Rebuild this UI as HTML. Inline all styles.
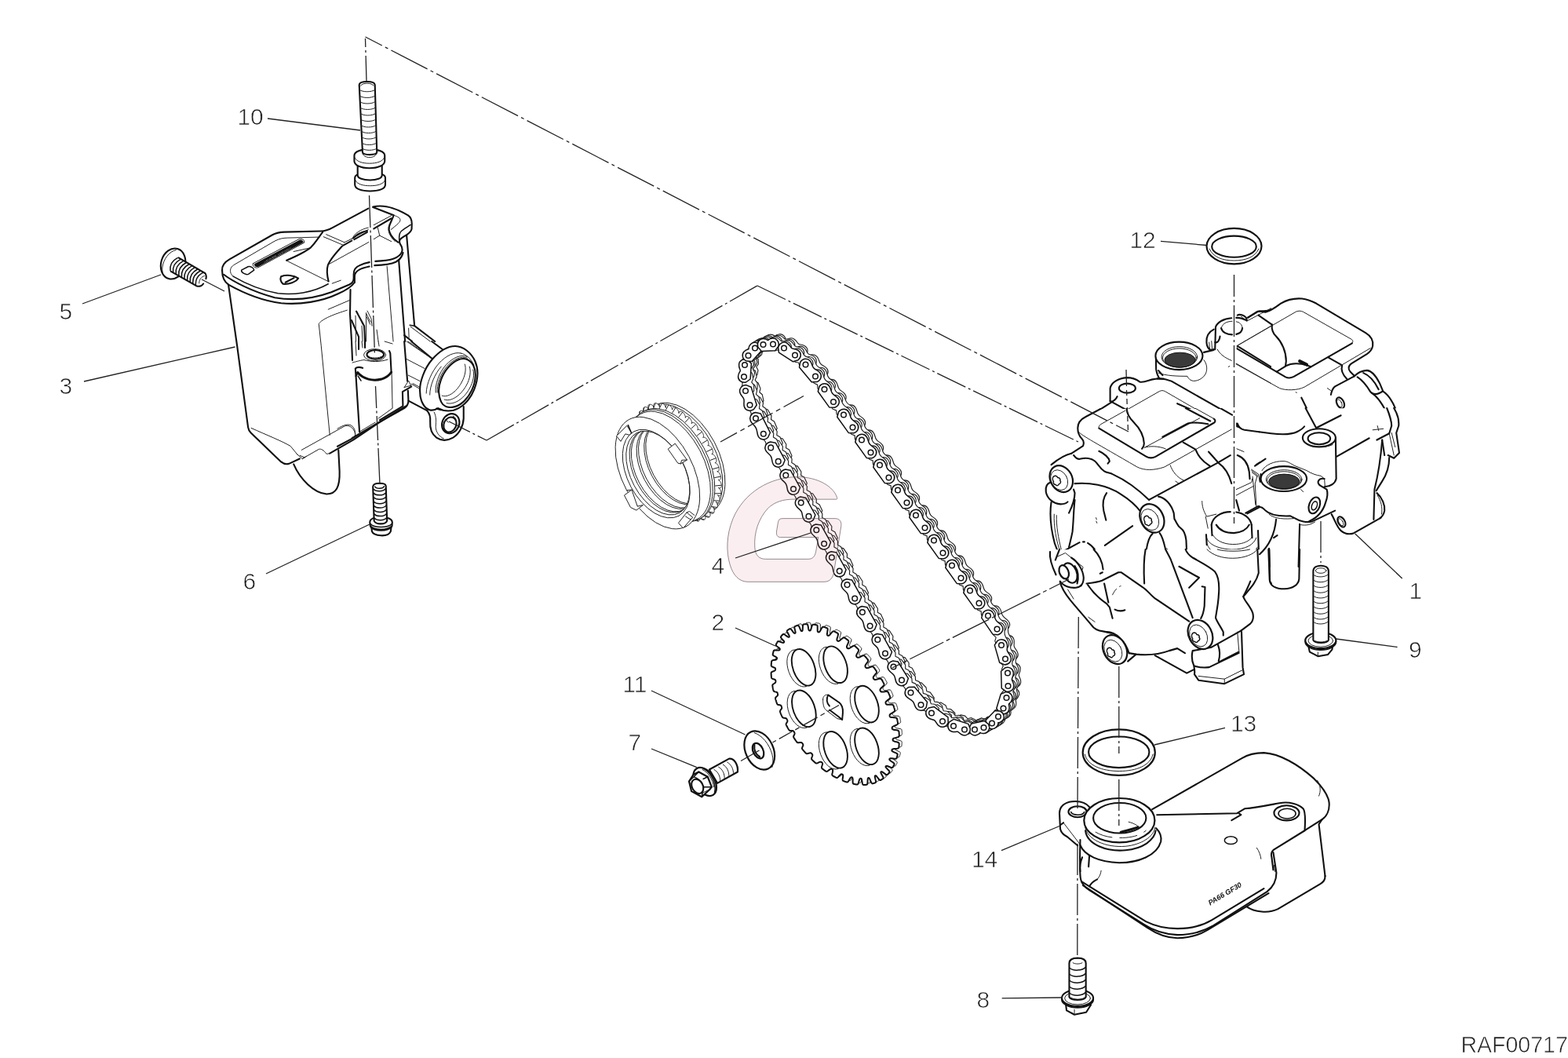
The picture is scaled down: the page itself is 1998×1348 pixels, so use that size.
<!DOCTYPE html>
<html lang="en"><head><meta charset="utf-8"><title>RAF00717</title>
<style>
html,body{margin:0;padding:0;background:#fff;}
body{width:1998px;height:1348px;overflow:hidden;}
path,ellipse,circle,line,rect,polyline,polygon{vector-effect:non-scaling-stroke;}
svg{display:block;font-family:"Liberation Sans",sans-serif;}
.o{fill:none;stroke:#111;stroke-width:2.1;stroke-linecap:round;stroke-linejoin:round;}
.of{fill:#fff;stroke:#111;stroke-width:2.1;stroke-linecap:round;stroke-linejoin:round;}
.m{fill:none;stroke:#111;stroke-width:1.5;stroke-linecap:round;stroke-linejoin:round;}
.mf{fill:#fff;stroke:#111;stroke-width:1.5;stroke-linecap:round;stroke-linejoin:round;}
.t{fill:none;stroke:#222;stroke-width:1;stroke-linecap:round;stroke-linejoin:round;}
.tf{fill:#fff;stroke:#222;stroke-width:1;stroke-linecap:round;stroke-linejoin:round;}
.ld{fill:none;stroke:#222;stroke-width:1.3;}
.dd{fill:none;stroke:#222;stroke-width:1.3;stroke-dasharray:28 5 4 5;}
.lb{font-size:30px;fill:#1c1c1c;stroke:#fff;stroke-width:0.7px;}
.w{fill:#fff;stroke:none;}
.k{fill:#111;stroke:none;}
</style></head>
<body>
<svg width="1998" height="1348" viewBox="0 0 1998 1348">
<rect width="1998" height="1348" fill="#fff"/>
<!-- bolt 10 : zoom region (250,30) 4x -->
<g transform="translate(250,30) scale(0.25025)">
<path class="of" d="M808,785 V820 C808,842 842,853 885,853 C930,853 963,842 963,820 V785 C963,768 930,758 885,758 C840,758 808,768 808,785Z"/>
<path class="t" d="M812,800 C820,818 850,826 885,826 C922,826 952,818 960,800"/>
<path class="of" d="M822,715 V772 C822,788 850,797 885,797 C920,797 946,788 946,772 V715Z"/>
<path class="of" d="M805,672 V700 C805,722 840,736 882,736 C925,736 960,722 960,700 V672 C960,652 925,640 882,640 C840,640 805,652 805,672Z"/>
<path class="t" d="M807,682 C815,702 845,712 882,712 C920,712 950,702 958,682"/>
<path class="of" d="M830,312 L847,655 C850,672 918,672 920,655 L910,312 C908,290 832,290 830,312Z"/>
<path class="t" d="M846,658 C850,690 915,690 920,658"/>
<path class="t" d="M838,316 C845,300 895,300 903,316 M833,338 C845,350 895,350 909,338 M833,368 C845,381 895,381 910,368 M834,398 C846,411 896,411 911,398 M835,428 C847,441 897,441 912,428 M837,458 C849,471 899,471 913,458 M838,488 C850,501 900,501 914,488 M840,518 C852,531 901,531 915,518 M841,548 C853,561 902,561 916,548 M843,578 C855,591 903,591 917,578 M844,608 C856,621 904,621 918,608 M846,636 C858,648 905,648 919,636"/>
</g>

<!-- bolt 5 : zoom E (190,305) 16.64x -->
<g transform="translate(190,305) scale(0.06009)">
<ellipse class="of" cx="510" cy="516" rx="255" ry="330" transform="rotate(17 508 512)"/>
<path class="t" d="M570,225 C430,250 300,420 280,600 C275,660 285,710 300,750"/>
<path class="of" d="M625,390 L1190,720 C1215,760 1215,800 1205,835 L1150,940 C1120,985 1060,1005 1000,985 L465,680 C420,600 480,400 625,390Z" style="stroke:none"/>
<path class="o" d="M625,390 L1190,720 C1212,755 1215,800 1205,835"/>
<path class="o" d="M465,680 L1000,985 C1060,1005 1120,985 1150,940"/>
<path class="m" d="M600,392 Q430,481 450,660"/>
<path class="m" d="M661,426 Q490,515 510,694"/>
<path class="m" d="M722,460 Q551,550 570,729"/>
<path class="m" d="M783,495 Q612,584 630,763"/>
<path class="m" d="M844,529 Q672,618 690,797"/>
<path class="m" d="M906,563 Q732,652 749,832"/>
<path class="m" d="M967,597 Q793,687 809,866"/>
<path class="m" d="M1028,632 Q854,721 869,900"/>
<path class="m" d="M1089,666 Q914,755 929,934"/>
<path class="m" d="M1150,700 Q974,789 989,969"/>
<path class="t" d="M1170,775 C1110,790 1060,850 1060,930"/>
</g>
<path class="ld" d="M257,356 L286,371"/>

<!-- bolt 6 : zoom F (425,605) 16.64x -->
<g transform="translate(425,605) scale(0.06009)">
<path class="of" d="M805,1120 L815,1200 C850,1295 1150,1335 1212,1200 L1222,1120Z"/>
<path class="of" d="M770,1010 C770,935 870,895 1005,895 C1140,895 1245,935 1245,1010 L1240,1085 C1150,1185 850,1185 780,1085Z"/>
<path class="o" d="M790,1105 C860,1200 1150,1200 1228,1105"/>
<path class="m" d="M785,1040 C860,1130 1150,1130 1235,1040"/>
<path class="of" d="M835,250 C840,200 900,180 975,180 C1050,180 1105,200 1110,235 L1135,975 C1100,1060 900,1060 860,975Z"/>
<path class="m" d="M880,250 C900,300 1050,300 1070,245"/>
<path class="m" d="M841,300 C901,362 1048,362 1108,292"/>
<path class="m" d="M844,385 C904,447 1051,447 1111,377"/>
<path class="m" d="M847,475 C907,537 1054,537 1114,467"/>
<path class="m" d="M850,565 C910,627 1057,627 1117,557"/>
<path class="m" d="M853,655 C913,717 1060,717 1120,647"/>
<path class="m" d="M856,745 C916,807 1063,807 1123,737"/>
<path class="m" d="M859,830 C919,892 1066,892 1126,822"/>
<path class="m" d="M862,915 C922,977 1069,977 1129,907"/>
</g>

<!-- housing 3 lid : zoom region (230,240) 5x -->
<g transform="translate(230,240) scale(0.20025)">
<!-- outer rim -->
<path class="o" d="M265,522 C262,492 282,468 312,451 L585,296 C612,282 632,279 662,278 L892,272 C922,271 942,264 967,250 L1195,128"/>
<path class="o" d="M1225,117 C1250,112 1285,112 1310,116 C1360,124 1420,155 1448,172 C1466,184 1472,205 1472,225 L1471,258 C1468,275 1455,285 1440,295 C1425,305 1410,312 1400,322 C1392,330 1392,345 1400,358 C1412,375 1414,390 1408,405 C1400,425 1380,440 1350,450 C1320,460 1280,462 1240,464"/>
<path class="o" d="M1225,120 L1357,171 C1350,190 1340,210 1332,230 C1322,252 1326,275 1340,298 C1352,318 1368,332 1384,343"/>
<path class="m" d="M1464,232 C1440,248 1420,258 1405,272 C1392,284 1390,300 1392,328"/>
<path class="t" d="M1357,171 C1385,180 1400,190 1398,204 C1395,220 1365,240 1340,262"/>
<path class="t" d="M1330,228 C1318,255 1322,280 1338,305 C1346,318 1354,328 1365,338"/>
<path class="o" d="M1416,409 C1410,435 1395,455 1370,468 C1340,482 1290,488 1235,490"/>
<path class="o" d="M265,522 C265,560 280,595 305,612"/>
<path class="o" d="M305,612 C400,665 520,715 640,730 C760,742 900,720 1000,672 C1050,650 1090,625 1108,598"/>
<path class="o" d="M275,548 C330,590 450,655 600,695 C720,715 850,700 960,660 L1075,612 C1095,602 1102,590 1102,570 L1102,545 C1102,520 1115,500 1140,490 C1160,480 1180,474 1202,470"/>
<path class="o" d="M1108,598 L1108,560 C1108,540 1120,526 1140,516 C1160,506 1180,502 1202,497"/>
<!-- inner lid lines -->
<path class="m" d="M335,560 C420,610 520,650 620,668 C720,680 840,665 940,608"/>
<path class="t" d="M335,560 C318,545 312,525 322,505 C326,497 335,490 345,484 L600,335 C630,320 650,316 680,315 L885,310"/>
<path class="t" d="M965,605 L1020,585"/>
<!-- channel -->
<path class="o" d="M905,278 C880,310 860,345 830,375 C800,400 740,430 675,458"/>
<path class="t" d="M675,460 L940,592"/>
<path class="t" d="M720,402 L828,378"/>
<path class="o" d="M1029,367 C990,410 955,445 938,488 C928,520 934,560 942,592"/>
<path class="t" d="M910,308 L1033,360 M927,293 L1040,342"/>
<path class="o" d="M1036,363 L1090,333 M1105,325 L1188,279"/>
<path class="t" d="M1040,345 L1095,318 M1105,312 L1195,262"/>
<path class="t" d="M1093,322 C1100,290 1150,258 1195,250"/>
<path class="o" d="M1100,316 C1120,295 1150,278 1188,270"/>
<path class="t" d="M1230,233 L1342,173"/>
<path class="o" d="M1230,257 L1342,191"/>
<path class="t" d="M1255,250 L1267,300 L1342,338 M1267,300 L1230,323"/>
<path class="t" d="M938,486 L1198,342"/>
<!-- label plate -->
<path class="t" d="M462,478 L755,322 C775,318 790,328 788,345 L495,503 C475,510 455,497 462,478Z"/>
<path class="k" d="M470,481 L757,328 C770,325 783,333 782,345 L494,499 C480,503 466,494 470,481Z"/>
<text transform="translate(530,474) rotate(-28)" font-size="9" font-weight="bold" fill="#999" textLength="200" lengthAdjust="spacingAndGlyphs" style="filter:grayscale(1)">&gt;PA66-GF30&lt;</text>
<path class="m" d="M388,520 L430,498 C445,494 468,508 468,520 L432,546 C418,552 384,537 388,520Z"/>
<!-- logo -->
<path class="o" d="M640,560 C675,548 720,552 750,572 C735,595 690,612 652,608 C638,595 634,575 640,560Z"/>
<path class="o" d="M668,598 L722,570"/>
</g>

<!-- housing 3 body : zoom A coords (230,240) 5x -->
<g transform="translate(230,240) scale(0.20025)">
<path class="o" d="M305,615 L360,1000 L430,1520 C432,1535 438,1545 448,1555 L640,1740 C655,1752 672,1758 690,1752 L758,1720"/>
<path class="o" d="M950,1686 L1100,1600 L1260,1492 L1435,1385"/>
<path class="t" d="M740,1690 L775,1720 L880,1660 C895,1655 910,1665 930,1690 L950,1686"/>
<path class="t" d="M760,1700 L790,1712 M775,1722 L800,1705"/>
<path class="o" d="M720,1755 C760,1850 850,1940 930,1945 C990,1945 1015,1900 1012,1800 L1005,1665"/>
<path class="t" d="M450,1525 C550,1570 650,1610 700,1640 L745,1695"/>
<path class="t" d="M770,1665 L1040,1515 C1070,1500 1100,1520 1112,1560 L1110,1580"/>
<path class="t" d="M1060,775 C980,800 900,830 880,862 L895,1000 L950,1570"/>
<path class="t" d="M940,770 L1075,712"/>
</g>
<!-- zoom C coords (430,300) 10x -->
<g transform="translate(430,300) scale(0.10015)">
<path class="o" d="M165,690 L160,1000 L180,1348"/>
<path class="o" d="M780,310 L860,1348"/>
<path class="o" d="M880,0 L980,1150 L1240,1348"/>
<path class="m" d="M920,1140 L980,1150"/>
<path class="t" d="M930,1160 L1180,1348 M905,1180 L910,1300"/>
<path class="o" d="M850,1270 L950,1348"/>
<path class="t" d="M630,390 L710,1348"/>
<path class="o" d="M240,965 L340,1150 L350,1348"/>
<path class="o" d="M180,1080 L270,1290 L270,1348"/>
<path class="t" d="M380,960 L430,1060 L440,1150 M370,1000 L420,1100 M375,1040 L415,1130 M365,985 L365,1348 M310,1150 L320,1348 M230,1020 L235,1348 M500,1200 L520,1348"/>
<path class="t" d="M250,970 L320,1130"/>
</g>
<!-- zoom D coords (430,435) 10x -->
<g transform="translate(430,435) scale(0.10015)">
<path class="o" d="M180,0 L190,240"/>
<path class="o" d="M270,0 L270,100 M350,0 L350,80"/>
<path class="t" d="M230,0 L240,180 M310,0 L320,80 M520,0 L530,60 M600,0 L700,30"/>
<path class="t" d="M190,270 C260,250 300,240 340,235 C420,260 540,265 640,230"/>
<ellipse class="t" cx="475" cy="172" rx="140" ry="76"/>
<ellipse class="o" cx="482" cy="168" rx="108" ry="58"/>
<path class="t" d="M390,185 C400,215 540,225 580,180"/>
<path class="o" d="M660,120 L672,150 L685,390"/>
<path class="o" d="M255,395 C330,480 450,510 560,480 C610,465 660,430 685,392" style="stroke-width:3"/>
<path class="o" d="M320,338 C285,325 245,328 228,345 L235,440 C245,420 255,405 262,395"/>
<path class="o" d="M235,440 L280,1150"/>
<path class="m" d="M262,440 L300,500"/>
<path class="t" d="M690,400 L700,850 L520,980"/>
<path class="o" d="M850,0 L890,505"/>
<path class="o" d="M0,1335 L180,1240 L500,1045 L850,850 C880,830 900,800 903,760 L897,625"/>
<path class="o" d="M540,1000 L833,822 L828,640 L940,575"/>
<path class="t" d="M180,1225 L430,1080 M280,1150 L480,1030"/>
<path class="t" d="M0,1110 C80,1060 150,1040 190,1080 C215,1105 228,1140 225,1175"/>
<path class="t" d="M850,585 L905,500 L940,575 M850,585 L940,560"/>
<!-- arm -->
<path class="o" d="M940,0 L1200,215"/>
<path class="o" d="M1200,0 L1335,100"/>
<path class="t" d="M880,0 L1180,205 M900,0 L1190,210"/>
<path class="t" d="M880,225 L1110,345 M900,430 L1050,505"/>
<path class="t" d="M940,540 L1040,600 M960,535 L1050,585"/>
<path class="o" d="M903,755 L1140,880"/>
<!-- flange ring -->
<path class="of" d="M1050,640 C1040,520 1110,340 1200,235 C1290,130 1400,60 1500,60 C1600,62 1700,140 1750,250 C1800,360 1790,480 1740,610 C1700,710 1630,800 1540,850 C1460,895 1360,895 1280,850 C1200,900 1130,870 1090,800 C1060,750 1050,700 1050,640Z"/>
<path class="t" d="M1130,660 C1130,540 1200,380 1290,280 C1380,180 1490,130 1570,150 M1175,680 C1175,560 1240,410 1320,320"/>
<path class="t" d="M1570,150 C1640,165 1700,220 1735,300"/>
<path class="o" d="M1290,650 C1280,560 1330,420 1410,330 C1490,240 1580,200 1650,230 C1720,260 1760,340 1755,440 C1750,560 1690,690 1600,770 C1510,850 1400,860 1340,800 C1310,765 1295,710 1290,650Z"/>
<path class="t" d="M1250,650 C1240,550 1290,400 1380,300 C1470,205 1570,160 1650,195 M1270,650 C1262,555 1310,410 1395,315 C1480,225 1575,180 1650,212"/>
<path class="t" d="M1330,690 C1400,720 1510,650 1580,520 C1630,430 1640,340 1620,290 M1360,740 C1440,770 1560,700 1640,560 C1690,470 1700,380 1680,320 M1390,785 C1480,810 1600,740 1680,600 C1730,510 1745,420 1725,360"/>
<path class="o" d="M1260,855 L1320,870"/>
<!-- lug -->
<path class="o" d="M1140,880 C1175,920 1185,960 1180,1020 C1175,1100 1200,1180 1260,1225 C1320,1265 1400,1265 1470,1225 C1550,1175 1600,1080 1605,980 L1605,830"/>
<path class="t" d="M1230,900 C1260,960 1255,1020 1250,1080 C1250,1150 1290,1210 1350,1235"/>
<ellipse class="o" cx="1440" cy="1045" rx="108" ry="128" transform="rotate(25 1440 1045)"/>
<ellipse class="o" cx="1432" cy="1058" rx="78" ry="98" transform="rotate(25 1432 1058)"/>
<path class="t" d="M1470,950 C1500,960 1520,1000 1512,1040 M1385,1000 L1410,1030"/>
</g>

<!-- ring gear : zoom R (770,500) 7.094x -->
<g transform="translate(770,500) scale(0.14096)">
<ellipse class="tf" cx="712" cy="598" rx="545" ry="320" transform="rotate(62 712 598)"/>
<ellipse class="tf" cx="690" cy="610" rx="545" ry="320" transform="rotate(62 690 610)"/>
<path class="tf" d="M908,1107 L913,1119 L914,1124 L914,1127 L914,1130 L914,1133 L914,1136 L913,1138 L913,1140 L912,1142 L911,1144 L910,1145 L909,1146 L908,1148 L907,1149 L905,1150 L904,1150 L903,1151 L901,1152 L900,1152 L898,1152 L897,1152 L895,1152 L893,1152 L891,1152 L889,1151 L888,1151 L886,1150 L883,1149 L881,1148 L879,1146 L877,1145 L874,1142 L871,1140 L868,1136 L861,1124 L865,1136 L865,1141 L865,1144 L865,1147 L864,1150 L863,1152 L862,1154 L861,1156 L860,1157 L859,1158 L858,1160 L857,1161 L856,1161 L854,1162 L853,1163 L851,1163 L850,1163 L848,1164 L846,1164 L845,1164 L843,1163 L841,1163 L839,1162 L838,1162 L836,1161 L834,1160 L832,1159 L829,1157 L827,1156 L825,1154 L823,1151 L820,1149 L818,1146 L815,1141 L809,1129 L812,1141 L811,1146 L811,1149 L810,1151 L809,1153 L808,1155 L807,1157 L805,1158 L804,1159 L803,1160 L801,1161 L800,1162 L798,1162 L797,1163 L795,1163 L793,1163 L792,1163 L790,1163 L788,1162 L787,1162 L785,1161 L783,1160 L781,1159 L779,1158 L777,1157 L775,1156 L773,1154 L771,1152 L769,1150 L767,1148 L765,1146 L763,1143 L760,1139 L758,1134 L754,1122 L754,1134 L753,1138 L752,1140 L751,1142 L750,1144 L748,1146 L747,1147 L746,1148 L744,1148 L742,1149 L741,1149 L739,1150 L738,1150 L736,1150 L734,1150 L732,1149 L731,1149 L729,1148 L727,1148 L725,1147 L723,1146 L721,1145 L720,1143 L718,1142 L716,1140 L714,1139 L712,1137 L710,1135 L708,1132 L706,1130 L704,1127 L702,1124 L700,1120 L698,1115 L695,1103 L695,1114 L693,1117 L692,1119 L690,1121 L689,1122 L687,1123 L685,1124 L683,1125 L682,1125 L680,1125 L678,1125 L676,1125 L675,1125 L673,1124 L671,1124 L669,1123 L667,1122 L666,1121 L664,1120 L662,1119 L660,1118 L658,1116 L657,1115 L655,1113 L653,1111 L651,1109 L649,1107 L648,1104 L646,1102 L644,1099 L642,1096 L641,1093 L639,1089 L637,1084 L636,1072 L634,1082 L632,1085 L630,1086 L628,1088 L626,1088 L624,1089 L623,1089 L621,1089 L619,1089 L617,1089 L615,1089 L613,1088 L611,1087 L610,1087 L608,1086 L606,1085 L604,1083 L602,1082 L601,1081 L599,1079 L597,1078 L595,1076 L594,1074 L592,1072 L590,1070 L589,1068 L587,1065 L585,1063 L584,1060 L582,1057 L581,1054 L580,1050 L578,1046 L577,1042 L577,1031 L574,1039 L571,1041 L569,1042 L567,1043 L565,1043 L563,1043 L561,1043 L559,1043 L557,1042 L555,1041 L553,1041 L551,1040 L549,1039 L547,1038 L546,1036 L544,1035 L542,1033 L540,1032 L538,1030 L537,1028 L535,1027 L534,1025 L532,1022 L530,1020 L529,1018 L528,1015 L526,1013 L525,1010 L524,1007 L522,1004 L521,1001 L520,998 L519,994 L519,989 L521,979 L516,986 L513,987 L510,988 L508,988 L506,988 L503,987 L501,987 L499,986 L497,985 L495,984 L493,983 L491,981 L490,980 L488,979 L486,977 L484,975 L483,974 L481,972 L479,970 L478,968 L476,966 L475,964 L473,961 L472,959 L471,956 L470,954 L468,951 L467,948 L466,946 L466,942 L465,939 L464,936 L464,932 L464,928 L467,919 L461,924 L458,925 L455,924 L453,924 L450,923 L448,922 L446,921 L444,920 L442,919 L440,918 L438,916 L436,914 L434,913 L432,911 L431,909 L429,907 L427,905 L426,903 L425,901 L423,899 L422,897 L421,894 L419,892 L418,889 L417,887 L416,884 L415,882 L415,879 L414,876 L413,873 L413,870 L413,867 L413,863 L414,859 L418,852 L411,855 L408,855 L405,854 L402,853 L400,852 L397,851 L395,849 L393,848 L391,846 L389,844 L387,842 L386,840 L384,839 L382,837 L381,834 L379,832 L378,830 L377,828 L375,826 L374,823 L373,821 L372,819 L371,816 L370,814 L370,811 L369,808 L368,806 L368,803 L368,800 L367,797 L367,794 L368,791 L368,788 L369,785 L375,779 L367,780 L363,779 L360,778 L358,777 L355,775 L353,773 L351,771 L349,769 L347,767 L345,765 L344,763 L342,761 L341,759 L339,757 L338,755 L336,752 L335,750 L334,748 L333,745 L332,743 L331,741 L331,738 L330,736 L329,733 L329,731 L328,728 L328,726 L328,723 L328,720 L328,718 L329,715 L329,712 L330,709 L332,707 L339,703 L330,702 L327,700 L324,698 L321,696 L319,694 L316,692 L314,690 L313,688 L311,686 L309,683 L308,681 L306,679 L305,677 L304,674 L302,672 L301,669 L300,667 L300,665 L299,662 L298,660 L298,657 L297,655 L297,653 L296,650 L296,648 L296,645 L296,643 L296,641 L297,638 L297,636 L298,633 L299,631 L301,629 L303,626 L310,624 L301,622 L298,620 L295,617 L292,615 L290,612 L288,610 L286,607 L284,605 L283,603 L281,600 L280,598 L279,595 L278,593 L277,590 L276,588 L275,586 L274,583 L274,581 L273,578 L273,576 L272,574 L272,571 L272,569 L272,567 L272,565 L273,562 L273,560 L273,558 L274,556 L275,554 L276,552 L278,550 L279,548 L282,547 L290,546 L281,542 L278,539 L275,536 L272,533 L270,531 L269,528 L267,525 L265,523 L264,520 L263,518 L262,515 L261,513 L260,510 L259,508 L259,505 L258,503 L258,500 L257,498 L257,496 L257,494 L257,491 L257,489 L257,487 L257,485 L258,483 L258,481 L259,479 L260,477 L261,475 L262,474 L264,472 L265,471 L268,469 L271,469 L279,470 L270,464 L267,461 L264,457 L262,454 L260,451 L259,449 L257,446 L256,443 L255,440 L254,438 L253,435 L253,433 L252,430 L251,428 L251,425 L251,423 L251,421 L251,419 L251,417 L251,414 L251,412 L251,410 L252,408 L253,407 L253,405 L254,403 L255,402 L256,400 L258,399 L259,397 L261,396 L263,395 L265,395 L269,395 L278,398 L269,391 L266,387 L263,383 L261,380 L260,377 L259,374 L258,371 L257,368 L256,365 L255,363 L255,360 L254,358 L254,355 L254,353 L254,351 L254,349 L254,346 L254,344 L254,342 L255,341 L255,339 L256,337 L257,335 L258,334 L259,332 L260,331 L261,330 L262,329 L264,328 L266,327 L268,326 L270,326 L273,326 L276,327 L285,332 L277,323 L274,318 L272,315 L270,311 L269,308 L268,305 L267,302 L267,299 L266,297 L266,294 L266,292 L266,289 L266,287 L266,285 L266,283 L266,281 L267,279 L267,277 L268,275 L268,274 L269,272 L270,271 L271,270 L272,268 L274,267 L275,266 L276,265 L278,265 L280,264 L282,264 L284,264 L286,264 L289,265 L293,266 L302,273 L294,263 L292,258 L290,254 L289,251 L288,247 L287,244 L287,242 L287,239 L286,236 L286,234 L286,232 L287,229 L287,227 L287,225 L288,224 L288,222 L289,220 L290,219 L291,217 L292,216 L293,215 L294,214 L295,213 L297,212 L298,211 L300,210 L301,210 L303,210 L305,210 L307,210 L309,210 L312,211 L315,212 L319,214 L327,223 L320,212 L318,207 L317,203 L316,199 L316,196 L316,193 L316,191 L316,188 L316,186 L316,183 L316,181 L317,179 L317,178 L318,176 L319,174 L320,173 L321,171 L322,170 L323,169 L324,168 L325,167 L327,167 L328,166 L330,165 L331,165 L333,165 L335,165 L337,165 L339,165 L341,166 L343,167 L346,168 L349,170 L353,173 L361,183 L355,171 L353,166 L353,162 L352,159 L352,156 L352,153 L352,150 L353,148 L353,146 L354,144 L354,142 L355,140 L356,139 L357,138 L358,136 L359,135 L360,134 L362,133 L363,132 L364,132 L366,131 L367,131 L369,131 L371,131 L372,131 L374,131 L376,131 L378,132 L380,133 L383,134 L385,135 L388,137 L391,139 L394,143 L402,153 L397,141 L396,136 L396,133 L396,130 L396,127 L396,124 L397,122 L397,120 L398,118 L399,116 L400,115 L401,114 L402,112 L403,111 L405,110 L406,110 L407,109 L409,108 L410,108 L412,108 L413,108 L415,108 L417,108 L419,108 L421,109 L422,109 L424,110 L427,111 L429,112 L431,114 L433,115 L436,118 L439,120 L442,124 L449,136 L445,124 L445,119 L445,116 L445,113 L446,110 L447,108 L448,106 L449,104 L450,103 L451,102 L452,100 L453,99 L454,99 L456,98 L457,97 L459,97 L460,97 L462,96 L464,96 L465,96 L467,97 L469,97 L471,98 L472,98 L474,99 L476,100 L478,101 L481,103 L483,104 L485,106 L487,109 L490,111 L492,114 L495,119 L501,131 L498,119 L499,114 L499,111 L500,109 L501,107 L502,105 L503,103 L505,102 L506,101 L507,100 L509,99 L510,98 L512,98 L513,97 L515,97 L517,97 L518,97 L520,97 L522,98 L523,98 L525,99 L527,100 L529,101 L531,102 L533,103 L535,104 L537,106 L539,108 L541,110 L543,112 L545,114 L547,117 L550,121 L552,126 L556,138 L556,126 L557,122 L558,120 L559,118 L560,116 L562,114 L563,113 L564,112 L566,112 L568,111 L569,111 L571,110 L572,110 L574,110 L576,110 L578,111 L579,111 L581,112 L583,112 L585,113 L587,114 L589,115 L590,117 L592,118 L594,120 L596,121 L598,123 L600,125 L602,128 L604,130 L606,133 L608,136 L610,140 L612,145 L615,157 L615,146 L617,143 L618,141 L620,139 L621,138 L623,137 L625,136 L627,135 L628,135 L630,135 L632,135 L634,135 L635,135 L637,136 L639,136 L641,137 L643,138 L644,139 L646,140 L648,141 L650,142 L652,144 L653,145 L655,147 L657,149 L659,151 L661,153 L662,156 L664,158 L666,161 L668,164 L669,167 L671,171 L673,176 L674,188 L676,178 L678,175 L680,174 L682,172 L684,172 L686,171 L687,171 L689,171 L691,171 L693,171 L695,171 L697,172 L699,173 L700,173 L702,174 L704,175 L706,177 L708,178 L709,179 L711,181 L713,182 L715,184 L716,186 L718,188 L720,190 L721,192 L723,195 L725,197 L726,200 L728,203 L729,206 L730,210 L732,214 L733,218 L733,229 L736,221 L739,219 L741,218 L743,217 L745,217 L747,217 L749,217 L751,217 L753,218 L755,219 L757,219 L759,220 L761,221 L763,222 L764,224 L766,225 L768,227 L770,228 L772,230 L773,232 L775,233 L776,235 L778,238 L780,240 L781,242 L782,245 L784,247 L785,250 L786,253 L788,256 L789,259 L790,262 L791,266 L791,271 L789,281 L794,274 L797,273 L800,272 L802,272 L804,272 L807,273 L809,273 L811,274 L813,275 L815,276 L817,277 L819,279 L820,280 L822,281 L824,283 L826,285 L827,286 L829,288 L831,290 L832,292 L834,294 L835,296 L837,299 L838,301 L839,304 L840,306 L842,309 L843,312 L844,314 L844,318 L845,321 L846,324 L846,328 L846,332 L843,341 L849,336 L852,335 L855,336 L857,336 L860,337 L862,338 L864,339 L866,340 L868,341 L870,342 L872,344 L874,346 L876,347 L878,349 L879,351 L881,353 L883,355 L884,357 L885,359 L887,361 L888,363 L889,366 L891,368 L892,371 L893,373 L894,376 L895,378 L895,381 L896,384 L897,387 L897,390 L897,393 L897,397 L896,401 L892,408 L899,405 L902,405 L905,406 L908,407 L910,408 L913,409 L915,411 L917,412 L919,414 L921,416 L923,418 L924,420 L926,421 L928,423 L929,426 L931,428 L932,430 L933,432 L935,434 L936,437 L937,439 L938,441 L939,444 L940,446 L940,449 L941,452 L942,454 L942,457 L942,460 L943,463 L943,466 L942,469 L942,472 L941,475 L935,481 L943,480 L947,481 L950,482 L952,483 L955,485 L957,487 L959,489 L961,491 L963,493 L965,495 L966,497 L968,499 L969,501 L971,503 L972,505 L974,508 L975,510 L976,512 L977,515 L978,517 L979,519 L979,522 L980,524 L981,527 L981,529 L982,532 L982,534 L982,537 L982,540 L982,542 L981,545 L981,548 L980,551 L978,553 L971,557 L980,558 L983,560 L986,562 L989,564 L991,566 L994,568 L996,570 L997,572 L999,574 L1001,577 L1002,579 L1004,581 L1005,583 L1006,586 L1008,588 L1009,591 L1010,593 L1010,595 L1011,598 L1012,600 L1012,603 L1013,605 L1013,607 L1014,610 L1014,612 L1014,615 L1014,617 L1014,619 L1013,622 L1013,624 L1012,627 L1011,629 L1009,631 L1007,634 L1000,636 L1009,638 L1012,640 L1015,643 L1018,645 L1020,648 L1022,650 L1024,653 L1026,655 L1027,657 L1029,660 L1030,662 L1031,665 L1032,667 L1033,670 L1034,672 L1035,674 L1036,677 L1036,679 L1037,682 L1037,684 L1038,686 L1038,689 L1038,691 L1038,693 L1038,695 L1037,698 L1037,700 L1037,702 L1036,704 L1035,706 L1034,708 L1032,710 L1031,712 L1028,713 L1020,714 L1029,718 L1032,721 L1035,724 L1038,727 L1040,729 L1041,732 L1043,735 L1045,737 L1046,740 L1047,742 L1048,745 L1049,747 L1050,750 L1051,752 L1051,755 L1052,757 L1052,760 L1053,762 L1053,764 L1053,766 L1053,769 L1053,771 L1053,773 L1053,775 L1052,777 L1052,779 L1051,781 L1050,783 L1049,785 L1048,786 L1046,788 L1045,789 L1042,791 L1039,791 L1031,790 L1040,796 L1043,799 L1046,803 L1048,806 L1050,809 L1051,811 L1053,814 L1054,817 L1055,820 L1056,822 L1057,825 L1057,827 L1058,830 L1059,832 L1059,835 L1059,837 L1059,839 L1059,841 L1059,843 L1059,846 L1059,848 L1059,850 L1058,852 L1057,853 L1057,855 L1056,857 L1055,858 L1054,860 L1052,861 L1051,863 L1049,864 L1047,865 L1045,865 L1041,865 L1032,862 L1041,869 L1044,873 L1047,877 L1049,880 L1050,883 L1051,886 L1052,889 L1053,892 L1054,895 L1055,897 L1055,900 L1056,902 L1056,905 L1056,907 L1056,909 L1056,911 L1056,914 L1056,916 L1056,918 L1055,919 L1055,921 L1054,923 L1053,925 L1052,926 L1051,928 L1050,929 L1049,930 L1048,931 L1046,932 L1044,933 L1042,934 L1040,934 L1037,934 L1034,933 L1025,928 L1033,937 L1036,942 L1038,945 L1040,949 L1041,952 L1042,955 L1043,958 L1043,961 L1044,963 L1044,966 L1044,968 L1044,971 L1044,973 L1044,975 L1044,977 L1044,979 L1043,981 L1043,983 L1042,985 L1042,986 L1041,988 L1040,989 L1039,990 L1038,992 L1036,993 L1035,994 L1034,995 L1032,995 L1030,996 L1028,996 L1026,996 L1024,996 L1021,995 L1017,994 L1008,987 L1016,997 L1018,1002 L1020,1006 L1021,1009 L1022,1013 L1023,1016 L1023,1018 L1023,1021 L1024,1024 L1024,1026 L1024,1028 L1023,1031 L1023,1033 L1023,1035 L1022,1036 L1022,1038 L1021,1040 L1020,1041 L1019,1043 L1018,1044 L1017,1045 L1016,1046 L1015,1047 L1013,1048 L1012,1049 L1010,1050 L1009,1050 L1007,1050 L1005,1050 L1003,1050 L1001,1050 L998,1049 L995,1048 L991,1046 L983,1037 L990,1048 L992,1053 L993,1057 L994,1061 L994,1064 L994,1067 L994,1069 L994,1072 L994,1074 L994,1077 L994,1079 L993,1081 L993,1082 L992,1084 L991,1086 L990,1087 L989,1089 L988,1090 L987,1091 L986,1092 L985,1093 L983,1093 L982,1094 L980,1095 L979,1095 L977,1095 L975,1095 L973,1095 L971,1095 L969,1094 L967,1093 L964,1092 L961,1090 L957,1087 L949,1077 L955,1089 L957,1094 L957,1098 L958,1101 L958,1104 L958,1107 L958,1110 L957,1112 L957,1114 L956,1116 L956,1118 L955,1120 L954,1121 L953,1122 L952,1124 L951,1125 L950,1126 L948,1127 L947,1128 L946,1128 L944,1129 L943,1129 L941,1129 L939,1129 L938,1129 L936,1129 L934,1129 L932,1128 L930,1127 L927,1126 L925,1125 L922,1123 L919,1121 L916,1117Z"/>
<path class="t" d="M901,1149 L857,1136"/>
<path class="t" d="M848,1161 L807,1148"/>
<path class="t" d="M790,1160 L753,1147"/>
<path class="t" d="M729,1146 L695,1134"/>
<path class="t" d="M667,1119 L636,1108"/>
<path class="t" d="M603,1081 L576,1072"/>
<path class="t" d="M542,1031 L518,1025"/>
<path class="t" d="M483,971 L462,969"/>
<path class="t" d="M428,903 L411,904"/>
<path class="t" d="M379,828 L364,834"/>
<path class="t" d="M336,748 L324,759"/>
<path class="t" d="M302,666 L292,681"/>
<path class="t" d="M276,582 L267,602"/>
<path class="t" d="M259,500 L252,524"/>
<path class="t" d="M253,421 L246,450"/>
<path class="t" d="M256,347 L249,380"/>
<path class="t" d="M269,280 L261,317"/>
<path class="t" d="M291,221 L282,262"/>
<path class="t" d="M323,173 L312,216"/>
<path class="t" d="M362,136 L349,181"/>
<path class="t" d="M409,111 L393,158"/>
<path class="t" d="M462,99 L443,146"/>
<path class="t" d="M520,100 L497,147"/>
<path class="t" d="M581,114 L555,160"/>
<path class="t" d="M643,141 L614,186"/>
<path class="t" d="M707,179 L674,222"/>
<path class="t" d="M768,229 L732,269"/>
<path class="t" d="M827,289 L788,325"/>
<path class="t" d="M882,357 L839,390"/>
<path class="t" d="M931,432 L886,460"/>
<path class="t" d="M974,512 L926,535"/>
<path class="t" d="M1008,594 L958,613"/>
<path class="t" d="M1034,678 L983,692"/>
<path class="t" d="M1051,760 L998,770"/>
<path class="t" d="M1057,839 L1004,844"/>
<path class="t" d="M1054,913 L1001,914"/>
<path class="t" d="M1041,980 L989,977"/>
<path class="t" d="M1019,1039 L968,1032"/>
<path class="t" d="M987,1087 L938,1078"/>
<path class="t" d="M948,1124 L901,1113"/>
<ellipse class="tf" cx="618" cy="652" rx="548" ry="320" transform="rotate(62 618 652)"/>
<ellipse class="tf" cx="600" cy="662" rx="548" ry="320" transform="rotate(62 600 662)"/>
<ellipse class="tf" cx="585" cy="670" rx="540" ry="315" transform="rotate(62 585 670)"/>
<ellipse class="tf" cx="482" cy="728" rx="548" ry="320" transform="rotate(62 482 728)"/>
<ellipse class="tf" cx="470" cy="735" rx="432" ry="258" transform="rotate(62 470 735)"/>
<ellipse class="t" cx="485" cy="728" rx="410" ry="243" transform="rotate(62 485 728)"/>
<clipPath id="rgc"><ellipse cx="485" cy="728" rx="410" ry="243" transform="rotate(62 485 728)"/></clipPath>
<g clip-path="url(#rgc)">
<ellipse class="t" cx="575" cy="680" rx="405" ry="238" transform="rotate(62 575 680)"/>
<ellipse class="t" cx="592" cy="670" rx="405" ry="238" transform="rotate(62 592 670)"/>
<ellipse class="t" cx="640" cy="645" rx="400" ry="236" transform="rotate(62 640 645)"/>
<ellipse class="t" cx="655" cy="637" rx="400" ry="236" transform="rotate(62 655 637)"/>
<ellipse class="t" cx="512" cy="712" rx="405" ry="240" transform="rotate(62 512 712)"/>
<ellipse class="t" cx="528" cy="704" rx="405" ry="240" transform="rotate(62 528 704)"/>
</g>
<path class="tf" d="M112,392 L205,300 L245,365 L228,385 L190,375 L150,440Z"/>
<path class="m" d="M215,295 L245,365"/>
<path class="tf" d="M578,510 L640,462 L748,610 L690,645 L668,640Z"/>
<path class="t" d="M690,645 L700,612 L748,610"/>
<path class="tf" d="M183,928 L248,880 L300,1030 L350,1018 L290,1065 L240,1040Z"/>
<path class="t" d="M248,880 L205,885"/>
<path class="tf" d="M672,1178 L745,1085 L800,1130 L780,1150 L715,1225Z"/>
<path class="t" d="M745,1085 L770,1075 L815,1110 M735,1120 L780,1150"/>
</g>

<!-- chain 4 (generated) -->
<g>
<path class="tf" style="stroke-width:1.15" d="M969.2,516.2 C963.9,519.6 958.5,517.1 957.2,512.8 C955.9,508.5 957.6,506.4 956.6,503.1 C955.6,499.9 953.0,499.1 951.7,494.8 C950.4,490.5 953.4,485.3 959.7,485.2 L966.0,487.8 L969.0,495.1 L967.8,499.7 L971.3,502.8 L973.0,510.6Z"/>
<path class="tf" style="stroke-width:1.15" d="M959.3,481.6 C953.2,482.9 949.1,478.6 949.4,474.1 C949.7,469.6 952.0,468.3 952.1,466.8 C952.2,465.2 950.1,463.6 950.4,459.1 C950.7,454.6 955.4,450.9 961.2,453.0 L966.2,457.7 L966.5,463.7 L963.8,467.5 L966.0,471.7 L964.9,477.6Z"/>
<path class="tf" style="stroke-width:1.15" d="M960.0,454.7 C954.4,451.9 953.8,446.0 956.8,442.7 C959.8,439.3 962.4,439.7 962.7,439.4 C962.9,439.1 962.3,436.5 965.3,433.2 C968.3,429.8 974.2,429.8 977.6,435.0 L978.7,441.8 L975.9,445.9 L971.4,447.2 L970.6,451.8 L966.8,455.0Z"/>
<path class="tf" style="stroke-width:1.15" d="M974.6,436.9 C972.7,430.9 976.5,426.4 981.0,426.2 C985.5,426.0 987.1,428.2 987.3,428.2 C987.6,428.1 989.0,425.9 993.5,425.7 C998.0,425.5 1002.2,429.8 1000.7,435.8 L996.6,441.3 L991.9,442.2 L987.8,439.8 L983.9,442.5 L979.1,442.0Z"/>
<path class="tf" style="stroke-width:1.15" d="M1000.5,436.9 C1002.3,431.0 1008.0,429.4 1011.8,431.9 C1015.6,434.3 1015.7,437.0 1017.6,438.2 C1019.6,439.5 1022.0,438.4 1025.8,440.9 C1029.6,443.3 1030.6,449.2 1025.9,453.3 L1019.4,455.4 L1013.3,452.3 L1011.3,448.1 L1006.6,448.0 L1001.2,443.7Z"/>
<path class="tf" style="stroke-width:1.15" d="M1028.6,455.8 C1032.2,450.6 1038.1,450.9 1041.0,454.4 C1043.9,457.8 1043.1,460.4 1045.5,463.3 C1048.0,466.2 1050.6,465.9 1053.5,469.4 C1056.4,472.8 1055.5,478.7 1049.8,481.2 L1043.0,481.3 L1037.2,475.4 L1036.6,470.8 L1032.1,469.3 L1027.3,462.5Z"/>
<path class="tf" style="stroke-width:1.15" d="M1052.9,486.8 C1056.8,481.9 1062.7,482.6 1065.3,486.3 C1067.9,489.9 1067.0,492.4 1069.3,495.6 C1071.5,498.7 1074.2,498.6 1076.8,502.3 C1079.4,505.9 1078.2,511.8 1072.3,513.9 L1065.5,513.5 L1060.1,507.1 L1059.8,502.4 L1055.4,500.6 L1051.1,493.4Z"/>
<path class="tf" style="stroke-width:1.15" d="M1077.4,519.3 C1081.3,514.4 1087.2,515.1 1089.8,518.8 C1092.4,522.4 1091.5,524.9 1093.8,528.1 C1096.0,531.2 1098.7,531.1 1101.3,534.8 C1103.9,538.4 1102.7,544.3 1096.8,546.4 L1090.0,546.0 L1084.6,539.6 L1084.3,534.9 L1079.9,533.1 L1075.6,525.9Z"/>
<path class="tf" style="stroke-width:1.15" d="M1100.4,551.3 C1104.3,546.4 1110.2,547.1 1112.8,550.8 C1115.4,554.4 1114.5,556.9 1116.8,560.1 C1119.0,563.2 1121.7,563.1 1124.3,566.8 C1126.9,570.4 1125.7,576.3 1119.8,578.4 L1113.0,578.0 L1107.6,571.6 L1107.3,566.9 L1102.9,565.1 L1098.6,557.9Z"/>
<path class="tf" style="stroke-width:1.15" d="M1123.4,583.3 C1127.3,578.4 1133.2,579.1 1135.8,582.8 C1138.4,586.4 1137.5,588.9 1139.8,592.1 C1142.0,595.2 1144.7,595.1 1147.3,598.8 C1149.9,602.4 1148.7,608.3 1142.8,610.4 L1136.0,610.0 L1130.6,603.6 L1130.3,598.9 L1125.9,597.1 L1121.6,589.9Z"/>
<path class="tf" style="stroke-width:1.15" d="M1146.4,615.3 C1150.3,610.4 1156.2,611.1 1158.8,614.8 C1161.4,618.4 1160.5,620.9 1162.8,624.1 C1165.0,627.2 1167.7,627.1 1170.3,630.8 C1172.9,634.4 1171.7,640.3 1165.8,642.4 L1159.0,642.0 L1153.6,635.6 L1153.3,630.9 L1148.9,629.1 L1144.6,621.9Z"/>
<path class="tf" style="stroke-width:1.15" d="M1169.4,647.3 C1173.3,642.4 1179.2,643.1 1181.8,646.8 C1184.4,650.4 1183.5,652.9 1185.8,656.1 C1188.0,659.2 1190.7,659.1 1193.3,662.8 C1195.9,666.4 1194.7,672.3 1188.8,674.4 L1182.0,674.0 L1176.6,667.6 L1176.3,662.9 L1171.9,661.1 L1167.6,653.9Z"/>
<path class="tf" style="stroke-width:1.15" d="M1192.4,679.3 C1196.3,674.4 1202.2,675.1 1204.8,678.8 C1207.4,682.4 1206.5,684.9 1208.8,688.1 C1211.0,691.2 1213.7,691.1 1216.3,694.8 C1218.9,698.4 1217.7,704.3 1211.8,706.4 L1205.0,706.0 L1199.6,699.6 L1199.3,694.9 L1194.9,693.1 L1190.6,685.9Z"/>
<path class="tf" style="stroke-width:1.15" d="M1215.4,711.3 C1219.3,706.4 1225.2,707.1 1227.8,710.8 C1230.4,714.4 1229.5,716.9 1231.8,720.1 C1234.0,723.2 1236.7,723.1 1239.3,726.8 C1241.9,730.4 1240.7,736.3 1234.8,738.4 L1228.0,738.0 L1222.6,731.6 L1222.3,726.9 L1217.9,725.1 L1213.6,717.9Z"/>
<path class="tf" style="stroke-width:1.15" d="M1238.4,743.3 C1242.3,738.4 1248.2,739.1 1250.8,742.8 C1253.4,746.4 1252.5,748.9 1254.8,752.1 C1257.0,755.2 1259.7,755.1 1262.3,758.8 C1264.9,762.4 1263.7,768.3 1257.8,770.4 L1251.0,770.0 L1245.6,763.6 L1245.3,758.9 L1240.9,757.1 L1236.6,749.9Z"/>
<path class="tf" style="stroke-width:1.15" d="M1261.5,775.1 C1265.5,770.4 1271.4,771.2 1273.9,775.0 C1276.5,778.7 1275.5,781.2 1277.9,784.7 C1280.2,788.2 1282.9,788.2 1285.4,792.0 C1288.0,795.7 1286.5,801.5 1280.6,803.4 L1273.8,802.8 L1268.3,796.0 L1268.2,791.2 L1263.9,789.3 L1259.5,781.7Z"/>
<path class="tf" style="stroke-width:1.15" d="M1280.0,810.9 C1285.3,807.6 1290.7,810.2 1291.9,814.6 C1293.2,818.9 1291.4,820.9 1292.3,823.9 C1293.2,826.9 1295.7,827.7 1296.9,832.1 C1298.2,836.4 1295.0,841.4 1288.8,841.5 L1282.5,838.8 L1279.7,831.7 L1281.1,827.1 L1277.5,824.0 L1276.1,816.5Z"/>
<path class="tf" style="stroke-width:1.15" d="M1289.6,845.4 C1295.5,843.5 1300.1,847.4 1300.2,851.9 C1300.3,856.4 1298.2,857.9 1298.2,860.2 C1298.3,862.4 1300.6,863.9 1300.7,868.4 C1300.8,872.9 1296.6,877.0 1290.5,875.5 L1285.1,871.4 L1284.2,864.6 L1286.6,860.5 L1283.9,856.6 L1284.4,849.9Z"/>
<path class="tf" style="stroke-width:1.15" d="M1290.4,876.2 C1296.6,876.3 1299.7,881.4 1298.4,885.7 C1297.1,890.0 1294.6,890.8 1294.3,891.8 C1294.0,892.8 1295.7,894.9 1294.4,899.2 C1293.1,903.5 1287.8,906.1 1282.5,902.8 L1278.6,897.1 L1279.5,891.6 L1283.1,888.5 L1281.8,884.0 L1284.1,878.8Z"/>
<path class="tf" style="stroke-width:1.15" d="M1283.3,900.6 C1288.8,903.5 1289.3,909.4 1286.2,912.7 C1283.1,915.9 1280.5,915.5 1280.6,915.4 C1280.7,915.3 1281.3,917.9 1278.2,921.2 C1275.1,924.4 1269.2,924.3 1266.0,919.0 L1265.0,912.2 L1267.5,908.6 L1272.1,907.4 L1273.0,902.8 L1276.5,900.1Z"/>
<path class="tf" style="stroke-width:1.15" d="M1268.3,917.2 C1271.2,922.7 1268.3,927.9 1263.9,928.8 C1259.5,929.8 1257.5,928.0 1257.7,927.9 C1257.8,927.9 1256.8,930.4 1252.4,931.3 C1248.0,932.3 1243.1,928.8 1243.5,922.6 L1246.6,916.5 L1250.7,914.9 L1255.2,916.5 L1258.5,913.2 L1263.0,913.0Z"/>
<path class="tf" style="stroke-width:1.15" d="M1245.2,923.3 C1245.0,929.6 1239.8,932.5 1235.5,931.1 C1231.3,929.8 1230.5,927.2 1229.2,926.8 C1227.9,926.4 1225.8,928.0 1221.5,926.6 C1217.3,925.3 1214.8,919.9 1218.2,914.7 L1224.0,910.9 L1229.7,912.1 L1232.8,915.7 L1237.4,914.5 L1242.7,917.0Z"/>
<path class="tf" style="stroke-width:1.15" d="M1217.0,915.3 C1214.8,921.1 1209.0,922.2 1205.4,919.5 C1201.8,916.8 1201.9,914.2 1199.7,912.5 C1197.5,910.9 1195.0,911.7 1191.4,909.0 C1187.8,906.3 1187.2,900.4 1192.2,896.6 L1198.8,895.0 L1205.0,898.8 L1206.7,903.1 L1211.4,903.5 L1216.8,908.5Z"/>
<path class="tf" style="stroke-width:1.15" d="M1189.0,895.9 C1185.5,901.0 1179.5,900.8 1176.6,897.4 C1173.7,893.9 1174.5,891.3 1171.8,888.2 C1169.2,885.0 1166.5,885.3 1163.6,881.9 C1160.7,878.4 1161.5,872.5 1167.2,870.0 L1174.1,869.9 L1180.1,876.0 L1180.8,880.7 L1185.3,882.1 L1190.3,889.2Z"/>
<path class="tf" style="stroke-width:1.15" d="M1163.9,865.3 C1159.7,869.9 1153.9,868.8 1151.5,865.0 C1149.1,861.2 1150.2,858.7 1148.1,855.3 C1146.0,851.9 1143.4,851.8 1141.0,848.0 C1138.6,844.2 1140.3,838.4 1146.3,836.7 L1153.0,837.6 L1158.1,844.5 L1158.1,849.2 L1162.3,851.3 L1166.2,858.9Z"/>
<path class="tf" style="stroke-width:1.15" d="M1142.7,831.6 C1138.3,836.0 1132.5,834.6 1130.3,830.7 C1128.1,826.7 1129.3,824.4 1127.4,820.9 C1125.5,817.4 1122.8,817.1 1120.6,813.2 C1118.5,809.2 1120.4,803.6 1126.5,802.2 L1133.2,803.4 L1137.9,810.5 L1137.6,815.2 L1141.8,817.5 L1145.3,825.3Z"/>
<path class="tf" style="stroke-width:1.15" d="M1123.4,796.6 C1118.9,801.0 1113.1,799.6 1111.0,795.7 C1108.8,791.8 1110.0,789.4 1108.0,785.9 C1106.1,782.4 1103.4,782.1 1101.3,778.2 C1099.1,774.3 1101.0,768.6 1107.1,767.2 L1113.8,768.4 L1118.5,775.5 L1118.3,780.2 L1122.4,782.5 L1125.9,790.3Z"/>
<path class="tf" style="stroke-width:1.15" d="M1103.9,761.6 C1099.5,766.0 1093.7,764.7 1091.5,760.8 C1089.4,756.8 1090.5,754.4 1088.6,751.0 C1086.6,747.5 1084.0,747.2 1081.8,743.3 C1079.6,739.4 1081.5,733.7 1087.6,732.3 L1094.3,733.5 L1099.0,740.5 L1098.8,745.2 L1102.9,747.5 L1106.5,755.3Z"/>
<path class="tf" style="stroke-width:1.15" d="M1084.4,726.7 C1080.0,731.1 1074.2,729.8 1072.0,725.9 C1069.8,721.9 1071.0,719.6 1069.1,716.1 C1067.1,712.6 1064.4,712.4 1062.2,708.4 C1060.0,704.5 1061.9,698.9 1068.0,697.4 L1074.7,698.6 L1079.5,705.6 L1079.3,710.3 L1083.4,712.6 L1086.9,720.4Z"/>
<path class="tf" style="stroke-width:1.15" d="M1064.8,691.8 C1060.4,696.3 1054.6,694.9 1052.4,691.0 C1050.2,687.1 1051.4,684.7 1049.5,681.2 C1047.5,677.7 1044.8,677.5 1042.6,673.6 C1040.4,669.7 1042.3,664.0 1048.4,662.6 L1055.1,663.7 L1059.9,670.8 L1059.6,675.5 L1063.8,677.7 L1067.3,685.5Z"/>
<path class="tf" style="stroke-width:1.15" d="M1045.2,657.0 C1040.8,661.4 1035.0,660.1 1032.8,656.1 C1030.6,652.2 1031.8,649.8 1029.9,646.3 C1027.9,642.8 1025.3,642.6 1023.1,638.7 C1020.9,634.8 1022.7,629.1 1028.8,627.7 L1035.5,628.8 L1040.3,635.9 L1040.1,640.6 L1044.2,642.9 L1047.7,650.6Z"/>
<path class="tf" style="stroke-width:1.15" d="M1025.7,622.1 C1021.3,626.5 1015.5,625.1 1013.3,621.2 C1011.1,617.2 1012.3,614.9 1010.4,611.4 C1008.5,607.9 1005.8,607.6 1003.6,603.7 C1001.5,599.7 1003.4,594.1 1009.5,592.7 L1016.2,593.9 L1020.9,601.0 L1020.6,605.7 L1024.8,608.0 L1028.3,615.8Z"/>
<path class="tf" style="stroke-width:1.15" d="M1006.4,587.1 C1001.9,591.4 996.1,590.0 994.0,586.1 C991.9,582.1 993.1,579.7 991.2,576.2 C989.3,572.7 986.6,572.4 984.5,568.5 C982.4,564.5 984.3,558.9 990.4,557.5 L997.1,558.8 L1001.8,566.0 L1001.5,570.7 L1005.6,573.0 L1009.0,580.8Z"/>
<path class="tf" style="stroke-width:1.15" d="M987.3,552.1 C982.7,556.2 977.0,554.6 975.0,550.6 C973.0,546.6 974.3,544.2 972.0,539.8 C969.8,535.3 967.2,534.9 965.2,530.9 C963.2,526.9 965.3,521.3 971.5,520.2 L978.1,521.7 L983.0,529.9 L982.5,534.6 L986.5,537.0 L990.2,545.8Z"/>
<path class="tf" style="stroke-width:1.15" d="M975.1,534.0 C970.3,537.9 964.6,536.1 962.8,531.9 C961.0,527.8 962.4,525.6 961.1,522.5 C959.8,519.5 957.1,519.1 955.3,514.9 C953.5,510.8 955.9,505.4 962.1,504.5 L968.7,506.3 L972.5,513.2 L971.8,517.8 L975.7,520.5 L978.2,527.9Z"/>
<path class="tf" style="stroke-width:1.15" d="M960.3,500.4 C954.6,502.7 949.7,499.2 949.2,494.8 C948.7,490.3 950.8,488.6 950.4,485.5 C950.1,482.5 947.7,481.2 947.2,476.8 C946.7,472.3 950.7,467.8 956.8,468.9 L962.6,472.5 L964.1,480.0 L962.1,484.2 L965.0,487.9 L965.1,495.5Z"/>
<path class="tf" style="stroke-width:1.15" d="M956.0,468.4 C949.8,467.9 947.1,462.6 948.7,458.4 C950.3,454.1 952.8,453.5 953.0,453.1 C953.1,452.7 951.6,450.6 953.2,446.4 C954.8,442.1 960.3,439.9 965.3,443.6 L968.7,449.5 L967.7,454.4 L963.9,457.2 L964.9,461.9 L962.5,466.2Z"/>
<path class="tf" style="stroke-width:1.15" d="M963.5,444.9 C959.6,440.0 961.5,434.4 965.7,432.6 C969.8,430.9 972.1,432.3 971.8,432.4 C971.5,432.5 972.0,429.9 976.2,428.1 C980.3,426.4 985.7,428.8 986.5,435.0 L984.7,441.6 L981.1,443.9 L976.4,443.2 L973.7,447.0 L969.6,448.1Z"/>
<path class="tf" style="stroke-width:1.15" d="M984.2,435.0 C984.6,428.8 989.9,426.0 994.1,427.5 C998.3,429.0 999.0,431.6 1000.3,432.1 C1001.7,432.5 1003.9,431.0 1008.1,432.5 C1012.3,434.0 1014.6,439.5 1011.0,444.6 L1005.2,448.1 L999.3,446.8 L996.4,443.1 L991.8,444.1 L986.5,441.4Z"/>
<path class="tf" style="stroke-width:1.15" d="M1012.5,446.2 C1015.2,440.6 1021.2,439.9 1024.5,442.9 C1027.9,445.9 1027.5,448.5 1029.8,450.6 C1032.1,452.6 1034.7,451.9 1038.0,454.9 C1041.4,457.9 1041.4,463.9 1036.2,467.2 L1029.5,468.3 L1023.4,463.8 L1022.0,459.3 L1017.4,458.5 L1012.2,453.0Z"/>
<path class="tf" style="stroke-width:1.15" d="M1039.3,471.6 C1043.2,466.8 1049.1,467.5 1051.7,471.2 C1054.2,474.9 1053.3,477.4 1055.6,480.7 C1057.9,484.1 1060.6,484.0 1063.2,487.7 C1065.7,491.4 1064.4,497.2 1058.5,499.2 L1051.7,498.7 L1046.3,492.1 L1046.0,487.4 L1041.7,485.6 L1037.4,478.1Z"/>
<path class="tf" style="stroke-width:1.15" d="M1062.0,504.5 C1065.7,499.4 1071.6,499.8 1074.4,503.4 C1077.2,506.9 1076.4,509.4 1079.2,513.0 C1082.0,516.5 1084.6,516.3 1087.4,519.9 C1090.2,523.4 1089.2,529.3 1083.5,531.6 L1076.6,531.6 L1070.5,524.9 L1070.0,520.2 L1065.6,518.6 L1060.5,511.1Z"/>
<path class="tf" style="stroke-width:1.15" d="M1086.7,536.7 C1090.6,531.8 1096.5,532.5 1099.1,536.1 C1101.7,539.8 1100.8,542.3 1103.1,545.4 C1105.3,548.5 1108.0,548.5 1110.6,552.1 C1113.2,555.8 1112.0,561.6 1106.1,563.7 L1099.3,563.3 L1093.9,557.0 L1093.6,552.2 L1089.2,550.5 L1084.9,543.3Z"/>
<path class="tf" style="stroke-width:1.15" d="M1109.7,568.7 C1113.6,563.8 1119.5,564.5 1122.1,568.1 C1124.7,571.8 1123.8,574.3 1126.1,577.4 C1128.3,580.5 1131.0,580.5 1133.6,584.1 C1136.2,587.8 1135.0,593.6 1129.1,595.7 L1122.3,595.3 L1116.9,589.0 L1116.6,584.2 L1112.2,582.5 L1107.9,575.3Z"/>
<path class="tf" style="stroke-width:1.15" d="M1132.7,600.7 C1136.6,595.8 1142.5,596.5 1145.1,600.1 C1147.7,603.8 1146.8,606.3 1149.1,609.4 C1151.3,612.5 1154.0,612.5 1156.6,616.1 C1159.2,619.8 1158.0,625.6 1152.1,627.7 L1145.3,627.3 L1139.9,621.0 L1139.6,616.2 L1135.2,614.5 L1130.9,607.3Z"/>
<path class="tf" style="stroke-width:1.15" d="M1155.7,632.7 C1159.6,627.8 1165.5,628.5 1168.1,632.1 C1170.7,635.8 1169.8,638.3 1172.1,641.4 C1174.3,644.5 1177.0,644.5 1179.6,648.1 C1182.2,651.8 1181.0,657.6 1175.1,659.7 L1168.3,659.3 L1162.9,653.0 L1162.6,648.2 L1158.2,646.5 L1153.9,639.3Z"/>
<path class="tf" style="stroke-width:1.15" d="M1178.7,664.7 C1182.6,659.8 1188.5,660.5 1191.1,664.1 C1193.7,667.8 1192.8,670.3 1195.1,673.4 C1197.3,676.5 1200.0,676.5 1202.6,680.1 C1205.2,683.8 1204.0,689.6 1198.1,691.7 L1191.3,691.3 L1185.9,685.0 L1185.6,680.2 L1181.2,678.5 L1176.9,671.3Z"/>
<path class="tf" style="stroke-width:1.15" d="M1201.7,696.7 C1205.6,691.8 1211.5,692.5 1214.1,696.1 C1216.7,699.8 1215.8,702.3 1218.1,705.4 C1220.3,708.5 1223.0,708.5 1225.6,712.1 C1228.2,715.8 1227.0,721.6 1221.1,723.7 L1214.3,723.3 L1208.9,717.0 L1208.6,712.2 L1204.2,710.5 L1199.9,703.3Z"/>
<path class="tf" style="stroke-width:1.15" d="M1224.7,728.7 C1228.6,723.8 1234.5,724.5 1237.1,728.1 C1239.7,731.8 1238.8,734.3 1241.1,737.4 C1243.3,740.5 1246.0,740.5 1248.6,744.1 C1251.2,747.8 1250.0,753.6 1244.1,755.7 L1237.3,755.3 L1231.9,749.0 L1231.6,744.2 L1227.2,742.5 L1222.9,735.3Z"/>
<path class="tf" style="stroke-width:1.15" d="M1247.7,760.7 C1251.6,755.8 1257.5,756.5 1260.1,760.1 C1262.7,763.8 1261.8,766.3 1264.1,769.4 C1266.3,772.5 1269.0,772.5 1271.6,776.1 C1274.2,779.8 1273.0,785.6 1267.1,787.7 L1260.3,787.3 L1254.9,781.0 L1254.6,776.2 L1250.2,774.5 L1245.9,767.3Z"/>
<path class="tf" style="stroke-width:1.15" d="M1272.4,791.7 C1277.8,788.5 1283.1,791.2 1284.2,795.5 C1285.4,799.9 1283.7,801.9 1284.9,806.4 C1286.1,810.8 1288.6,811.7 1289.7,816.0 C1290.9,820.4 1287.7,825.4 1281.5,825.3 L1275.2,822.5 L1272.2,813.9 L1273.6,809.4 L1270.1,806.2 L1268.4,797.2Z"/>
<path class="tf" style="stroke-width:1.15" d="M1283.5,829.2 C1289.2,826.6 1294.2,829.8 1294.9,834.2 C1295.6,838.7 1293.7,840.5 1294.2,843.6 C1294.7,846.7 1297.2,847.8 1297.9,852.2 C1298.6,856.7 1295.0,861.3 1288.8,860.7 L1282.8,857.3 L1280.9,849.9 L1282.7,845.5 L1279.6,842.0 L1279.0,834.3Z"/>
<path class="tf" style="stroke-width:1.15" d="M1289.0,862.8 C1295.2,861.9 1299.0,866.5 1298.4,870.9 C1297.8,875.4 1295.5,876.6 1295.3,878.1 C1295.0,879.7 1297.0,881.5 1296.4,885.9 C1295.8,890.4 1291.0,893.8 1285.2,891.3 L1280.5,886.3 L1280.7,880.2 L1283.7,876.6 L1281.7,872.3 L1283.2,866.4Z"/>
<path class="tf" style="stroke-width:1.15" d="M1286.1,891.1 C1292.1,892.8 1293.8,898.5 1291.4,902.3 C1289.0,906.2 1286.4,906.3 1286.3,906.4 C1286.2,906.6 1287.3,909.0 1284.9,912.8 C1282.5,916.7 1276.7,917.8 1272.5,913.2 L1270.2,906.7 L1272.1,902.4 L1276.3,900.3 L1276.3,895.6 L1279.4,892.0Z"/>
<path class="tf" style="stroke-width:1.15" d="M1275.2,911.6 C1279.5,916.2 1278.0,921.9 1274.0,924.0 C1270.0,926.1 1267.7,924.8 1267.8,924.8 C1267.8,924.8 1267.5,927.4 1263.5,929.5 C1259.5,931.6 1254.0,929.6 1252.7,923.4 L1254.0,916.8 L1257.6,914.1 L1262.3,914.4 L1264.7,910.4 L1269.0,908.9Z"/>
<path class="tf" style="stroke-width:1.15" d="M1255.4,922.5 C1257.1,928.5 1253.1,932.9 1248.6,932.9 C1244.1,932.9 1242.6,930.7 1242.1,930.7 C1241.6,930.7 1240.1,932.9 1235.6,932.9 C1231.1,932.9 1227.1,928.5 1228.8,922.5 L1233.1,917.2 L1238.1,916.5 L1242.1,919.0 L1246.1,916.5 L1251.1,917.2Z"/>
<path class="tf" style="stroke-width:1.15" d="M1229.0,920.9 C1228.2,927.1 1222.8,929.5 1218.7,927.8 C1214.5,926.0 1214.0,923.4 1212.6,922.7 C1211.1,922.1 1208.8,923.5 1204.7,921.8 C1200.5,920.0 1198.6,914.4 1202.5,909.5 L1208.6,906.3 L1214.5,908.1 L1217.2,912.0 L1221.8,911.3 L1227.2,914.3Z"/>
<path class="tf" style="stroke-width:1.15" d="M1200.8,906.3 C1198.5,912.0 1192.6,913.1 1189.1,910.3 C1185.5,907.5 1185.7,904.9 1183.7,903.3 C1181.6,901.7 1179.1,902.6 1175.6,899.8 C1172.0,897.0 1171.5,891.1 1176.6,887.4 L1183.2,885.9 L1189.2,889.6 L1190.8,894.1 L1195.5,894.6 L1200.7,899.4Z"/>
<path class="tf" style="stroke-width:1.15" d="M1173.5,882.2 C1169.6,887.1 1163.7,886.4 1161.1,882.8 C1158.5,879.1 1159.4,876.6 1157.1,873.5 C1154.9,870.4 1152.2,870.4 1149.6,866.8 C1147.0,863.1 1148.2,857.3 1154.1,855.2 L1160.9,855.6 L1166.3,861.9 L1166.6,866.7 L1171.0,868.4 L1175.3,875.6Z"/>
<path class="tf" style="stroke-width:1.15" d="M1151.2,849.7 C1147.0,854.3 1141.2,853.2 1138.8,849.3 C1136.4,845.5 1137.5,843.1 1135.4,839.7 C1133.3,836.3 1130.7,836.2 1128.3,832.3 C1125.9,828.5 1127.6,822.8 1133.6,821.1 L1140.3,822.0 L1145.4,828.8 L1145.4,833.5 L1149.6,835.6 L1153.5,843.2Z"/>
<path class="tf" style="stroke-width:1.15" d="M1130.8,815.4 C1126.4,819.8 1120.6,818.5 1118.4,814.5 C1116.3,810.6 1117.5,808.2 1115.5,804.7 C1113.6,801.2 1110.9,801.0 1108.8,797.0 C1106.6,793.1 1108.5,787.5 1114.6,786.1 L1121.3,787.2 L1126.0,794.3 L1125.8,799.1 L1129.9,801.3 L1133.4,809.1Z"/>
<path class="tf" style="stroke-width:1.15" d="M1111.5,780.5 C1107.0,784.9 1101.3,783.5 1099.1,779.6 C1096.9,775.6 1098.1,773.3 1096.1,769.8 C1094.2,766.3 1091.5,766.0 1089.3,762.1 C1087.2,758.2 1089.1,752.5 1095.1,751.1 L1101.8,752.3 L1106.6,759.4 L1106.4,764.1 L1110.5,766.4 L1114.0,774.1Z"/>
<path class="tf" style="stroke-width:1.15" d="M1092.0,745.5 C1087.6,749.9 1081.8,748.6 1079.6,744.7 C1077.4,740.7 1078.6,738.3 1076.6,734.9 C1074.7,731.4 1072.0,731.1 1069.8,727.2 C1067.6,723.3 1069.5,717.6 1075.6,716.2 L1082.3,717.4 L1087.1,724.4 L1086.8,729.1 L1091.0,731.4 L1094.5,739.2Z"/>
<path class="tf" style="stroke-width:1.15" d="M1072.4,710.6 C1068.0,715.0 1062.3,713.7 1060.0,709.8 C1057.8,705.9 1059.0,703.5 1057.1,700.0 C1055.1,696.5 1052.4,696.3 1050.2,692.4 C1048.0,688.4 1049.9,682.8 1056.0,681.3 L1062.7,682.5 L1067.5,689.5 L1067.3,694.3 L1071.4,696.5 L1075.0,704.3Z"/>
<path class="tf" style="stroke-width:1.15" d="M1052.8,675.8 C1048.4,680.2 1042.6,678.8 1040.4,674.9 C1038.2,671.0 1039.4,668.6 1037.4,665.1 C1035.5,661.6 1032.8,661.4 1030.6,657.5 C1028.4,653.6 1030.3,647.9 1036.4,646.5 L1043.1,647.6 L1047.9,654.7 L1047.6,659.4 L1051.8,661.7 L1055.3,669.4Z"/>
<path class="tf" style="stroke-width:1.15" d="M1033.2,640.9 C1028.8,645.3 1023.0,643.9 1020.8,640.0 C1018.7,636.1 1019.8,633.7 1017.9,630.2 C1016.0,626.7 1013.3,626.5 1011.1,622.5 C1008.9,618.6 1010.8,613.0 1016.9,611.5 L1023.6,612.7 L1028.4,619.8 L1028.1,624.5 L1032.3,626.8 L1035.8,634.6Z"/>
<path class="tf" style="stroke-width:1.15" d="M1013.8,606.0 C1009.4,610.3 1003.6,608.9 1001.4,605.0 C999.3,601.0 1000.5,598.7 998.6,595.2 C996.6,591.7 994.0,591.4 991.8,587.4 C989.7,583.5 991.6,577.9 997.7,576.5 L1004.4,577.7 L1009.1,584.8 L1008.8,589.6 L1012.9,591.9 L1016.4,599.7Z"/>
<path class="tf" style="stroke-width:1.15" d="M994.7,570.9 C990.2,575.2 984.4,573.8 982.3,569.8 C980.2,565.8 981.4,563.5 979.5,559.9 C977.6,556.4 975.0,556.1 972.9,552.1 C970.8,548.2 972.8,542.6 978.9,541.2 L985.6,542.5 L990.2,549.7 L989.8,554.4 L993.9,556.8 L997.3,564.6Z"/>
<path class="tf" style="stroke-width:1.15" d="M964.8,518.9 C959.5,522.3 954.1,519.8 952.8,515.5 C951.5,511.2 953.2,509.1 952.2,505.8 C951.2,502.6 948.6,501.8 947.3,497.5 C946.0,493.2 949.0,488.0 955.3,487.9 L961.6,490.5 L964.6,497.8 L963.4,502.4 L966.9,505.5 L968.6,513.3Z"/>
<path class="tf" style="stroke-width:1.15" d="M954.9,484.3 C948.8,485.6 944.7,481.3 945.0,476.8 C945.3,472.3 947.6,471.0 947.7,469.5 C947.8,467.9 945.7,466.3 946.0,461.8 C946.3,457.3 951.0,453.6 956.8,455.7 L961.8,460.4 L962.1,466.4 L959.4,470.2 L961.6,474.4 L960.5,480.3Z"/>
<path class="tf" style="stroke-width:1.15" d="M955.6,457.4 C950.0,454.6 949.4,448.7 952.4,445.4 C955.4,442.0 958.0,442.4 958.3,442.1 C958.5,441.8 957.9,439.2 960.9,435.9 C963.9,432.5 969.8,432.5 973.2,437.7 L974.3,444.5 L971.5,448.6 L967.0,449.9 L966.2,454.5 L962.4,457.7Z"/>
<path class="tf" style="stroke-width:1.15" d="M970.2,439.6 C968.3,433.6 972.1,429.1 976.6,428.9 C981.1,428.7 982.7,430.9 982.9,430.9 C983.2,430.8 984.6,428.6 989.1,428.4 C993.6,428.2 997.8,432.5 996.3,438.5 L992.2,444.0 L987.5,444.9 L983.4,442.5 L979.5,445.2 L974.7,444.7Z"/>
<path class="tf" style="stroke-width:1.15" d="M996.1,439.6 C997.9,433.7 1003.6,432.1 1007.4,434.6 C1011.2,437.0 1011.3,439.7 1013.2,440.9 C1015.2,442.2 1017.6,441.1 1021.4,443.6 C1025.2,446.0 1026.2,451.9 1021.5,456.0 L1015.0,458.1 L1008.9,455.0 L1006.9,450.8 L1002.2,450.7 L996.8,446.4Z"/>
<path class="tf" style="stroke-width:1.15" d="M1024.2,458.5 C1027.8,453.3 1033.7,453.6 1036.6,457.1 C1039.5,460.5 1038.7,463.1 1041.1,466.0 C1043.6,468.9 1046.2,468.6 1049.1,472.1 C1052.0,475.5 1051.1,481.4 1045.4,483.9 L1038.6,484.0 L1032.8,478.1 L1032.2,473.5 L1027.7,472.0 L1022.9,465.2Z"/>
<path class="tf" style="stroke-width:1.15" d="M1048.5,489.5 C1052.4,484.6 1058.3,485.3 1060.9,489.0 C1063.5,492.6 1062.6,495.1 1064.9,498.3 C1067.1,501.4 1069.8,501.3 1072.4,505.0 C1075.0,508.6 1073.8,514.5 1067.9,516.6 L1061.1,516.2 L1055.7,509.8 L1055.4,505.1 L1051.0,503.3 L1046.7,496.1Z"/>
<path class="tf" style="stroke-width:1.15" d="M1073.0,522.0 C1076.9,517.1 1082.8,517.8 1085.4,521.5 C1088.0,525.1 1087.1,527.6 1089.4,530.8 C1091.6,533.9 1094.3,533.8 1096.9,537.5 C1099.5,541.1 1098.3,547.0 1092.4,549.1 L1085.6,548.7 L1080.2,542.3 L1079.9,537.6 L1075.5,535.8 L1071.2,528.6Z"/>
<path class="tf" style="stroke-width:1.15" d="M1096.0,554.0 C1099.9,549.1 1105.8,549.8 1108.4,553.5 C1111.0,557.1 1110.1,559.6 1112.4,562.8 C1114.6,565.9 1117.3,565.8 1119.9,569.5 C1122.5,573.1 1121.3,579.0 1115.4,581.1 L1108.6,580.7 L1103.2,574.3 L1102.9,569.6 L1098.5,567.8 L1094.2,560.6Z"/>
<path class="tf" style="stroke-width:1.15" d="M1119.0,586.0 C1122.9,581.1 1128.8,581.8 1131.4,585.5 C1134.0,589.1 1133.1,591.6 1135.4,594.8 C1137.6,597.9 1140.3,597.8 1142.9,601.5 C1145.5,605.1 1144.3,611.0 1138.4,613.1 L1131.6,612.7 L1126.2,606.3 L1125.9,601.6 L1121.5,599.8 L1117.2,592.6Z"/>
<path class="tf" style="stroke-width:1.15" d="M1142.0,618.0 C1145.9,613.1 1151.8,613.8 1154.4,617.5 C1157.0,621.1 1156.1,623.6 1158.4,626.8 C1160.6,629.9 1163.3,629.8 1165.9,633.5 C1168.5,637.1 1167.3,643.0 1161.4,645.1 L1154.6,644.7 L1149.2,638.3 L1148.9,633.6 L1144.5,631.8 L1140.2,624.6Z"/>
<path class="tf" style="stroke-width:1.15" d="M1165.0,650.0 C1168.9,645.1 1174.8,645.8 1177.4,649.5 C1180.0,653.1 1179.1,655.6 1181.4,658.8 C1183.6,661.9 1186.3,661.8 1188.9,665.5 C1191.5,669.1 1190.3,675.0 1184.4,677.1 L1177.6,676.7 L1172.2,670.3 L1171.9,665.6 L1167.5,663.8 L1163.2,656.6Z"/>
<path class="tf" style="stroke-width:1.15" d="M1188.0,682.0 C1191.9,677.1 1197.8,677.8 1200.4,681.5 C1203.0,685.1 1202.1,687.6 1204.4,690.8 C1206.6,693.9 1209.3,693.8 1211.9,697.5 C1214.5,701.1 1213.3,707.0 1207.4,709.1 L1200.6,708.7 L1195.2,702.3 L1194.9,697.6 L1190.5,695.8 L1186.2,688.6Z"/>
<path class="tf" style="stroke-width:1.15" d="M1211.0,714.0 C1214.9,709.1 1220.8,709.8 1223.4,713.5 C1226.0,717.1 1225.1,719.6 1227.4,722.8 C1229.6,725.9 1232.3,725.8 1234.9,729.5 C1237.5,733.1 1236.3,739.0 1230.4,741.1 L1223.6,740.7 L1218.2,734.3 L1217.9,729.6 L1213.5,727.8 L1209.2,720.6Z"/>
<path class="tf" style="stroke-width:1.15" d="M1234.0,746.0 C1237.9,741.1 1243.8,741.8 1246.4,745.5 C1249.0,749.1 1248.1,751.6 1250.4,754.8 C1252.6,757.9 1255.3,757.8 1257.9,761.5 C1260.5,765.1 1259.3,771.0 1253.4,773.1 L1246.6,772.7 L1241.2,766.3 L1240.9,761.6 L1236.5,759.8 L1232.2,752.6Z"/>
<path class="tf" style="stroke-width:1.15" d="M1257.1,777.8 C1261.1,773.1 1267.0,773.9 1269.5,777.7 C1272.1,781.4 1271.1,783.9 1273.5,787.4 C1275.8,790.9 1278.5,790.9 1281.0,794.7 C1283.6,798.4 1282.1,804.2 1276.2,806.1 L1269.4,805.5 L1263.9,798.7 L1263.8,793.9 L1259.5,792.0 L1255.1,784.4Z"/>
<path class="tf" style="stroke-width:1.15" d="M1275.6,813.6 C1280.9,810.3 1286.3,812.9 1287.5,817.3 C1288.8,821.6 1287.0,823.6 1287.9,826.6 C1288.8,829.6 1291.3,830.4 1292.5,834.8 C1293.8,839.1 1290.6,844.1 1284.4,844.2 L1278.1,841.5 L1275.3,834.4 L1276.7,829.8 L1273.1,826.7 L1271.7,819.2Z"/>
<path class="tf" style="stroke-width:1.15" d="M1285.2,848.1 C1291.1,846.2 1295.7,850.1 1295.8,854.6 C1295.9,859.1 1293.8,860.6 1293.8,862.9 C1293.9,865.1 1296.2,866.6 1296.3,871.1 C1296.4,875.6 1292.2,879.7 1286.1,878.2 L1280.7,874.1 L1279.8,867.3 L1282.2,863.2 L1279.5,859.3 L1280.0,852.6Z"/>
<path class="tf" style="stroke-width:1.15" d="M1286.0,878.9 C1292.2,879.0 1295.3,884.1 1294.0,888.4 C1292.7,892.7 1290.2,893.5 1289.9,894.5 C1289.6,895.5 1291.3,897.6 1290.0,901.9 C1288.7,906.2 1283.4,908.8 1278.1,905.5 L1274.2,899.8 L1275.1,894.3 L1278.7,891.2 L1277.4,886.7 L1279.7,881.5Z"/>
<path class="tf" style="stroke-width:1.15" d="M1278.9,903.3 C1284.4,906.2 1284.9,912.1 1281.8,915.4 C1278.7,918.6 1276.1,918.2 1276.2,918.1 C1276.3,918.0 1276.9,920.6 1273.8,923.9 C1270.7,927.1 1264.8,927.0 1261.6,921.7 L1260.6,914.9 L1263.1,911.3 L1267.7,910.1 L1268.6,905.5 L1272.1,902.8Z"/>
<path class="tf" style="stroke-width:1.15" d="M1263.9,919.9 C1266.8,925.4 1263.9,930.6 1259.5,931.5 C1255.1,932.5 1253.1,930.7 1253.3,930.6 C1253.4,930.6 1252.4,933.1 1248.0,934.0 C1243.6,935.0 1238.7,931.5 1239.1,925.3 L1242.2,919.2 L1246.3,917.6 L1250.8,919.2 L1254.1,915.9 L1258.6,915.7Z"/>
<path class="tf" style="stroke-width:1.15" d="M1240.8,926.0 C1240.6,932.3 1235.4,935.2 1231.1,933.8 C1226.9,932.5 1226.1,929.9 1224.8,929.5 C1223.5,929.1 1221.4,930.7 1217.1,929.3 C1212.9,928.0 1210.4,922.6 1213.8,917.4 L1219.6,913.6 L1225.3,914.8 L1228.4,918.4 L1233.0,917.2 L1238.3,919.7Z"/>
<path class="tf" style="stroke-width:1.15" d="M1212.6,918.0 C1210.4,923.8 1204.6,924.9 1201.0,922.2 C1197.4,919.5 1197.5,916.9 1195.3,915.2 C1193.1,913.6 1190.6,914.4 1187.0,911.7 C1183.4,909.0 1182.8,903.1 1187.8,899.3 L1194.4,897.7 L1200.6,901.4 L1202.3,905.8 L1207.0,906.2 L1212.4,911.2Z"/>
<path class="tf" style="stroke-width:1.15" d="M1184.6,898.6 C1181.1,903.7 1175.1,903.5 1172.2,900.1 C1169.3,896.6 1170.1,894.0 1167.4,890.9 C1164.8,887.7 1162.1,888.0 1159.2,884.6 C1156.3,881.1 1157.1,875.2 1162.8,872.7 L1169.7,872.6 L1175.7,878.7 L1176.4,883.4 L1180.9,884.8 L1185.9,891.9Z"/>
<path class="tf" style="stroke-width:1.15" d="M1159.5,868.0 C1155.3,872.6 1149.5,871.5 1147.1,867.7 C1144.7,863.9 1145.8,861.4 1143.7,858.0 C1141.6,854.6 1139.0,854.5 1136.6,850.7 C1134.2,846.9 1135.9,841.1 1141.9,839.4 L1148.6,840.3 L1153.7,847.2 L1153.7,851.9 L1157.9,854.0 L1161.8,861.6Z"/>
<path class="tf" style="stroke-width:1.15" d="M1138.3,834.3 C1133.9,838.7 1128.1,837.3 1125.9,833.4 C1123.7,829.4 1124.9,827.1 1123.0,823.6 C1121.1,820.1 1118.4,819.8 1116.2,815.9 C1114.1,811.9 1116.0,806.3 1122.1,804.9 L1128.8,806.1 L1133.5,813.2 L1133.2,817.9 L1137.4,820.2 L1140.9,828.0Z"/>
<path class="tf" style="stroke-width:1.15" d="M1119.0,799.3 C1114.5,803.7 1108.7,802.3 1106.6,798.4 C1104.4,794.5 1105.6,792.1 1103.6,788.6 C1101.7,785.1 1099.0,784.8 1096.9,780.9 C1094.7,777.0 1096.6,771.3 1102.7,769.9 L1109.4,771.1 L1114.1,778.2 L1113.9,782.9 L1118.0,785.2 L1121.5,793.0Z"/>
<path class="tf" style="stroke-width:1.15" d="M1099.5,764.3 C1095.1,768.7 1089.3,767.4 1087.1,763.5 C1085.0,759.5 1086.1,757.1 1084.2,753.7 C1082.2,750.2 1079.6,749.9 1077.4,746.0 C1075.2,742.1 1077.1,736.4 1083.2,735.0 L1089.9,736.2 L1094.6,743.2 L1094.4,747.9 L1098.5,750.2 L1102.1,758.0Z"/>
<path class="tf" style="stroke-width:1.15" d="M1080.0,729.4 C1075.6,733.8 1069.8,732.5 1067.6,728.6 C1065.4,724.6 1066.6,722.3 1064.7,718.8 C1062.7,715.3 1060.0,715.1 1057.8,711.1 C1055.6,707.2 1057.5,701.6 1063.6,700.1 L1070.3,701.3 L1075.1,708.3 L1074.9,713.0 L1079.0,715.3 L1082.5,723.1Z"/>
<path class="tf" style="stroke-width:1.15" d="M1060.4,694.5 C1056.0,699.0 1050.2,697.6 1048.0,693.7 C1045.8,689.8 1047.0,687.4 1045.1,683.9 C1043.1,680.4 1040.4,680.2 1038.2,676.3 C1036.0,672.4 1037.9,666.7 1044.0,665.3 L1050.7,666.4 L1055.5,673.5 L1055.2,678.2 L1059.4,680.4 L1062.9,688.2Z"/>
<path class="tf" style="stroke-width:1.15" d="M1040.8,659.7 C1036.4,664.1 1030.6,662.8 1028.4,658.8 C1026.2,654.9 1027.4,652.5 1025.5,649.0 C1023.5,645.5 1020.9,645.3 1018.7,641.4 C1016.5,637.5 1018.3,631.8 1024.4,630.4 L1031.1,631.5 L1035.9,638.6 L1035.7,643.3 L1039.8,645.6 L1043.3,653.3Z"/>
<path class="tf" style="stroke-width:1.15" d="M1021.3,624.8 C1016.9,629.2 1011.1,627.8 1008.9,623.9 C1006.7,619.9 1007.9,617.6 1006.0,614.1 C1004.1,610.6 1001.4,610.3 999.2,606.4 C997.1,602.4 999.0,596.8 1005.1,595.4 L1011.8,596.6 L1016.5,603.7 L1016.2,608.4 L1020.4,610.7 L1023.9,618.5Z"/>
<path class="tf" style="stroke-width:1.15" d="M1002.0,589.8 C997.5,594.1 991.7,592.7 989.6,588.8 C987.5,584.8 988.7,582.4 986.8,578.9 C984.9,575.4 982.2,575.1 980.1,571.2 C978.0,567.2 979.9,561.6 986.0,560.2 L992.7,561.5 L997.4,568.7 L997.1,573.4 L1001.2,575.7 L1004.6,583.5Z"/>
<path class="tf" style="stroke-width:1.15" d="M982.9,554.8 C978.3,558.9 972.6,557.3 970.6,553.3 C968.6,549.3 969.9,546.9 967.6,542.5 C965.4,538.0 962.8,537.6 960.8,533.6 C958.8,529.6 960.9,524.0 967.1,522.9 L973.7,524.4 L978.6,532.6 L978.1,537.3 L982.1,539.7 L985.8,548.5Z"/>
<path class="tf" style="stroke-width:1.15" d="M970.7,536.7 C965.9,540.6 960.2,538.8 958.4,534.6 C956.6,530.5 958.0,528.3 956.7,525.2 C955.4,522.2 952.7,521.8 950.9,517.6 C949.1,513.5 951.5,508.1 957.7,507.2 L964.3,509.0 L968.1,515.9 L967.4,520.5 L971.3,523.2 L973.8,530.6Z"/>
<path class="tf" style="stroke-width:1.15" d="M955.9,503.1 C950.2,505.4 945.3,501.9 944.8,497.5 C944.3,493.0 946.4,491.3 946.0,488.2 C945.7,485.2 943.3,483.9 942.8,479.5 C942.3,475.0 946.3,470.5 952.4,471.6 L958.2,475.2 L959.7,482.7 L957.7,486.9 L960.6,490.6 L960.7,498.2Z"/>
<path class="tf" style="stroke-width:1.15" d="M951.6,471.1 C945.4,470.6 942.7,465.3 944.3,461.1 C945.9,456.8 948.4,456.2 948.6,455.8 C948.7,455.4 947.2,453.3 948.8,449.1 C950.4,444.8 955.9,442.6 960.9,446.3 L964.3,452.2 L963.3,457.1 L959.5,459.9 L960.5,464.6 L958.1,468.9Z"/>
<path class="tf" style="stroke-width:1.15" d="M959.1,447.6 C955.2,442.7 957.1,437.1 961.3,435.3 C965.4,433.6 967.7,435.0 967.4,435.1 C967.1,435.2 967.6,432.6 971.8,430.8 C975.9,429.1 981.3,431.5 982.1,437.7 L980.3,444.3 L976.7,446.6 L972.0,445.9 L969.3,449.7 L965.2,450.8Z"/>
<path class="tf" style="stroke-width:1.15" d="M979.8,437.7 C980.2,431.5 985.5,428.7 989.7,430.2 C993.9,431.7 994.6,434.3 995.9,434.8 C997.3,435.2 999.5,433.7 1003.7,435.2 C1007.9,436.7 1010.2,442.2 1006.6,447.3 L1000.8,450.8 L994.9,449.5 L992.0,445.8 L987.4,446.8 L982.1,444.1Z"/>
<path class="tf" style="stroke-width:1.15" d="M1008.1,448.9 C1010.8,443.3 1016.8,442.6 1020.1,445.6 C1023.5,448.6 1023.1,451.2 1025.4,453.3 C1027.7,455.3 1030.3,454.6 1033.6,457.6 C1037.0,460.6 1037.0,466.6 1031.8,469.9 L1025.1,471.0 L1019.0,466.5 L1017.6,462.0 L1013.0,461.2 L1007.8,455.7Z"/>
<path class="tf" style="stroke-width:1.15" d="M1034.9,474.3 C1038.8,469.5 1044.7,470.2 1047.3,473.9 C1049.8,477.6 1048.9,480.1 1051.2,483.4 C1053.5,486.8 1056.2,486.7 1058.8,490.4 C1061.3,494.1 1060.0,499.9 1054.1,501.9 L1047.3,501.4 L1041.9,494.8 L1041.6,490.1 L1037.3,488.3 L1033.0,480.8Z"/>
<path class="tf" style="stroke-width:1.15" d="M1057.6,507.2 C1061.3,502.1 1067.2,502.5 1070.0,506.1 C1072.8,509.6 1072.0,512.1 1074.8,515.7 C1077.6,519.2 1080.2,519.0 1083.0,522.6 C1085.8,526.1 1084.8,532.0 1079.1,534.3 L1072.2,534.3 L1066.1,527.6 L1065.6,522.9 L1061.2,521.3 L1056.1,513.8Z"/>
<path class="tf" style="stroke-width:1.15" d="M1082.3,539.4 C1086.2,534.5 1092.1,535.2 1094.7,538.8 C1097.3,542.5 1096.4,545.0 1098.7,548.1 C1100.9,551.2 1103.6,551.2 1106.2,554.8 C1108.8,558.5 1107.6,564.3 1101.7,566.4 L1094.9,566.0 L1089.5,559.7 L1089.2,554.9 L1084.8,553.2 L1080.5,546.0Z"/>
<path class="tf" style="stroke-width:1.15" d="M1105.3,571.4 C1109.2,566.5 1115.1,567.2 1117.7,570.8 C1120.3,574.5 1119.4,577.0 1121.7,580.1 C1123.9,583.2 1126.6,583.2 1129.2,586.8 C1131.8,590.5 1130.6,596.3 1124.7,598.4 L1117.9,598.0 L1112.5,591.7 L1112.2,586.9 L1107.8,585.2 L1103.5,578.0Z"/>
<path class="tf" style="stroke-width:1.15" d="M1128.3,603.4 C1132.2,598.5 1138.1,599.2 1140.7,602.8 C1143.3,606.5 1142.4,609.0 1144.7,612.1 C1146.9,615.2 1149.6,615.2 1152.2,618.8 C1154.8,622.5 1153.6,628.3 1147.7,630.4 L1140.9,630.0 L1135.5,623.7 L1135.2,618.9 L1130.8,617.2 L1126.5,610.0Z"/>
<path class="tf" style="stroke-width:1.15" d="M1151.3,635.4 C1155.2,630.5 1161.1,631.2 1163.7,634.8 C1166.3,638.5 1165.4,641.0 1167.7,644.1 C1169.9,647.2 1172.6,647.2 1175.2,650.8 C1177.8,654.5 1176.6,660.3 1170.7,662.4 L1163.9,662.0 L1158.5,655.7 L1158.2,650.9 L1153.8,649.2 L1149.5,642.0Z"/>
<path class="tf" style="stroke-width:1.15" d="M1174.3,667.4 C1178.2,662.5 1184.1,663.2 1186.7,666.8 C1189.3,670.5 1188.4,673.0 1190.7,676.1 C1192.9,679.2 1195.6,679.2 1198.2,682.8 C1200.8,686.5 1199.6,692.3 1193.7,694.4 L1186.9,694.0 L1181.5,687.7 L1181.2,682.9 L1176.8,681.2 L1172.5,674.0Z"/>
<path class="tf" style="stroke-width:1.15" d="M1197.3,699.4 C1201.2,694.5 1207.1,695.2 1209.7,698.8 C1212.3,702.5 1211.4,705.0 1213.7,708.1 C1215.9,711.2 1218.6,711.2 1221.2,714.8 C1223.8,718.5 1222.6,724.3 1216.7,726.4 L1209.9,726.0 L1204.5,719.7 L1204.2,714.9 L1199.8,713.2 L1195.5,706.0Z"/>
<path class="tf" style="stroke-width:1.15" d="M1220.3,731.4 C1224.2,726.5 1230.1,727.2 1232.7,730.8 C1235.3,734.5 1234.4,737.0 1236.7,740.1 C1238.9,743.2 1241.6,743.2 1244.2,746.8 C1246.8,750.5 1245.6,756.3 1239.7,758.4 L1232.9,758.0 L1227.5,751.7 L1227.2,746.9 L1222.8,745.2 L1218.5,738.0Z"/>
<path class="tf" style="stroke-width:1.15" d="M1243.3,763.4 C1247.2,758.5 1253.1,759.2 1255.7,762.8 C1258.3,766.5 1257.4,769.0 1259.7,772.1 C1261.9,775.2 1264.6,775.2 1267.2,778.8 C1269.8,782.5 1268.6,788.3 1262.7,790.4 L1255.9,790.0 L1250.5,783.7 L1250.2,778.9 L1245.8,777.2 L1241.5,770.0Z"/>
<path class="tf" style="stroke-width:1.15" d="M1268.0,794.4 C1273.4,791.2 1278.7,793.9 1279.8,798.2 C1281.0,802.6 1279.3,804.6 1280.5,809.1 C1281.7,813.5 1284.2,814.4 1285.3,818.7 C1286.5,823.1 1283.3,828.1 1277.1,828.0 L1270.8,825.2 L1267.8,816.6 L1269.2,812.1 L1265.7,808.9 L1264.0,799.9Z"/>
<path class="tf" style="stroke-width:1.15" d="M1279.1,831.9 C1284.8,829.3 1289.8,832.5 1290.5,836.9 C1291.2,841.4 1289.3,843.2 1289.8,846.3 C1290.3,849.4 1292.8,850.5 1293.5,854.9 C1294.2,859.4 1290.6,864.0 1284.4,863.4 L1278.4,860.0 L1276.5,852.6 L1278.3,848.2 L1275.2,844.7 L1274.6,837.0Z"/>
<path class="tf" style="stroke-width:1.15" d="M1284.6,865.5 C1290.8,864.6 1294.6,869.2 1294.0,873.6 C1293.4,878.1 1291.1,879.3 1290.9,880.8 C1290.6,882.4 1292.6,884.2 1292.0,888.6 C1291.4,893.1 1286.6,896.5 1280.8,894.0 L1276.1,889.0 L1276.3,882.9 L1279.3,879.3 L1277.3,875.0 L1278.8,869.1Z"/>
<path class="tf" style="stroke-width:1.15" d="M1281.7,893.8 C1287.7,895.5 1289.4,901.2 1287.0,905.0 C1284.6,908.9 1282.0,909.0 1281.9,909.1 C1281.8,909.3 1282.9,911.7 1280.5,915.5 C1278.1,919.4 1272.3,920.5 1268.1,915.9 L1265.8,909.4 L1267.7,905.1 L1271.9,903.0 L1271.9,898.3 L1275.0,894.7Z"/>
<path class="tf" style="stroke-width:1.15" d="M1270.8,914.3 C1275.1,918.9 1273.6,924.6 1269.6,926.7 C1265.6,928.8 1263.3,927.5 1263.4,927.5 C1263.4,927.5 1263.1,930.1 1259.1,932.2 C1255.1,934.3 1249.6,932.3 1248.3,926.1 L1249.6,919.5 L1253.2,916.8 L1257.9,917.1 L1260.3,913.1 L1264.6,911.6Z"/>
<path class="tf" style="stroke-width:1.15" d="M1251.0,925.1 C1252.7,931.1 1248.7,935.5 1244.2,935.5 C1239.7,935.5 1238.2,933.4 1237.7,933.4 C1237.2,933.4 1235.7,935.5 1231.2,935.5 C1226.7,935.5 1222.7,931.1 1224.4,925.1 L1228.7,919.9 L1233.7,919.1 L1237.7,921.6 L1241.7,919.1 L1246.7,919.9Z"/>
<path class="tf" style="stroke-width:1.15" d="M1224.6,923.6 C1223.8,929.8 1218.4,932.2 1214.3,930.5 C1210.1,928.7 1209.6,926.1 1208.2,925.4 C1206.7,924.8 1204.4,926.2 1200.3,924.5 C1196.1,922.7 1194.2,917.1 1198.1,912.2 L1204.2,909.0 L1210.1,910.8 L1212.8,914.7 L1217.4,914.0 L1222.8,917.0Z"/>
<path class="tf" style="stroke-width:1.15" d="M1196.4,909.0 C1194.1,914.7 1188.2,915.8 1184.7,913.0 C1181.1,910.2 1181.3,907.6 1179.3,906.0 C1177.2,904.4 1174.7,905.3 1171.2,902.5 C1167.6,899.7 1167.1,893.8 1172.2,890.1 L1178.8,888.6 L1184.8,892.3 L1186.4,896.8 L1191.1,897.3 L1196.3,902.1Z"/>
<path class="tf" style="stroke-width:1.15" d="M1169.1,884.9 C1165.2,889.8 1159.3,889.1 1156.7,885.5 C1154.1,881.8 1155.0,879.3 1152.7,876.2 C1150.5,873.1 1147.8,873.1 1145.2,869.5 C1142.6,865.8 1143.8,860.0 1149.7,857.9 L1156.5,858.3 L1161.9,864.6 L1162.2,869.4 L1166.6,871.1 L1170.9,878.3Z"/>
<path class="tf" style="stroke-width:1.15" d="M1146.8,852.4 C1142.6,857.0 1136.8,855.9 1134.4,852.0 C1132.0,848.2 1133.1,845.8 1131.0,842.4 C1128.9,839.0 1126.3,838.9 1123.9,835.0 C1121.5,831.2 1123.2,825.5 1129.2,823.8 L1135.9,824.7 L1141.0,831.5 L1141.0,836.2 L1145.2,838.3 L1149.1,845.9Z"/>
<path class="tf" style="stroke-width:1.15" d="M1126.4,818.1 C1122.0,822.5 1116.2,821.2 1114.0,817.2 C1111.9,813.3 1113.1,810.9 1111.1,807.4 C1109.2,803.9 1106.5,803.7 1104.4,799.7 C1102.2,795.8 1104.1,790.2 1110.2,788.8 L1116.9,789.9 L1121.6,797.0 L1121.4,801.8 L1125.5,804.0 L1129.0,811.8Z"/>
<path class="tf" style="stroke-width:1.15" d="M1107.1,783.2 C1102.6,787.6 1096.9,786.2 1094.7,782.3 C1092.5,778.3 1093.7,776.0 1091.7,772.5 C1089.8,769.0 1087.1,768.7 1084.9,764.8 C1082.8,760.9 1084.7,755.2 1090.7,753.8 L1097.4,755.0 L1102.2,762.1 L1102.0,766.8 L1106.1,769.1 L1109.6,776.8Z"/>
<path class="tf" style="stroke-width:1.15" d="M1087.6,748.2 C1083.2,752.6 1077.4,751.3 1075.2,747.4 C1073.0,743.4 1074.2,741.0 1072.2,737.6 C1070.3,734.1 1067.6,733.8 1065.4,729.9 C1063.2,726.0 1065.1,720.3 1071.2,718.9 L1077.9,720.1 L1082.7,727.1 L1082.4,731.8 L1086.6,734.1 L1090.1,741.9Z"/>
<path class="tf" style="stroke-width:1.15" d="M1068.0,713.3 C1063.6,717.7 1057.9,716.4 1055.6,712.5 C1053.4,708.6 1054.6,706.2 1052.7,702.7 C1050.7,699.2 1048.0,699.0 1045.8,695.1 C1043.6,691.1 1045.5,685.5 1051.6,684.0 L1058.3,685.2 L1063.1,692.2 L1062.9,697.0 L1067.0,699.2 L1070.6,707.0Z"/>
<path class="tf" style="stroke-width:1.15" d="M1048.4,678.5 C1044.0,682.9 1038.2,681.5 1036.0,677.6 C1033.8,673.7 1035.0,671.3 1033.0,667.8 C1031.1,664.3 1028.4,664.1 1026.2,660.2 C1024.0,656.3 1025.9,650.6 1032.0,649.2 L1038.7,650.3 L1043.5,657.4 L1043.2,662.1 L1047.4,664.4 L1050.9,672.1Z"/>
<path class="tf" style="stroke-width:1.15" d="M1028.8,643.6 C1024.4,648.0 1018.6,646.6 1016.4,642.7 C1014.3,638.8 1015.4,636.4 1013.5,632.9 C1011.6,629.4 1008.9,629.2 1006.7,625.2 C1004.5,621.3 1006.4,615.7 1012.5,614.2 L1019.2,615.4 L1024.0,622.5 L1023.7,627.2 L1027.9,629.5 L1031.4,637.3Z"/>
<path class="tf" style="stroke-width:1.15" d="M1009.4,608.7 C1005.0,613.0 999.2,611.6 997.0,607.7 C994.9,603.7 996.1,601.4 994.2,597.9 C992.2,594.4 989.6,594.1 987.4,590.1 C985.3,586.2 987.2,580.6 993.3,579.2 L1000.0,580.4 L1004.7,587.5 L1004.4,592.3 L1008.5,594.6 L1012.0,602.4Z"/>
<path class="tf" style="stroke-width:1.15" d="M990.3,573.6 C985.8,577.9 980.0,576.5 977.9,572.5 C975.8,568.5 977.0,566.2 975.1,562.6 C973.2,559.1 970.6,558.8 968.5,554.8 C966.4,550.9 968.4,545.3 974.5,543.9 L981.2,545.2 L985.8,552.4 L985.4,557.1 L989.5,559.5 L992.9,567.3Z"/>
<path class="mf" style="stroke-width:1.5" d="M960.4,521.6 C955.1,525.0 949.7,522.5 948.4,518.2 C947.1,513.9 948.8,511.8 947.8,508.5 C946.8,505.3 944.2,504.5 942.9,500.2 C941.6,495.9 944.6,490.7 950.9,490.6 L957.2,493.2 L964.2,516.0Z"/><circle class="m" cx="955.5" cy="516.0" r="3.3" style="stroke-width:1.5"/><circle class="m" cx="950.0" cy="498.0" r="3.3" style="stroke-width:1.5"/>
<path class="mf" style="stroke-width:1.5" d="M950.5,487.0 C944.4,488.3 940.3,484.0 940.6,479.5 C940.9,475.0 943.2,473.7 943.3,472.2 C943.4,470.6 941.3,469.0 941.6,464.5 C941.9,460.0 946.6,456.3 952.4,458.4 L957.4,463.1 L956.1,483.0Z"/><circle class="m" cx="948.0" cy="480.0" r="3.3" style="stroke-width:1.5"/><circle class="m" cx="949.0" cy="465.0" r="3.3" style="stroke-width:1.5"/>
<path class="mf" style="stroke-width:1.5" d="M951.2,460.1 C945.6,457.3 945.0,451.4 948.0,448.1 C951.0,444.7 953.6,445.1 953.9,444.8 C954.1,444.5 953.5,441.9 956.5,438.6 C959.5,435.2 965.4,435.2 968.8,440.4 L969.9,447.2 L958.0,460.4Z"/><circle class="m" cx="953.5" cy="453.0" r="3.3" style="stroke-width:1.5"/><circle class="m" cx="962.0" cy="443.5" r="3.3" style="stroke-width:1.5"/>
<path class="mf" style="stroke-width:1.5" d="M965.8,442.3 C963.9,436.3 967.7,431.8 972.2,431.6 C976.7,431.4 978.3,433.6 978.5,433.6 C978.8,433.5 980.2,431.3 984.7,431.1 C989.2,430.9 993.4,435.2 991.9,441.2 L987.8,446.7 L970.3,447.4Z"/><circle class="m" cx="972.5" cy="439.0" r="3.3" style="stroke-width:1.5"/><circle class="m" cx="985.0" cy="438.5" r="3.3" style="stroke-width:1.5"/>
<path class="mf" style="stroke-width:1.5" d="M991.7,442.3 C993.5,436.4 999.2,434.8 1003.0,437.3 C1006.8,439.7 1006.9,442.4 1008.8,443.6 C1010.8,444.9 1013.2,443.8 1017.0,446.3 C1020.8,448.7 1021.8,454.6 1017.1,458.7 L1010.6,460.8 L992.4,449.1Z"/><circle class="m" cx="999.0" cy="443.5" r="3.3" style="stroke-width:1.5"/><circle class="m" cx="1013.0" cy="452.5" r="3.3" style="stroke-width:1.5"/>
<path class="mf" style="stroke-width:1.5" d="M1019.8,461.2 C1023.4,456.0 1029.3,456.3 1032.2,459.8 C1035.1,463.2 1034.3,465.8 1036.7,468.7 C1039.2,471.6 1041.8,471.3 1044.7,474.8 C1047.6,478.2 1046.7,484.1 1041.0,486.6 L1034.2,486.7 L1018.5,467.9Z"/><circle class="m" cx="1026.5" cy="464.5" r="3.3" style="stroke-width:1.5"/><circle class="m" cx="1039.0" cy="479.5" r="3.3" style="stroke-width:1.5"/>
<path class="mf" style="stroke-width:1.5" d="M1044.1,492.2 C1048.0,487.3 1053.9,488.0 1056.5,491.7 C1059.1,495.3 1058.2,497.8 1060.5,501.0 C1062.7,504.1 1065.4,504.0 1068.0,507.7 C1070.6,511.3 1069.4,517.2 1063.5,519.3 L1056.7,518.9 L1042.3,498.8Z"/><circle class="m" cx="1050.5" cy="496.0" r="3.3" style="stroke-width:1.5"/><circle class="m" cx="1062.0" cy="512.0" r="3.3" style="stroke-width:1.5"/>
<path class="mf" style="stroke-width:1.5" d="M1068.6,524.7 C1072.5,519.8 1078.4,520.5 1081.0,524.2 C1083.6,527.8 1082.7,530.3 1085.0,533.5 C1087.2,536.6 1089.9,536.5 1092.5,540.2 C1095.1,543.8 1093.9,549.7 1088.0,551.8 L1081.2,551.4 L1066.8,531.3Z"/><circle class="m" cx="1075.0" cy="528.5" r="3.3" style="stroke-width:1.5"/><circle class="m" cx="1086.5" cy="544.5" r="3.3" style="stroke-width:1.5"/>
<path class="mf" style="stroke-width:1.5" d="M1091.6,556.7 C1095.5,551.8 1101.4,552.5 1104.0,556.2 C1106.6,559.8 1105.7,562.3 1108.0,565.5 C1110.2,568.6 1112.9,568.5 1115.5,572.2 C1118.1,575.8 1116.9,581.7 1111.0,583.8 L1104.2,583.4 L1089.8,563.3Z"/><circle class="m" cx="1098.0" cy="560.5" r="3.3" style="stroke-width:1.5"/><circle class="m" cx="1109.5" cy="576.5" r="3.3" style="stroke-width:1.5"/>
<path class="mf" style="stroke-width:1.5" d="M1114.6,588.7 C1118.5,583.8 1124.4,584.5 1127.0,588.2 C1129.6,591.8 1128.7,594.3 1131.0,597.5 C1133.2,600.6 1135.9,600.5 1138.5,604.2 C1141.1,607.8 1139.9,613.7 1134.0,615.8 L1127.2,615.4 L1112.8,595.3Z"/><circle class="m" cx="1121.0" cy="592.5" r="3.3" style="stroke-width:1.5"/><circle class="m" cx="1132.5" cy="608.5" r="3.3" style="stroke-width:1.5"/>
<path class="mf" style="stroke-width:1.5" d="M1137.6,620.7 C1141.5,615.8 1147.4,616.5 1150.0,620.2 C1152.6,623.8 1151.7,626.3 1154.0,629.5 C1156.2,632.6 1158.9,632.5 1161.5,636.2 C1164.1,639.8 1162.9,645.7 1157.0,647.8 L1150.2,647.4 L1135.8,627.3Z"/><circle class="m" cx="1144.0" cy="624.5" r="3.3" style="stroke-width:1.5"/><circle class="m" cx="1155.5" cy="640.5" r="3.3" style="stroke-width:1.5"/>
<path class="mf" style="stroke-width:1.5" d="M1160.6,652.7 C1164.5,647.8 1170.4,648.5 1173.0,652.2 C1175.6,655.8 1174.7,658.3 1177.0,661.5 C1179.2,664.6 1181.9,664.5 1184.5,668.2 C1187.1,671.8 1185.9,677.7 1180.0,679.8 L1173.2,679.4 L1158.8,659.3Z"/><circle class="m" cx="1167.0" cy="656.5" r="3.3" style="stroke-width:1.5"/><circle class="m" cx="1178.5" cy="672.5" r="3.3" style="stroke-width:1.5"/>
<path class="mf" style="stroke-width:1.5" d="M1183.6,684.7 C1187.5,679.8 1193.4,680.5 1196.0,684.2 C1198.6,687.8 1197.7,690.3 1200.0,693.5 C1202.2,696.6 1204.9,696.5 1207.5,700.2 C1210.1,703.8 1208.9,709.7 1203.0,711.8 L1196.2,711.4 L1181.8,691.3Z"/><circle class="m" cx="1190.0" cy="688.5" r="3.3" style="stroke-width:1.5"/><circle class="m" cx="1201.5" cy="704.5" r="3.3" style="stroke-width:1.5"/>
<path class="mf" style="stroke-width:1.5" d="M1206.6,716.7 C1210.5,711.8 1216.4,712.5 1219.0,716.2 C1221.6,719.8 1220.7,722.3 1223.0,725.5 C1225.2,728.6 1227.9,728.5 1230.5,732.2 C1233.1,735.8 1231.9,741.7 1226.0,743.8 L1219.2,743.4 L1204.8,723.3Z"/><circle class="m" cx="1213.0" cy="720.5" r="3.3" style="stroke-width:1.5"/><circle class="m" cx="1224.5" cy="736.5" r="3.3" style="stroke-width:1.5"/>
<path class="mf" style="stroke-width:1.5" d="M1229.6,748.7 C1233.5,743.8 1239.4,744.5 1242.0,748.2 C1244.6,751.8 1243.7,754.3 1246.0,757.5 C1248.2,760.6 1250.9,760.5 1253.5,764.2 C1256.1,767.8 1254.9,773.7 1249.0,775.8 L1242.2,775.4 L1227.8,755.3Z"/><circle class="m" cx="1236.0" cy="752.5" r="3.3" style="stroke-width:1.5"/><circle class="m" cx="1247.5" cy="768.5" r="3.3" style="stroke-width:1.5"/>
<path class="mf" style="stroke-width:1.5" d="M1252.7,780.5 C1256.7,775.8 1262.6,776.6 1265.1,780.4 C1267.7,784.1 1266.7,786.6 1269.1,790.1 C1271.4,793.6 1274.1,793.6 1276.6,797.4 C1279.2,801.1 1277.7,806.9 1271.8,808.8 L1265.0,808.2 L1250.7,787.1Z"/><circle class="m" cx="1259.0" cy="784.5" r="3.3" style="stroke-width:1.5"/><circle class="m" cx="1270.5" cy="801.5" r="3.3" style="stroke-width:1.5"/>
<path class="mf" style="stroke-width:1.5" d="M1271.2,816.3 C1276.5,813.0 1281.9,815.6 1283.1,820.0 C1284.4,824.3 1282.6,826.3 1283.5,829.3 C1284.4,832.3 1286.9,833.1 1288.1,837.5 C1289.4,841.8 1286.2,846.8 1280.0,846.9 L1273.7,844.2 L1267.3,821.9Z"/><circle class="m" cx="1276.0" cy="822.0" r="3.3" style="stroke-width:1.5"/><circle class="m" cx="1281.0" cy="839.5" r="3.3" style="stroke-width:1.5"/>
<path class="mf" style="stroke-width:1.5" d="M1280.8,850.8 C1286.7,848.9 1291.3,852.8 1291.4,857.3 C1291.5,861.8 1289.4,863.3 1289.4,865.6 C1289.5,867.8 1291.8,869.3 1291.9,873.8 C1292.0,878.3 1287.8,882.4 1281.7,880.9 L1276.3,876.8 L1275.6,855.3Z"/><circle class="m" cx="1284.0" cy="857.5" r="3.3" style="stroke-width:1.5"/><circle class="m" cx="1284.5" cy="874.0" r="3.3" style="stroke-width:1.5"/>
<path class="mf" style="stroke-width:1.5" d="M1281.6,881.6 C1287.8,881.7 1290.9,886.8 1289.6,891.1 C1288.3,895.4 1285.8,896.2 1285.5,897.2 C1285.2,898.2 1286.9,900.3 1285.6,904.6 C1284.3,908.9 1279.0,911.5 1273.7,908.2 L1269.8,902.5 L1275.3,884.2Z"/><circle class="m" cx="1282.5" cy="889.0" r="3.3" style="stroke-width:1.5"/><circle class="m" cx="1278.5" cy="902.5" r="3.3" style="stroke-width:1.5"/>
<path class="mf" style="stroke-width:1.5" d="M1274.5,906.0 C1280.0,908.9 1280.5,914.8 1277.4,918.1 C1274.3,921.3 1271.7,920.9 1271.8,920.8 C1271.9,920.7 1272.5,923.3 1269.4,926.6 C1266.3,929.8 1260.4,929.7 1257.2,924.4 L1256.2,917.6 L1267.7,905.5Z"/><circle class="m" cx="1272.0" cy="913.0" r="3.3" style="stroke-width:1.5"/><circle class="m" cx="1264.0" cy="921.5" r="3.3" style="stroke-width:1.5"/>
<path class="mf" style="stroke-width:1.5" d="M1259.5,922.6 C1262.4,928.1 1259.5,933.3 1255.1,934.2 C1250.7,935.2 1248.7,933.4 1248.9,933.3 C1249.0,933.3 1248.0,935.8 1243.6,936.7 C1239.2,937.7 1234.3,934.2 1234.7,928.0 L1237.8,921.9 L1254.2,918.4Z"/><circle class="m" cx="1253.5" cy="927.0" r="3.3" style="stroke-width:1.5"/><circle class="m" cx="1242.0" cy="929.5" r="3.3" style="stroke-width:1.5"/>
<path class="mf" style="stroke-width:1.5" d="M1236.4,928.7 C1236.2,935.0 1231.0,937.9 1226.7,936.5 C1222.5,935.2 1221.7,932.6 1220.4,932.2 C1219.1,931.8 1217.0,933.4 1212.7,932.0 C1208.5,930.7 1206.0,925.3 1209.4,920.1 L1215.2,916.3 L1233.9,922.4Z"/><circle class="m" cx="1229.0" cy="929.5" r="3.3" style="stroke-width:1.5"/><circle class="m" cx="1215.0" cy="925.0" r="3.3" style="stroke-width:1.5"/>
<path class="mf" style="stroke-width:1.5" d="M1208.2,920.7 C1206.0,926.5 1200.2,927.6 1196.6,924.9 C1193.0,922.2 1193.1,919.6 1190.9,917.9 C1188.7,916.3 1186.2,917.1 1182.6,914.4 C1179.0,911.7 1178.4,905.8 1183.4,902.0 L1190.0,900.4 L1208.0,913.9Z"/><circle class="m" cx="1201.0" cy="919.0" r="3.3" style="stroke-width:1.5"/><circle class="m" cx="1187.0" cy="908.5" r="3.3" style="stroke-width:1.5"/>
<path class="mf" style="stroke-width:1.5" d="M1180.2,901.3 C1176.7,906.4 1170.7,906.2 1167.8,902.8 C1164.9,899.3 1165.7,896.7 1163.0,893.6 C1160.4,890.4 1157.7,890.7 1154.8,887.3 C1151.9,883.8 1152.7,877.9 1158.4,875.4 L1165.3,875.3 L1181.5,894.6Z"/><circle class="m" cx="1173.5" cy="898.0" r="3.3" style="stroke-width:1.5"/><circle class="m" cx="1160.5" cy="882.5" r="3.3" style="stroke-width:1.5"/>
<path class="mf" style="stroke-width:1.5" d="M1155.1,870.7 C1150.9,875.3 1145.1,874.2 1142.7,870.4 C1140.3,866.6 1141.4,864.1 1139.3,860.7 C1137.2,857.3 1134.6,857.2 1132.2,853.4 C1129.8,849.6 1131.5,843.8 1137.5,842.1 L1144.2,843.0 L1157.4,864.3Z"/><circle class="m" cx="1149.0" cy="866.5" r="3.3" style="stroke-width:1.5"/><circle class="m" cx="1138.5" cy="849.5" r="3.3" style="stroke-width:1.5"/>
<path class="mf" style="stroke-width:1.5" d="M1133.9,837.0 C1129.5,841.4 1123.7,840.0 1121.5,836.1 C1119.3,832.1 1120.5,829.8 1118.6,826.3 C1116.7,822.8 1114.0,822.5 1111.8,818.6 C1109.7,814.6 1111.6,809.0 1117.7,807.6 L1124.4,808.8 L1136.5,830.7Z"/><circle class="m" cx="1128.0" cy="832.5" r="3.3" style="stroke-width:1.5"/><circle class="m" cx="1118.3" cy="815.0" r="3.3" style="stroke-width:1.5"/>
<path class="mf" style="stroke-width:1.5" d="M1114.6,802.0 C1110.1,806.4 1104.3,805.0 1102.2,801.1 C1100.0,797.2 1101.2,794.8 1099.2,791.3 C1097.3,787.8 1094.6,787.5 1092.5,783.6 C1090.3,779.7 1092.2,774.0 1098.3,772.6 L1105.0,773.8 L1117.1,795.7Z"/><circle class="m" cx="1108.6" cy="797.5" r="3.3" style="stroke-width:1.5"/><circle class="m" cx="1098.9" cy="780.0" r="3.3" style="stroke-width:1.5"/>
<path class="mf" style="stroke-width:1.5" d="M1095.1,767.0 C1090.7,771.4 1084.9,770.1 1082.7,766.2 C1080.6,762.2 1081.7,759.8 1079.8,756.4 C1077.8,752.9 1075.2,752.6 1073.0,748.7 C1070.8,744.8 1072.7,739.1 1078.8,737.7 L1085.5,738.9 L1097.7,760.7Z"/><circle class="m" cx="1089.2" cy="762.5" r="3.3" style="stroke-width:1.5"/><circle class="m" cx="1079.5" cy="745.1" r="3.3" style="stroke-width:1.5"/>
<path class="mf" style="stroke-width:1.5" d="M1075.6,732.1 C1071.2,736.5 1065.4,735.2 1063.2,731.3 C1061.0,727.3 1062.2,725.0 1060.3,721.5 C1058.3,718.0 1055.6,717.8 1053.4,713.8 C1051.2,709.9 1053.1,704.3 1059.2,702.8 L1065.9,704.0 L1078.1,725.8Z"/><circle class="m" cx="1069.7" cy="727.6" r="3.3" style="stroke-width:1.5"/><circle class="m" cx="1059.9" cy="710.2" r="3.3" style="stroke-width:1.5"/>
<path class="mf" style="stroke-width:1.5" d="M1056.0,697.2 C1051.6,701.7 1045.8,700.3 1043.6,696.4 C1041.4,692.5 1042.6,690.1 1040.7,686.6 C1038.7,683.1 1036.0,682.9 1033.8,679.0 C1031.6,675.1 1033.5,669.4 1039.6,668.0 L1046.3,669.1 L1058.5,690.9Z"/><circle class="m" cx="1050.1" cy="692.8" r="3.3" style="stroke-width:1.5"/><circle class="m" cx="1040.3" cy="675.3" r="3.3" style="stroke-width:1.5"/>
<path class="mf" style="stroke-width:1.5" d="M1036.4,662.4 C1032.0,666.8 1026.2,665.5 1024.0,661.5 C1021.8,657.6 1023.0,655.2 1021.1,651.7 C1019.1,648.2 1016.5,648.0 1014.3,644.1 C1012.1,640.2 1013.9,634.5 1020.0,633.1 L1026.7,634.2 L1038.9,656.0Z"/><circle class="m" cx="1030.5" cy="657.9" r="3.3" style="stroke-width:1.5"/><circle class="m" cx="1020.7" cy="640.5" r="3.3" style="stroke-width:1.5"/>
<path class="mf" style="stroke-width:1.5" d="M1016.9,627.5 C1012.5,631.9 1006.7,630.5 1004.5,626.6 C1002.3,622.6 1003.5,620.3 1001.6,616.8 C999.7,613.3 997.0,613.0 994.8,609.1 C992.7,605.1 994.6,599.5 1000.7,598.1 L1007.4,599.3 L1019.5,621.2Z"/><circle class="m" cx="1011.0" cy="623.0" r="3.3" style="stroke-width:1.5"/><circle class="m" cx="1001.3" cy="605.5" r="3.3" style="stroke-width:1.5"/>
<path class="mf" style="stroke-width:1.5" d="M997.6,592.5 C993.1,596.8 987.3,595.4 985.2,591.5 C983.1,587.5 984.3,585.1 982.4,581.6 C980.5,578.1 977.8,577.8 975.7,573.9 C973.6,569.9 975.5,564.3 981.6,562.9 L988.3,564.2 L1000.2,586.2Z"/><circle class="m" cx="991.7" cy="587.9" r="3.3" style="stroke-width:1.5"/><circle class="m" cx="982.2" cy="570.4" r="3.3" style="stroke-width:1.5"/>
<path class="mf" style="stroke-width:1.5" d="M978.5,557.5 C973.9,561.6 968.2,560.0 966.2,556.0 C964.2,552.0 965.5,549.6 963.2,545.2 C961.0,540.7 958.4,540.3 956.4,536.3 C954.4,532.3 956.5,526.7 962.7,525.6 L969.3,527.1 L981.4,551.2Z"/><circle class="m" cx="972.8" cy="552.7" r="3.3" style="stroke-width:1.5"/><circle class="m" cx="963.0" cy="533.0" r="3.3" style="stroke-width:1.5"/>
</g>

<!-- sprocket 2 (generated) -->
<g>
<path class="mf" style="stroke-width:1" d="M1125.7,992.0 L1125.5,992.0 L1125.2,992.1 L1124.9,992.0 L1124.5,991.8 L1124.0,991.3 L1123.3,990.5 L1122.4,989.4 L1121.6,988.4 L1120.9,987.5 L1120.4,986.9 L1120.0,986.5 L1119.7,986.3 L1119.4,986.2 L1119.2,986.2 L1119.0,986.2 L1118.8,986.3 L1118.7,986.4 L1118.5,986.6 L1118.4,986.8 L1118.4,987.1 L1118.4,987.6 L1118.5,988.3 L1118.7,989.3 L1119.0,990.5 L1119.3,991.9 L1119.6,993.0 L1119.7,993.9 L1119.6,994.4 L1119.5,994.8 L1119.3,995.0 L1119.2,995.1 L1118.9,995.2 L1118.7,995.3 L1118.5,995.4 L1118.3,995.5 L1118.1,995.6 L1117.8,995.7 L1117.6,995.8 L1117.4,995.8 L1117.2,995.9 L1116.9,996.0 L1116.7,996.0 L1116.5,996.1 L1116.2,996.2 L1116.0,996.2 L1115.8,996.3 L1115.5,996.3 L1115.3,996.4 L1115.0,996.3 L1114.8,996.2 L1114.5,996.0 L1114.1,995.5 L1113.6,994.6 L1113.1,993.5 L1112.6,992.2 L1112.1,991.1 L1111.7,990.3 L1111.4,989.7 L1111.1,989.4 L1110.9,989.2 L1110.7,989.1 L1110.5,989.1 L1110.3,989.1 L1110.1,989.1 L1109.9,989.2 L1109.7,989.4 L1109.5,989.7 L1109.4,990.0 L1109.3,990.6 L1109.2,991.5 L1109.2,992.7 L1109.1,994.1 L1109.1,995.4 L1108.9,996.4 L1108.8,997.0 L1108.6,997.4 L1108.3,997.6 L1108.1,997.7 L1107.9,997.8 L1107.6,997.8 L1107.4,997.8 L1107.1,997.9 L1106.9,997.9 L1106.6,997.9 L1106.4,997.9 L1106.1,997.9 L1105.9,998.0 L1105.6,998.0 L1105.4,998.0 L1105.1,998.0 L1104.9,998.0 L1104.6,998.0 L1104.3,998.0 L1104.1,998.0 L1103.8,998.0 L1103.6,997.9 L1103.3,997.8 L1103.1,997.5 L1102.8,997.1 L1102.6,996.3 L1102.3,995.2 L1102.1,993.9 L1101.9,992.6 L1101.7,991.6 L1101.5,990.9 L1101.3,990.4 L1101.0,990.2 L1100.8,990.0 L1100.6,989.9 L1100.4,989.8 L1100.2,989.8 L1099.9,989.9 L1099.7,990.0 L1099.5,990.1 L1099.2,990.4 L1098.9,990.9 L1098.6,991.6 L1098.3,992.6 L1097.9,993.9 L1097.6,995.1 L1097.2,996.2 L1096.9,996.8 L1096.6,997.2 L1096.3,997.4 L1096.0,997.5 L1095.7,997.5 L1095.4,997.5 L1095.2,997.5 L1094.9,997.5 L1094.6,997.4 L1094.4,997.4 L1094.1,997.4 L1093.8,997.3 L1093.5,997.3 L1093.3,997.2 L1093.0,997.2 L1092.7,997.1 L1092.5,997.1 L1092.2,997.0 L1091.9,997.0 L1091.7,996.9 L1091.4,996.8 L1091.1,996.7 L1090.9,996.6 L1090.6,996.3 L1090.4,995.9 L1090.3,995.3 L1090.2,994.3 L1090.2,993.0 L1090.3,991.7 L1090.2,990.6 L1090.2,989.8 L1090.0,989.3 L1089.9,988.9 L1089.7,988.7 L1089.4,988.5 L1089.2,988.4 L1089.0,988.4 L1088.7,988.3 L1088.4,988.4 L1088.1,988.4 L1087.8,988.6 L1087.5,988.9 L1087.0,989.4 L1086.5,990.2 L1085.9,991.2 L1085.3,992.3 L1084.7,993.3 L1084.2,994.0 L1083.8,994.4 L1083.4,994.5 L1083.1,994.6 L1082.8,994.6 L1082.5,994.5 L1082.2,994.4 L1081.9,994.3 L1081.7,994.2 L1081.4,994.1 L1081.1,994.1 L1080.8,994.0 L1080.5,993.9 L1080.3,993.8 L1080.0,993.6 L1079.7,993.5 L1079.4,993.4 L1079.1,993.3 L1078.8,993.2 L1078.6,993.1 L1078.3,993.0 L1078.0,992.8 L1077.8,992.6 L1077.5,992.4 L1077.4,992.0 L1077.3,991.5 L1077.3,990.6 L1077.4,989.6 L1077.6,988.3 L1077.8,987.2 L1077.8,986.4 L1077.8,985.8 L1077.6,985.3 L1077.4,985.0 L1077.2,984.8 L1077.0,984.6 L1076.7,984.5 L1076.5,984.4 L1076.2,984.4 L1075.9,984.3 L1075.5,984.4 L1075.1,984.5 L1074.6,984.9 L1074.1,985.4 L1073.3,986.1 L1072.6,987.0 L1071.8,987.9 L1071.1,988.5 L1070.6,988.9 L1070.2,989.0 L1069.8,989.0 L1069.5,988.9 L1069.2,988.8 L1068.9,988.7 L1068.6,988.5 L1068.3,988.4 L1068.0,988.3 L1067.8,988.1 L1067.5,987.9 L1067.2,987.8 L1066.9,987.6 L1066.6,987.5 L1066.3,987.3 L1066.0,987.2 L1065.8,987.0 L1065.5,986.8 L1065.2,986.7 L1064.9,986.5 L1064.6,986.3 L1064.4,986.1 L1064.2,985.8 L1064.0,985.5 L1063.9,985.0 L1063.9,984.3 L1064.1,983.4 L1064.4,982.3 L1064.6,981.3 L1064.8,980.4 L1064.8,979.7 L1064.7,979.3 L1064.6,978.9 L1064.4,978.6 L1064.2,978.4 L1063.9,978.2 L1063.6,978.0 L1063.3,977.9 L1063.0,977.8 L1062.7,977.8 L1062.3,977.8 L1061.8,977.9 L1061.2,978.2 L1060.5,978.7 L1059.6,979.4 L1058.8,980.0 L1058.0,980.6 L1057.4,980.9 L1056.9,980.9 L1056.5,980.9 L1056.2,980.8 L1055.9,980.6 L1055.6,980.5 L1055.3,980.3 L1055.0,980.1 L1054.7,979.9 L1054.4,979.7 L1054.1,979.5 L1053.9,979.3 L1053.6,979.1 L1053.3,978.8 L1053.0,978.6 L1052.7,978.4 L1052.5,978.2 L1052.2,978.0 L1051.9,977.8 L1051.6,977.6 L1051.4,977.3 L1051.1,977.1 L1050.9,976.8 L1050.7,976.5 L1050.5,976.1 L1050.6,975.5 L1050.7,974.7 L1051.0,973.8 L1051.3,972.8 L1051.6,972.0 L1051.7,971.3 L1051.7,970.7 L1051.6,970.3 L1051.4,970.0 L1051.2,969.7 L1050.9,969.5 L1050.7,969.3 L1050.4,969.1 L1050.1,968.9 L1049.7,968.8 L1049.4,968.7 L1048.9,968.7 L1048.3,968.8 L1047.7,969.0 L1046.8,969.5 L1045.9,969.9 L1045.1,970.3 L1044.4,970.6 L1043.9,970.6 L1043.5,970.5 L1043.1,970.4 L1042.8,970.2 L1042.5,969.9 L1042.3,969.7 L1042.0,969.5 L1041.7,969.2 L1041.4,969.0 L1041.2,968.7 L1040.9,968.5 L1040.6,968.2 L1040.4,968.0 L1040.1,967.7 L1039.8,967.5 L1039.6,967.2 L1039.3,967.0 L1039.0,966.7 L1038.8,966.4 L1038.5,966.2 L1038.3,965.9 L1038.0,965.6 L1037.8,965.3 L1037.7,964.9 L1037.7,964.4 L1037.8,963.7 L1038.1,962.9 L1038.4,962.1 L1038.7,961.2 L1038.9,960.5 L1038.9,960.0 L1038.9,959.6 L1038.7,959.2 L1038.5,958.9 L1038.3,958.6 L1038.1,958.3 L1037.8,958.1 L1037.5,957.8 L1037.2,957.6 L1036.8,957.4 L1036.4,957.3 L1035.9,957.3 L1035.3,957.4 L1034.5,957.6 L1033.7,957.8 L1032.8,958.1 L1032.1,958.3 L1031.6,958.3 L1031.1,958.1 L1030.8,957.9 L1030.5,957.7 L1030.2,957.4 L1029.9,957.2 L1029.7,956.9 L1029.4,956.6 L1029.2,956.3 L1028.9,956.0 L1028.7,955.7 L1028.4,955.4 L1028.2,955.2 L1027.9,954.9 L1027.7,954.6 L1027.4,954.3 L1027.2,954.0 L1026.9,953.7 L1026.7,953.4 L1026.4,953.1 L1026.2,952.8 L1026.0,952.5 L1025.8,952.1 L1025.6,951.7 L1025.6,951.3 L1025.7,950.7 L1025.9,950.1 L1026.3,949.3 L1026.6,948.5 L1026.8,947.8 L1027.0,947.3 L1026.9,946.8 L1026.8,946.4 L1026.7,946.0 L1026.5,945.7 L1026.3,945.4 L1026.0,945.1 L1025.8,944.8 L1025.5,944.6 L1025.2,944.3 L1024.8,944.1 L1024.4,944.0 L1023.9,943.9 L1023.2,943.9 L1022.4,944.1 L1021.5,944.2 L1020.8,944.3 L1020.2,944.2 L1019.8,944.1 L1019.4,943.8 L1019.1,943.6 L1018.9,943.3 L1018.6,943.0 L1018.4,942.7 L1018.1,942.3 L1017.9,942.0 L1017.7,941.7 L1017.5,941.4 L1017.2,941.1 L1017.0,940.7 L1016.8,940.4 L1016.6,940.1 L1016.4,939.8 L1016.1,939.5 L1015.9,939.1 L1015.7,938.8 L1015.5,938.5 L1015.3,938.1 L1015.1,937.8 L1014.9,937.5 L1014.8,937.1 L1014.7,936.6 L1014.7,936.2 L1014.9,935.6 L1015.3,934.9 L1015.7,934.2 L1016.0,933.5 L1016.1,932.9 L1016.2,932.4 L1016.2,932.0 L1016.0,931.6 L1015.9,931.3 L1015.7,930.9 L1015.5,930.6 L1015.3,930.3 L1015.1,930.0 L1014.8,929.7 L1014.5,929.4 L1014.1,929.2 L1013.7,929.0 L1013.1,928.9 L1012.3,928.9 L1011.5,929.0 L1010.8,929.0 L1010.2,928.9 L1009.7,928.7 L1009.4,928.4 L1009.1,928.1 L1008.8,927.8 L1008.6,927.5 L1008.4,927.2 L1008.2,926.8 L1008.0,926.5 L1007.8,926.1 L1007.6,925.8 L1007.4,925.5 L1007.2,925.1 L1007.1,924.8 L1006.9,924.4 L1006.7,924.1 L1006.5,923.7 L1006.3,923.4 L1006.1,923.1 L1005.9,922.7 L1005.8,922.4 L1005.6,922.0 L1005.4,921.6 L1005.3,921.3 L1005.2,920.9 L1005.3,920.4 L1005.5,919.9 L1005.8,919.2 L1006.2,918.6 L1006.6,918.0 L1006.9,917.4 L1007.0,916.9 L1007.0,916.4 L1007.0,916.0 L1006.9,915.7 L1006.8,915.3 L1006.6,915.0 L1006.4,914.6 L1006.2,914.3 L1006.0,914.0 L1005.8,913.7 L1005.5,913.4 L1005.1,913.2 L1004.6,913.0 L1003.9,912.9 L1003.1,912.8 L1002.4,912.7 L1001.7,912.6 L1001.2,912.4 L1000.9,912.1 L1000.6,911.8 L1000.4,911.5 L1000.2,911.2 L1000.1,910.8 L999.9,910.5 L999.7,910.1 L999.6,909.8 L999.4,909.4 L999.3,909.0 L999.1,908.7 L998.9,908.3 L998.8,908.0 L998.6,907.6 L998.5,907.3 L998.3,906.9 L998.2,906.6 L998.1,906.2 L997.9,905.8 L997.8,905.5 L997.7,905.1 L997.6,904.7 L997.5,904.3 L997.6,903.9 L997.7,903.4 L998.1,902.9 L998.5,902.3 L999.0,901.7 L999.4,901.1 L999.7,900.6 L999.8,900.2 L999.8,899.8 L999.8,899.4 L999.7,899.0 L999.6,898.7 L999.5,898.3 L999.3,898.0 L999.2,897.6 L999.0,897.3 L998.7,897.0 L998.4,896.7 L998.0,896.5 L997.4,896.3 L996.6,896.2 L995.9,896.0 L995.2,895.9 L994.6,895.7 L994.3,895.4 L994.0,895.1 L993.8,894.8 L993.7,894.4 L993.5,894.1 L993.4,893.7 L993.3,893.4 L993.1,893.0 L993.0,892.6 L992.9,892.3 L992.8,891.9 L992.7,891.6 L992.6,891.2 L992.5,890.9 L992.4,890.5 L992.2,890.1 L992.1,889.8 L992.0,889.4 L991.9,889.1 L991.8,888.7 L991.8,888.3 L991.7,888.0 L991.7,887.6 L991.7,887.2 L991.9,886.8 L992.3,886.3 L992.8,885.7 L993.4,885.2 L994.0,884.7 L994.4,884.2 L994.6,883.8 L994.7,883.4 L994.8,883.0 L994.7,882.6 L994.7,882.3 L994.6,881.9 L994.5,881.6 L994.4,881.2 L994.3,880.9 L994.1,880.6 L993.8,880.3 L993.5,880.0 L992.9,879.8 L992.2,879.6 L991.4,879.4 L990.7,879.2 L990.1,879.0 L989.7,878.7 L989.4,878.4 L989.2,878.0 L989.1,877.7 L989.0,877.4 L988.9,877.0 L988.8,876.7 L988.7,876.3 L988.7,876.0 L988.6,875.6 L988.5,875.3 L988.4,874.9 L988.4,874.5 L988.3,874.2 L988.2,873.8 L988.2,873.5 L988.1,873.2 L988.1,872.8 L988.0,872.5 L988.0,872.1 L987.9,871.8 L987.9,871.4 L987.9,871.0 L988.0,870.7 L988.2,870.3 L988.6,869.9 L989.2,869.4 L989.9,869.0 L990.6,868.5 L991.2,868.1 L991.6,867.7 L991.8,867.3 L991.9,867.0 L992.0,866.6 L992.0,866.3 L992.0,865.9 L992.0,865.6 L991.9,865.3 L991.9,865.0 L991.7,864.6 L991.5,864.3 L991.2,864.0 L990.7,863.8 L990.1,863.5 L989.2,863.2 L988.4,863.0 L987.7,862.7 L987.2,862.4 L986.9,862.1 L986.7,861.8 L986.6,861.5 L986.6,861.1 L986.5,860.8 L986.5,860.5 L986.4,860.1 L986.4,859.8 L986.4,859.5 L986.4,859.1 L986.3,858.8 L986.3,858.5 L986.3,858.1 L986.3,857.8 L986.3,857.5 L986.2,857.1 L986.2,856.8 L986.2,856.5 L986.2,856.1 L986.2,855.8 L986.2,855.5 L986.3,855.1 L986.4,854.8 L986.6,854.5 L987.1,854.1 L987.7,853.8 L988.5,853.5 L989.4,853.1 L990.2,852.8 L990.7,852.5 L991.1,852.2 L991.4,851.9 L991.5,851.6 L991.6,851.3 L991.7,851.0 L991.7,850.7 L991.7,850.3 L991.7,850.0 L991.6,849.7 L991.4,849.4 L991.2,849.1 L990.8,848.8 L990.1,848.5 L989.3,848.2 L988.4,847.8 L987.6,847.5 L987.0,847.1 L986.6,846.8 L986.5,846.5 L986.4,846.2 L986.3,845.8 L986.3,845.5 L986.3,845.2 L986.3,844.9 L986.4,844.6 L986.4,844.3 L986.4,844.0 L986.4,843.7 L986.4,843.4 L986.5,843.1 L986.5,842.7 L986.5,842.4 L986.6,842.1 L986.6,841.8 L986.6,841.5 L986.7,841.2 L986.7,840.9 L986.8,840.6 L986.9,840.3 L987.0,840.0 L987.3,839.8 L987.7,839.5 L988.4,839.3 L989.3,839.1 L990.3,839.0 L991.3,838.8 L992.0,838.7 L992.5,838.5 L992.9,838.2 L993.1,838.0 L993.3,837.7 L993.4,837.5 L993.5,837.2 L993.6,837.0 L993.6,836.7 L993.6,836.4 L993.5,836.1 L993.3,835.8 L992.9,835.5 L992.4,835.1 L991.6,834.6 L990.7,834.2 L989.8,833.7 L989.1,833.2 L988.6,832.9 L988.4,832.5 L988.3,832.2 L988.3,831.9 L988.3,831.6 L988.4,831.3 L988.4,831.0 L988.5,830.8 L988.5,830.5 L988.6,830.2 L988.7,829.9 L988.8,829.7 L988.8,829.4 L988.9,829.1 L989.0,828.9 L989.0,828.6 L989.1,828.3 L989.2,828.0 L989.3,827.8 L989.4,827.5 L989.5,827.3 L989.6,827.0 L989.8,826.8 L990.1,826.6 L990.5,826.4 L991.1,826.3 L992.0,826.4 L993.2,826.4 L994.3,826.5 L995.2,826.6 L995.9,826.6 L996.4,826.5 L996.7,826.3 L996.9,826.2 L997.1,826.0 L997.2,825.8 L997.3,825.5 L997.4,825.3 L997.4,825.1 L997.4,824.8 L997.3,824.5 L997.0,824.1 L996.6,823.7 L995.9,823.1 L995.0,822.5 L994.0,821.8 L993.2,821.2 L992.7,820.7 L992.5,820.3 L992.4,820.0 L992.4,819.7 L992.4,819.4 L992.5,819.2 L992.6,818.9 L992.7,818.7 L992.8,818.4 L993.0,818.2 L993.1,818.0 L993.2,817.7 L993.3,817.5 L993.4,817.3 L993.5,817.1 L993.7,816.8 L993.8,816.6 L993.9,816.4 L994.0,816.1 L994.2,815.9 L994.3,815.7 L994.5,815.5 L994.7,815.3 L994.9,815.2 L995.3,815.1 L995.9,815.2 L996.8,815.4 L997.9,815.8 L999.0,816.2 L1000.1,816.6 L1000.8,816.8 L1001.4,816.9 L1001.8,816.9 L1002.1,816.8 L1002.3,816.7 L1002.5,816.6 L1002.6,816.4 L1002.7,816.2 L1002.8,816.0 L1002.8,815.8 L1002.8,815.5 L1002.6,815.1 L1002.3,814.6 L1001.8,814.0 L1001.0,813.2 L1000.2,812.3 L999.4,811.4 L998.9,810.7 L998.6,810.2 L998.5,809.8 L998.5,809.5 L998.6,809.3 L998.7,809.1 L998.9,808.9 L999.0,808.7 L999.2,808.5 L999.3,808.3 L999.5,808.1 L999.6,807.9 L999.8,807.7 L999.9,807.5 L1000.1,807.4 L1000.3,807.2 L1000.4,807.0 L1000.6,806.8 L1000.7,806.7 L1000.9,806.5 L1001.1,806.3 L1001.3,806.2 L1001.5,806.0 L1001.8,806.0 L1002.1,806.0 L1002.6,806.1 L1003.3,806.5 L1004.3,807.2 L1005.3,807.9 L1006.3,808.7 L1007.1,809.2 L1007.7,809.5 L1008.2,809.7 L1008.5,809.8 L1008.7,809.8 L1008.9,809.7 L1009.1,809.6 L1009.3,809.5 L1009.4,809.3 L1009.4,809.1 L1009.5,808.9 L1009.4,808.5 L1009.3,808.0 L1008.9,807.3 L1008.4,806.3 L1007.8,805.2 L1007.2,804.1 L1006.7,803.1 L1006.5,802.5 L1006.4,802.0 L1006.5,801.7 L1006.6,801.5 L1006.8,801.3 L1006.9,801.1 L1007.1,801.0 L1007.3,800.8 L1007.5,800.7 L1007.7,800.6 L1007.9,800.4 L1008.1,800.3 L1008.3,800.2 L1008.5,800.0 L1008.7,799.9 L1008.9,799.8 L1009.1,799.7 L1009.3,799.5 L1009.5,799.4 L1009.7,799.3 L1009.9,799.2 L1010.1,799.2 L1010.4,799.1 L1010.7,799.2 L1011.1,799.4 L1011.6,799.9 L1012.3,800.7 L1013.1,801.7 L1013.9,802.8 L1014.6,803.7 L1015.2,804.3 L1015.6,804.6 L1015.9,804.8 L1016.2,804.9 L1016.4,804.9 L1016.6,804.9 L1016.7,804.8 L1016.9,804.7 L1017.0,804.6 L1017.1,804.4 L1017.2,804.0 L1017.2,803.6 L1017.1,802.9 L1016.9,801.9 L1016.6,800.7 L1016.3,799.3 L1016.0,798.2 L1015.9,797.3 L1016.0,796.8 L1016.1,796.4 L1016.3,796.2 L1016.4,796.1 L1016.7,796.0 L1016.9,795.9 L1017.1,795.8 L1017.3,795.7 L1017.5,795.6 L1017.8,795.5 L1018.0,795.4 L1018.2,795.4 L1018.4,795.3 L1018.7,795.2 L1018.9,795.2 L1019.1,795.1 L1019.4,795.0 L1019.6,795.0 L1019.8,794.9 L1020.1,794.9 L1020.3,794.8 L1020.6,794.9 L1020.8,795.0 L1021.1,795.2 L1021.5,795.7 L1022.0,796.6 L1022.5,797.7 L1023.0,799.0 L1023.5,800.1 L1023.9,800.9 L1024.2,801.5 L1024.5,801.8 L1024.7,802.0 L1024.9,802.1 L1025.1,802.1 L1025.3,802.1 L1025.5,802.1 L1025.7,802.0 L1025.9,801.8 L1026.1,801.6 L1026.2,801.2 L1026.3,800.6 L1026.4,799.7 L1026.4,798.5 L1026.5,797.1 L1026.5,795.8 L1026.7,794.8 L1026.8,794.2 L1027.0,793.8 L1027.3,793.6 L1027.5,793.5 L1027.7,793.4 L1028.0,793.4 L1028.2,793.4 L1028.5,793.3 L1028.7,793.3 L1029.0,793.3 L1029.2,793.3 L1029.5,793.3 L1029.7,793.2 L1030.0,793.2 L1030.2,793.2 L1030.5,793.2 L1030.7,793.2 L1031.0,793.2 L1031.3,793.2 L1031.5,793.2 L1031.8,793.2 L1032.0,793.3 L1032.3,793.4 L1032.5,793.7 L1032.8,794.1 L1033.0,794.9 L1033.3,796.1 L1033.5,797.4 L1033.7,798.7 L1033.9,799.7 L1034.1,800.5 L1034.3,800.9 L1034.6,801.2 L1034.8,801.4 L1035.0,801.5 L1035.2,801.5 L1035.4,801.5 L1035.7,801.5 L1035.9,801.4 L1036.1,801.3 L1036.4,801.0 L1036.7,800.5 L1036.9,799.8 L1037.3,798.7 L1037.6,797.4 L1038.0,796.1 L1038.4,795.1 L1038.7,794.4 L1039.0,794.0 L1039.3,793.8 L1039.6,793.7 L1039.9,793.7 L1040.2,793.7 L1040.4,793.7 L1040.7,793.7 L1041.0,793.8 L1041.2,793.8 L1041.5,793.8 L1041.8,793.9 L1042.1,793.9 L1042.3,794.0 L1042.6,794.0 L1042.9,794.1 L1043.1,794.1 L1043.4,794.2 L1043.7,794.2 L1043.9,794.3 L1044.2,794.4 L1044.5,794.5 L1044.7,794.6 L1045.0,794.9 L1045.2,795.3 L1045.3,796.0 L1045.3,797.1 L1045.3,798.4 L1045.3,799.8 L1045.3,800.9 L1045.3,801.8 L1045.4,802.4 L1045.6,802.7 L1045.8,803.0 L1046.0,803.2 L1046.3,803.3 L1046.5,803.4 L1046.8,803.4 L1047.0,803.4 L1047.3,803.3 L1047.6,803.2 L1048.0,802.8 L1048.4,802.3 L1048.9,801.4 L1049.6,800.3 L1050.2,799.1 L1050.8,798.0 L1051.4,797.3 L1051.8,796.9 L1052.2,796.7 L1052.5,796.6 L1052.8,796.7 L1053.1,796.7 L1053.4,796.8 L1053.7,796.9 L1053.9,797.0 L1054.2,797.1 L1054.5,797.1 L1054.8,797.2 L1055.1,797.3 L1055.3,797.4 L1055.6,797.6 L1055.9,797.7 L1056.2,797.8 L1056.5,797.9 L1056.7,798.0 L1057.0,798.1 L1057.3,798.2 L1057.6,798.4 L1057.8,798.6 L1058.0,798.8 L1058.2,799.2 L1058.3,799.8 L1058.2,800.8 L1058.0,802.0 L1057.8,803.4 L1057.6,804.6 L1057.5,805.6 L1057.5,806.3 L1057.6,806.8 L1057.7,807.1 L1057.9,807.4 L1058.2,807.5 L1058.4,807.7 L1058.7,807.8 L1059.0,807.9 L1059.3,807.9 L1059.6,807.8 L1060.0,807.6 L1060.5,807.2 L1061.2,806.6 L1061.9,805.7 L1062.8,804.6 L1063.6,803.6 L1064.4,802.9 L1064.9,802.4 L1065.4,802.3 L1065.8,802.2 L1066.1,802.3 L1066.4,802.4 L1066.7,802.5 L1067.0,802.7 L1067.3,802.8 L1067.6,802.9 L1067.8,803.1 L1068.1,803.3 L1068.4,803.4 L1068.7,803.6 L1069.0,803.7 L1069.3,803.9 L1069.6,804.0 L1069.8,804.2 L1070.1,804.4 L1070.4,804.5 L1070.7,804.7 L1070.9,804.9 L1071.2,805.1 L1071.4,805.4 L1071.6,805.8 L1071.6,806.3 L1071.5,807.1 L1071.2,808.3 L1070.8,809.6 L1070.4,810.8 L1070.1,811.9 L1070.0,812.7 L1070.0,813.3 L1070.1,813.7 L1070.3,814.0 L1070.5,814.3 L1070.8,814.5 L1071.0,814.6 L1071.3,814.8 L1071.6,814.9 L1072.0,814.9 L1072.4,814.8 L1072.9,814.6 L1073.6,814.2 L1074.4,813.5 L1075.4,812.6 L1076.5,811.7 L1077.4,811.0 L1078.1,810.5 L1078.6,810.3 L1079.1,810.3 L1079.4,810.4 L1079.7,810.6 L1080.0,810.8 L1080.3,810.9 L1080.6,811.1 L1080.9,811.3 L1081.2,811.5 L1081.5,811.7 L1081.7,811.9 L1082.0,812.1 L1082.3,812.4 L1082.6,812.6 L1082.9,812.8 L1083.1,813.0 L1083.4,813.2 L1083.7,813.4 L1084.0,813.6 L1084.2,813.9 L1084.5,814.1 L1084.7,814.4 L1084.9,814.8 L1084.9,815.3 L1084.8,816.0 L1084.5,817.0 L1084.0,818.2 L1083.4,819.5 L1082.9,820.6 L1082.6,821.5 L1082.6,822.1 L1082.6,822.6 L1082.7,823.0 L1082.9,823.3 L1083.1,823.6 L1083.4,823.8 L1083.6,824.0 L1084.0,824.2 L1084.3,824.3 L1084.7,824.3 L1085.2,824.2 L1085.9,824.0 L1086.8,823.5 L1087.8,822.8 L1089.0,822.0 L1090.1,821.4 L1090.9,820.9 L1091.6,820.7 L1092.0,820.7 L1092.4,820.9 L1092.8,821.1 L1093.1,821.3 L1093.3,821.5 L1093.6,821.7 L1093.9,822.0 L1094.2,822.2 L1094.4,822.5 L1094.7,822.7 L1095.0,823.0 L1095.2,823.2 L1095.5,823.5 L1095.8,823.7 L1096.0,824.0 L1096.3,824.3 L1096.6,824.5 L1096.8,824.8 L1097.1,825.1 L1097.3,825.3 L1097.5,825.7 L1097.7,826.0 L1097.8,826.5 L1097.7,827.1 L1097.3,828.0 L1096.8,829.1 L1096.1,830.3 L1095.4,831.4 L1095.0,832.4 L1094.7,833.1 L1094.7,833.6 L1094.8,834.1 L1094.9,834.4 L1095.1,834.7 L1095.3,835.0 L1095.6,835.3 L1095.9,835.5 L1096.2,835.7 L1096.6,835.8 L1097.1,835.8 L1097.7,835.8 L1098.5,835.5 L1099.6,835.0 L1100.8,834.4 L1102.0,833.7 L1103.1,833.3 L1103.8,833.2 L1104.4,833.2 L1104.8,833.3 L1105.1,833.5 L1105.4,833.8 L1105.7,834.0 L1105.9,834.3 L1106.2,834.6 L1106.4,834.9 L1106.7,835.2 L1106.9,835.5 L1107.2,835.8 L1107.4,836.0 L1107.7,836.3 L1107.9,836.6 L1108.2,836.9 L1108.4,837.2 L1108.7,837.5 L1108.9,837.8 L1109.2,838.1 L1109.4,838.4 L1109.6,838.8 L1109.7,839.1 L1109.8,839.6 L1109.7,840.1 L1109.4,840.9 L1108.8,841.9 L1108.0,843.0 L1107.2,844.1 L1106.6,845.1 L1106.2,845.8 L1106.1,846.4 L1106.1,846.9 L1106.1,847.3 L1106.3,847.7 L1106.5,848.0 L1106.7,848.3 L1107.0,848.6 L1107.2,848.8 L1107.6,849.0 L1108.0,849.1 L1108.6,849.2 L1109.4,849.1 L1110.4,848.8 L1111.7,848.3 L1113.0,847.8 L1114.1,847.4 L1115.0,847.3 L1115.6,847.3 L1116.1,847.4 L1116.4,847.7 L1116.7,848.0 L1117.0,848.2 L1117.2,848.6 L1117.4,848.9 L1117.7,849.2 L1117.9,849.5 L1118.1,849.8 L1118.4,850.1 L1118.6,850.5 L1118.8,850.8 L1119.0,851.1 L1119.2,851.4 L1119.5,851.7 L1119.7,852.1 L1119.9,852.4 L1120.1,852.7 L1120.3,853.1 L1120.5,853.4 L1120.6,853.8 L1120.7,854.2 L1120.6,854.7 L1120.4,855.4 L1119.8,856.2 L1118.9,857.2 L1118.0,858.3 L1117.2,859.3 L1116.7,860.1 L1116.4,860.7 L1116.3,861.2 L1116.3,861.6 L1116.4,862.0 L1116.5,862.4 L1116.7,862.7 L1116.9,863.0 L1117.2,863.3 L1117.5,863.6 L1117.9,863.8 L1118.4,863.9 L1119.1,863.9 L1120.0,863.8 L1121.3,863.5 L1122.6,863.1 L1123.9,862.8 L1124.9,862.7 L1125.6,862.7 L1126.1,862.9 L1126.4,863.1 L1126.7,863.4 L1126.9,863.7 L1127.2,864.1 L1127.4,864.4 L1127.6,864.7 L1127.8,865.1 L1128.0,865.4 L1128.2,865.7 L1128.4,866.1 L1128.5,866.4 L1128.7,866.8 L1128.9,867.1 L1129.1,867.5 L1129.3,867.8 L1129.5,868.2 L1129.7,868.5 L1129.8,868.9 L1130.0,869.2 L1130.1,869.6 L1130.2,870.0 L1130.1,870.5 L1129.9,871.0 L1129.3,871.8 L1128.5,872.6 L1127.5,873.6 L1126.5,874.5 L1125.8,875.3 L1125.3,876.0 L1125.1,876.5 L1125.0,877.0 L1125.1,877.4 L1125.1,877.7 L1125.3,878.1 L1125.4,878.4 L1125.7,878.7 L1125.9,879.0 L1126.2,879.3 L1126.7,879.5 L1127.3,879.6 L1128.2,879.6 L1129.3,879.5 L1130.7,879.3 L1132.0,879.0 L1133.1,878.9 L1134.0,879.0 L1134.5,879.2 L1134.9,879.4 L1135.1,879.7 L1135.3,880.1 L1135.5,880.4 L1135.7,880.7 L1135.9,881.1 L1136.0,881.4 L1136.2,881.8 L1136.3,882.2 L1136.5,882.5 L1136.6,882.9 L1136.8,883.2 L1137.0,883.6 L1137.1,883.9 L1137.3,884.3 L1137.4,884.6 L1137.5,885.0 L1137.7,885.4 L1137.8,885.7 L1137.9,886.1 L1137.9,886.5 L1137.9,886.9 L1137.7,887.4 L1137.2,888.0 L1136.4,888.8 L1135.3,889.6 L1134.2,890.4 L1133.3,891.2 L1132.7,891.8 L1132.3,892.4 L1132.1,892.8 L1132.1,893.2 L1132.1,893.6 L1132.2,894.0 L1132.3,894.3 L1132.4,894.6 L1132.7,895.0 L1132.9,895.2 L1133.3,895.5 L1133.8,895.7 L1134.6,895.8 L1135.6,895.8 L1136.9,895.8 L1138.3,895.7 L1139.5,895.6 L1140.5,895.7 L1141.1,895.9 L1141.5,896.2 L1141.7,896.5 L1141.9,896.8 L1142.1,897.1 L1142.2,897.5 L1142.3,897.9 L1142.4,898.2 L1142.6,898.6 L1142.7,898.9 L1142.8,899.3 L1142.9,899.6 L1143.0,900.0 L1143.1,900.3 L1143.2,900.7 L1143.3,901.1 L1143.5,901.4 L1143.6,901.8 L1143.6,902.1 L1143.7,902.5 L1143.8,902.9 L1143.8,903.3 L1143.8,903.7 L1143.6,904.1 L1143.1,904.6 L1142.4,905.2 L1141.3,905.9 L1140.1,906.6 L1139.0,907.2 L1138.2,907.8 L1137.7,908.3 L1137.4,908.8 L1137.2,909.2 L1137.2,909.5 L1137.2,909.9 L1137.3,910.2 L1137.4,910.6 L1137.5,910.9 L1137.7,911.2 L1138.0,911.5 L1138.4,911.7 L1139.1,911.9 L1140.0,912.1 L1141.2,912.1 L1142.6,912.2 L1143.9,912.2 L1144.9,912.4 L1145.6,912.6 L1146.0,912.9 L1146.3,913.2 L1146.5,913.5 L1146.6,913.9 L1146.7,914.2 L1146.8,914.5 L1146.9,914.9 L1146.9,915.2 L1147.0,915.6 L1147.1,916.0 L1147.1,916.3 L1147.2,916.7 L1147.3,917.0 L1147.3,917.4 L1147.4,917.7 L1147.5,918.0 L1147.5,918.4 L1147.6,918.7 L1147.6,919.1 L1147.7,919.5 L1147.6,919.8 L1147.6,920.2 L1147.4,920.6 L1147.0,921.0 L1146.3,921.4 L1145.2,922.0 L1144.0,922.5 L1142.7,923.0 L1141.8,923.5 L1141.1,923.9 L1140.7,924.3 L1140.4,924.7 L1140.3,925.0 L1140.3,925.4 L1140.3,925.7 L1140.3,926.0 L1140.4,926.3 L1140.5,926.6 L1140.7,926.9 L1141.1,927.2 L1141.6,927.5 L1142.3,927.7 L1143.4,927.9 L1144.8,928.1 L1146.1,928.3 L1147.3,928.5 L1148.0,928.8 L1148.5,929.1 L1148.8,929.4 L1148.9,929.7 L1149.0,930.1 L1149.1,930.4 L1149.1,930.7 L1149.2,931.1 L1149.2,931.4 L1149.2,931.7 L1149.2,932.1 L1149.3,932.4 L1149.3,932.7 L1149.3,933.1 L1149.3,933.4 L1149.3,933.7 L1149.4,934.1 L1149.4,934.4 L1149.4,934.7 L1149.4,935.1 L1149.4,935.4 L1149.3,935.7 L1149.2,936.1 L1149.0,936.4 L1148.7,936.7 L1148.1,937.1 L1147.1,937.4 L1145.8,937.8 L1144.5,938.1 L1143.3,938.4 L1142.5,938.7 L1141.9,939.0 L1141.6,939.3 L1141.4,939.6 L1141.3,939.9 L1141.2,940.2 L1141.2,940.5 L1141.2,940.8 L1141.3,941.1 L1141.4,941.4 L1141.6,941.7 L1142.0,942.0 L1142.7,942.3 L1143.6,942.7 L1144.8,943.0 L1146.2,943.3 L1147.4,943.7 L1148.2,944.1 L1148.8,944.4 L1149.0,944.7 L1149.2,945.0 L1149.2,945.4 L1149.3,945.7 L1149.3,946.0 L1149.3,946.3 L1149.2,946.6 L1149.2,946.9 L1149.2,947.2 L1149.2,947.5 L1149.2,947.8 L1149.1,948.1 L1149.1,948.5 L1149.1,948.8 L1149.0,949.1 L1149.0,949.4 L1149.0,949.7 L1148.9,950.0 L1148.9,950.3 L1148.8,950.6 L1148.7,950.9 L1148.5,951.1 L1148.2,951.4 L1147.6,951.6 L1146.7,951.8 L1145.5,951.9 L1144.1,952.0 L1142.8,952.1 L1141.9,952.3 L1141.2,952.5 L1140.7,952.7 L1140.4,952.9 L1140.2,953.1 L1140.1,953.4 L1140.0,953.6 L1140.0,953.9 L1140.0,954.2 L1140.1,954.4 L1140.2,954.7 L1140.5,955.1 L1141.0,955.4 L1141.8,955.8 L1142.8,956.3 L1144.1,956.9 L1145.3,957.4 L1146.2,957.9 L1146.8,958.3 L1147.1,958.7 L1147.2,959.0 L1147.3,959.3 L1147.3,959.6 L1147.2,959.9 L1147.2,960.1 L1147.1,960.4 L1147.1,960.7 L1147.0,961.0 L1146.9,961.3 L1146.8,961.5 L1146.8,961.8 L1146.7,962.1 L1146.6,962.3 L1146.5,962.6 L1146.5,962.9 L1146.4,963.2 L1146.3,963.4 L1146.2,963.7 L1146.1,963.9 L1146.0,964.2 L1145.8,964.4 L1145.5,964.6 L1145.0,964.7 L1144.2,964.8 L1143.1,964.7 L1141.7,964.5 L1140.4,964.3 L1139.3,964.2 L1138.5,964.2 L1138.0,964.3 L1137.6,964.4 L1137.4,964.6 L1137.2,964.7 L1137.1,964.9 L1137.0,965.2 L1136.9,965.4 L1136.9,965.6 L1137.0,965.9 L1137.2,966.2 L1137.5,966.6 L1138.1,967.1 L1138.9,967.7 L1140.0,968.5 L1141.2,969.2 L1142.1,969.9 L1142.7,970.4 L1143.0,970.9 L1143.2,971.2 L1143.2,971.5 L1143.1,971.8 L1143.1,972.0 L1143.0,972.3 L1142.9,972.5 L1142.8,972.7 L1142.6,973.0 L1142.5,973.2 L1142.4,973.5 L1142.3,973.7 L1142.2,973.9 L1142.1,974.1 L1141.9,974.4 L1141.8,974.6 L1141.7,974.8 L1141.6,975.1 L1141.4,975.3 L1141.3,975.5 L1141.1,975.7 L1140.9,975.9 L1140.6,976.0 L1140.2,976.0 L1139.6,975.9 L1138.6,975.7 L1137.4,975.2 L1136.1,974.7 L1135.0,974.3 L1134.1,974.0 L1133.5,973.9 L1133.1,973.9 L1132.8,973.9 L1132.6,974.1 L1132.4,974.2 L1132.3,974.4 L1132.2,974.5 L1132.2,974.7 L1132.2,975.0 L1132.2,975.3 L1132.4,975.7 L1132.8,976.2 L1133.4,976.9 L1134.3,977.8 L1135.2,978.8 L1136.1,979.7 L1136.7,980.4 L1137.0,981.0 L1137.1,981.4 L1137.1,981.7 L1137.0,981.9 L1136.9,982.1 L1136.7,982.3 L1136.6,982.5 L1136.4,982.7 L1136.3,982.9 L1136.1,983.1 L1136.0,983.3 L1135.8,983.5 L1135.7,983.7 L1135.5,983.8 L1135.3,984.0 L1135.2,984.2 L1135.0,984.4 L1134.9,984.5 L1134.7,984.7 L1134.5,984.9 L1134.3,985.0 L1134.1,985.1 L1133.8,985.2 L1133.5,985.2 L1132.9,985.0 L1132.2,984.6 L1131.2,983.9 L1130.1,983.1 L1129.1,982.4 L1128.3,981.8 L1127.6,981.4 L1127.2,981.2 L1126.9,981.2 L1126.6,981.2 L1126.4,981.3 L1126.3,981.4 L1126.1,981.5 L1126.0,981.6 L1126.0,981.9 L1125.9,982.1 L1126.0,982.5 L1126.2,983.0 L1126.5,983.7 L1127.1,984.7 L1127.7,985.9 L1128.4,987.1 L1128.9,988.0 L1129.1,988.7 L1129.2,989.2 L1129.1,989.5 L1129.0,989.7 L1128.8,989.9 L1128.7,990.1 L1128.5,990.2 L1128.3,990.4 L1128.1,990.5 L1127.9,990.6 L1127.7,990.8 L1127.5,990.9 L1127.3,991.0 L1127.1,991.2 L1126.9,991.3 L1126.7,991.4 L1126.5,991.5 L1126.3,991.7 L1126.1,991.8 L1125.9,991.9Z"/>
<path class="of" style="stroke-width:2" d="M1122.1,994.0 L1121.9,994.0 L1121.6,994.1 L1121.3,994.0 L1120.9,993.8 L1120.4,993.3 L1119.7,992.5 L1118.8,991.4 L1118.0,990.4 L1117.3,989.5 L1116.8,988.9 L1116.4,988.5 L1116.1,988.3 L1115.8,988.2 L1115.6,988.2 L1115.4,988.2 L1115.2,988.3 L1115.1,988.4 L1114.9,988.6 L1114.8,988.8 L1114.8,989.1 L1114.8,989.6 L1114.9,990.3 L1115.1,991.3 L1115.4,992.5 L1115.7,993.9 L1116.0,995.0 L1116.1,995.9 L1116.0,996.4 L1115.9,996.8 L1115.7,997.0 L1115.6,997.1 L1115.3,997.2 L1115.1,997.3 L1114.9,997.4 L1114.7,997.5 L1114.5,997.6 L1114.2,997.7 L1114.0,997.8 L1113.8,997.8 L1113.6,997.9 L1113.3,998.0 L1113.1,998.0 L1112.9,998.1 L1112.6,998.2 L1112.4,998.2 L1112.2,998.3 L1111.9,998.3 L1111.7,998.4 L1111.4,998.3 L1111.2,998.2 L1110.9,998.0 L1110.5,997.5 L1110.0,996.6 L1109.5,995.5 L1109.0,994.2 L1108.5,993.1 L1108.1,992.3 L1107.8,991.7 L1107.5,991.4 L1107.3,991.2 L1107.1,991.1 L1106.9,991.1 L1106.7,991.1 L1106.5,991.1 L1106.3,991.2 L1106.1,991.4 L1105.9,991.7 L1105.8,992.0 L1105.7,992.6 L1105.6,993.5 L1105.6,994.7 L1105.5,996.1 L1105.5,997.4 L1105.3,998.4 L1105.2,999.0 L1105.0,999.4 L1104.7,999.6 L1104.5,999.7 L1104.3,999.8 L1104.0,999.8 L1103.8,999.8 L1103.5,999.9 L1103.3,999.9 L1103.0,999.9 L1102.8,999.9 L1102.5,999.9 L1102.3,1000.0 L1102.0,1000.0 L1101.8,1000.0 L1101.5,1000.0 L1101.3,1000.0 L1101.0,1000.0 L1100.7,1000.0 L1100.5,1000.0 L1100.2,1000.0 L1100.0,999.9 L1099.7,999.8 L1099.5,999.5 L1099.2,999.1 L1099.0,998.3 L1098.7,997.2 L1098.5,995.9 L1098.3,994.6 L1098.1,993.6 L1097.9,992.9 L1097.7,992.4 L1097.4,992.2 L1097.2,992.0 L1097.0,991.9 L1096.8,991.8 L1096.6,991.8 L1096.3,991.9 L1096.1,992.0 L1095.9,992.1 L1095.6,992.4 L1095.3,992.9 L1095.0,993.6 L1094.7,994.6 L1094.3,995.9 L1094.0,997.1 L1093.6,998.2 L1093.3,998.8 L1093.0,999.2 L1092.7,999.4 L1092.4,999.5 L1092.1,999.5 L1091.8,999.5 L1091.6,999.5 L1091.3,999.5 L1091.0,999.4 L1090.8,999.4 L1090.5,999.4 L1090.2,999.3 L1089.9,999.3 L1089.7,999.2 L1089.4,999.2 L1089.1,999.1 L1088.9,999.1 L1088.6,999.0 L1088.3,999.0 L1088.1,998.9 L1087.8,998.8 L1087.5,998.7 L1087.3,998.6 L1087.0,998.3 L1086.8,997.9 L1086.7,997.3 L1086.6,996.3 L1086.6,995.0 L1086.7,993.7 L1086.6,992.6 L1086.6,991.8 L1086.4,991.3 L1086.3,990.9 L1086.1,990.7 L1085.8,990.5 L1085.6,990.4 L1085.4,990.4 L1085.1,990.3 L1084.8,990.4 L1084.5,990.4 L1084.2,990.6 L1083.9,990.9 L1083.4,991.4 L1082.9,992.2 L1082.3,993.2 L1081.7,994.3 L1081.1,995.3 L1080.6,996.0 L1080.2,996.4 L1079.8,996.5 L1079.5,996.6 L1079.2,996.6 L1078.9,996.5 L1078.6,996.4 L1078.3,996.3 L1078.1,996.2 L1077.8,996.1 L1077.5,996.1 L1077.2,996.0 L1076.9,995.9 L1076.7,995.8 L1076.4,995.6 L1076.1,995.5 L1075.8,995.4 L1075.5,995.3 L1075.2,995.2 L1075.0,995.1 L1074.7,995.0 L1074.4,994.8 L1074.2,994.6 L1073.9,994.4 L1073.8,994.0 L1073.7,993.5 L1073.7,992.6 L1073.8,991.6 L1074.0,990.3 L1074.2,989.2 L1074.2,988.4 L1074.2,987.8 L1074.0,987.3 L1073.8,987.0 L1073.6,986.8 L1073.4,986.6 L1073.1,986.5 L1072.9,986.4 L1072.6,986.4 L1072.3,986.3 L1071.9,986.4 L1071.5,986.5 L1071.0,986.9 L1070.5,987.4 L1069.7,988.1 L1069.0,989.0 L1068.2,989.9 L1067.5,990.5 L1067.0,990.9 L1066.6,991.0 L1066.2,991.0 L1065.9,990.9 L1065.6,990.8 L1065.3,990.7 L1065.0,990.5 L1064.7,990.4 L1064.4,990.3 L1064.2,990.1 L1063.9,989.9 L1063.6,989.8 L1063.3,989.6 L1063.0,989.5 L1062.7,989.3 L1062.4,989.2 L1062.2,989.0 L1061.9,988.8 L1061.6,988.7 L1061.3,988.5 L1061.0,988.3 L1060.8,988.1 L1060.6,987.8 L1060.4,987.5 L1060.3,987.0 L1060.3,986.3 L1060.5,985.4 L1060.8,984.3 L1061.0,983.3 L1061.2,982.4 L1061.2,981.7 L1061.1,981.3 L1061.0,980.9 L1060.8,980.6 L1060.6,980.4 L1060.3,980.2 L1060.0,980.0 L1059.7,979.9 L1059.4,979.8 L1059.1,979.8 L1058.7,979.8 L1058.2,979.9 L1057.6,980.2 L1056.9,980.7 L1056.0,981.4 L1055.2,982.0 L1054.4,982.6 L1053.8,982.9 L1053.3,982.9 L1052.9,982.9 L1052.6,982.8 L1052.3,982.6 L1052.0,982.5 L1051.7,982.3 L1051.4,982.1 L1051.1,981.9 L1050.8,981.7 L1050.5,981.5 L1050.3,981.3 L1050.0,981.1 L1049.7,980.8 L1049.4,980.6 L1049.1,980.4 L1048.9,980.2 L1048.6,980.0 L1048.3,979.8 L1048.0,979.6 L1047.8,979.3 L1047.5,979.1 L1047.3,978.8 L1047.1,978.5 L1046.9,978.1 L1047.0,977.5 L1047.1,976.7 L1047.4,975.8 L1047.7,974.8 L1048.0,974.0 L1048.1,973.3 L1048.1,972.7 L1048.0,972.3 L1047.8,972.0 L1047.6,971.7 L1047.3,971.5 L1047.1,971.3 L1046.8,971.1 L1046.5,970.9 L1046.1,970.8 L1045.8,970.7 L1045.3,970.7 L1044.7,970.8 L1044.1,971.0 L1043.2,971.5 L1042.3,971.9 L1041.5,972.3 L1040.8,972.6 L1040.3,972.6 L1039.9,972.5 L1039.5,972.4 L1039.2,972.2 L1038.9,971.9 L1038.7,971.7 L1038.4,971.5 L1038.1,971.2 L1037.8,971.0 L1037.6,970.7 L1037.3,970.5 L1037.0,970.2 L1036.8,970.0 L1036.5,969.7 L1036.2,969.5 L1036.0,969.2 L1035.7,969.0 L1035.4,968.7 L1035.2,968.4 L1034.9,968.2 L1034.7,967.9 L1034.4,967.6 L1034.2,967.3 L1034.1,966.9 L1034.1,966.4 L1034.2,965.7 L1034.5,964.9 L1034.8,964.1 L1035.1,963.2 L1035.3,962.5 L1035.3,962.0 L1035.3,961.6 L1035.1,961.2 L1034.9,960.9 L1034.7,960.6 L1034.5,960.3 L1034.2,960.1 L1033.9,959.8 L1033.6,959.6 L1033.2,959.4 L1032.8,959.3 L1032.3,959.3 L1031.7,959.4 L1030.9,959.6 L1030.1,959.8 L1029.2,960.1 L1028.5,960.3 L1028.0,960.3 L1027.5,960.1 L1027.2,959.9 L1026.9,959.7 L1026.6,959.4 L1026.3,959.2 L1026.1,958.9 L1025.8,958.6 L1025.6,958.3 L1025.3,958.0 L1025.1,957.7 L1024.8,957.4 L1024.6,957.2 L1024.3,956.9 L1024.1,956.6 L1023.8,956.3 L1023.6,956.0 L1023.3,955.7 L1023.1,955.4 L1022.8,955.1 L1022.6,954.8 L1022.4,954.5 L1022.2,954.1 L1022.0,953.7 L1022.0,953.3 L1022.1,952.7 L1022.3,952.1 L1022.7,951.3 L1023.0,950.5 L1023.2,949.8 L1023.4,949.3 L1023.3,948.8 L1023.2,948.4 L1023.1,948.0 L1022.9,947.7 L1022.7,947.4 L1022.4,947.1 L1022.2,946.8 L1021.9,946.6 L1021.6,946.3 L1021.2,946.1 L1020.8,946.0 L1020.3,945.9 L1019.6,945.9 L1018.8,946.1 L1017.9,946.2 L1017.2,946.3 L1016.6,946.2 L1016.2,946.1 L1015.8,945.8 L1015.5,945.6 L1015.3,945.3 L1015.0,945.0 L1014.8,944.7 L1014.5,944.3 L1014.3,944.0 L1014.1,943.7 L1013.9,943.4 L1013.6,943.1 L1013.4,942.7 L1013.2,942.4 L1013.0,942.1 L1012.8,941.8 L1012.5,941.5 L1012.3,941.1 L1012.1,940.8 L1011.9,940.5 L1011.7,940.1 L1011.5,939.8 L1011.3,939.5 L1011.2,939.1 L1011.1,938.6 L1011.1,938.2 L1011.3,937.6 L1011.7,936.9 L1012.1,936.2 L1012.4,935.5 L1012.5,934.9 L1012.6,934.4 L1012.6,934.0 L1012.4,933.6 L1012.3,933.3 L1012.1,932.9 L1011.9,932.6 L1011.7,932.3 L1011.5,932.0 L1011.2,931.7 L1010.9,931.4 L1010.5,931.2 L1010.1,931.0 L1009.5,930.9 L1008.7,930.9 L1007.9,931.0 L1007.2,931.0 L1006.6,930.9 L1006.1,930.7 L1005.8,930.4 L1005.5,930.1 L1005.2,929.8 L1005.0,929.5 L1004.8,929.2 L1004.6,928.8 L1004.4,928.5 L1004.2,928.1 L1004.0,927.8 L1003.8,927.5 L1003.6,927.1 L1003.5,926.8 L1003.3,926.4 L1003.1,926.1 L1002.9,925.7 L1002.7,925.4 L1002.5,925.1 L1002.3,924.7 L1002.2,924.4 L1002.0,924.0 L1001.8,923.6 L1001.7,923.3 L1001.6,922.9 L1001.7,922.4 L1001.9,921.9 L1002.2,921.2 L1002.6,920.6 L1003.0,920.0 L1003.3,919.4 L1003.4,918.9 L1003.4,918.4 L1003.4,918.0 L1003.3,917.7 L1003.2,917.3 L1003.0,917.0 L1002.8,916.6 L1002.6,916.3 L1002.4,916.0 L1002.2,915.7 L1001.9,915.4 L1001.5,915.2 L1001.0,915.0 L1000.3,914.9 L999.5,914.8 L998.8,914.7 L998.1,914.6 L997.6,914.4 L997.3,914.1 L997.0,913.8 L996.8,913.5 L996.6,913.2 L996.5,912.8 L996.3,912.5 L996.1,912.1 L996.0,911.8 L995.8,911.4 L995.7,911.0 L995.5,910.7 L995.3,910.3 L995.2,910.0 L995.0,909.6 L994.9,909.3 L994.7,908.9 L994.6,908.6 L994.5,908.2 L994.3,907.8 L994.2,907.5 L994.1,907.1 L994.0,906.7 L993.9,906.3 L994.0,905.9 L994.1,905.4 L994.5,904.9 L994.9,904.3 L995.4,903.7 L995.8,903.1 L996.1,902.6 L996.2,902.2 L996.2,901.8 L996.2,901.4 L996.1,901.0 L996.0,900.7 L995.9,900.3 L995.7,900.0 L995.6,899.6 L995.4,899.3 L995.1,899.0 L994.8,898.7 L994.4,898.5 L993.8,898.3 L993.0,898.2 L992.3,898.0 L991.6,897.9 L991.0,897.7 L990.7,897.4 L990.4,897.1 L990.2,896.8 L990.1,896.4 L989.9,896.1 L989.8,895.7 L989.7,895.4 L989.5,895.0 L989.4,894.6 L989.3,894.3 L989.2,893.9 L989.1,893.6 L989.0,893.2 L988.9,892.9 L988.8,892.5 L988.6,892.1 L988.5,891.8 L988.4,891.4 L988.3,891.1 L988.2,890.7 L988.2,890.3 L988.1,890.0 L988.1,889.6 L988.1,889.2 L988.3,888.8 L988.7,888.3 L989.2,887.7 L989.8,887.2 L990.4,886.7 L990.8,886.2 L991.0,885.8 L991.1,885.4 L991.2,885.0 L991.1,884.6 L991.1,884.3 L991.0,883.9 L990.9,883.6 L990.8,883.2 L990.7,882.9 L990.5,882.6 L990.2,882.3 L989.9,882.0 L989.3,881.8 L988.6,881.6 L987.8,881.4 L987.1,881.2 L986.5,881.0 L986.1,880.7 L985.8,880.4 L985.6,880.0 L985.5,879.7 L985.4,879.4 L985.3,879.0 L985.2,878.7 L985.1,878.3 L985.1,878.0 L985.0,877.6 L984.9,877.3 L984.8,876.9 L984.8,876.5 L984.7,876.2 L984.6,875.8 L984.6,875.5 L984.5,875.2 L984.5,874.8 L984.4,874.5 L984.4,874.1 L984.3,873.8 L984.3,873.4 L984.3,873.0 L984.4,872.7 L984.6,872.3 L985.0,871.9 L985.6,871.4 L986.3,871.0 L987.0,870.5 L987.6,870.1 L988.0,869.7 L988.2,869.3 L988.3,869.0 L988.4,868.6 L988.4,868.3 L988.4,867.9 L988.4,867.6 L988.3,867.3 L988.3,867.0 L988.1,866.6 L987.9,866.3 L987.6,866.0 L987.1,865.8 L986.5,865.5 L985.6,865.2 L984.8,865.0 L984.1,864.7 L983.6,864.4 L983.3,864.1 L983.1,863.8 L983.0,863.5 L983.0,863.1 L982.9,862.8 L982.9,862.5 L982.8,862.1 L982.8,861.8 L982.8,861.5 L982.8,861.1 L982.7,860.8 L982.7,860.5 L982.7,860.1 L982.7,859.8 L982.7,859.5 L982.6,859.1 L982.6,858.8 L982.6,858.5 L982.6,858.1 L982.6,857.8 L982.6,857.5 L982.7,857.1 L982.8,856.8 L983.0,856.5 L983.5,856.1 L984.1,855.8 L984.9,855.5 L985.8,855.1 L986.6,854.8 L987.1,854.5 L987.5,854.2 L987.8,853.9 L987.9,853.6 L988.0,853.3 L988.1,853.0 L988.1,852.7 L988.1,852.3 L988.1,852.0 L988.0,851.7 L987.8,851.4 L987.6,851.1 L987.2,850.8 L986.5,850.5 L985.7,850.2 L984.8,849.8 L984.0,849.5 L983.4,849.1 L983.0,848.8 L982.9,848.5 L982.8,848.2 L982.7,847.8 L982.7,847.5 L982.7,847.2 L982.7,846.9 L982.8,846.6 L982.8,846.3 L982.8,846.0 L982.8,845.7 L982.8,845.4 L982.9,845.1 L982.9,844.7 L982.9,844.4 L983.0,844.1 L983.0,843.8 L983.0,843.5 L983.1,843.2 L983.1,842.9 L983.2,842.6 L983.3,842.3 L983.4,842.0 L983.7,841.8 L984.1,841.5 L984.8,841.3 L985.7,841.1 L986.7,841.0 L987.7,840.8 L988.4,840.7 L988.9,840.5 L989.3,840.2 L989.5,840.0 L989.7,839.7 L989.8,839.5 L989.9,839.2 L990.0,839.0 L990.0,838.7 L990.0,838.4 L989.9,838.1 L989.7,837.8 L989.3,837.5 L988.8,837.1 L988.0,836.6 L987.1,836.2 L986.2,835.7 L985.5,835.2 L985.0,834.9 L984.8,834.5 L984.7,834.2 L984.7,833.9 L984.7,833.6 L984.8,833.3 L984.8,833.0 L984.9,832.8 L984.9,832.5 L985.0,832.2 L985.1,831.9 L985.2,831.7 L985.2,831.4 L985.3,831.1 L985.4,830.9 L985.4,830.6 L985.5,830.3 L985.6,830.0 L985.7,829.8 L985.8,829.5 L985.9,829.3 L986.0,829.0 L986.2,828.8 L986.5,828.6 L986.9,828.4 L987.5,828.3 L988.4,828.4 L989.6,828.4 L990.7,828.5 L991.6,828.6 L992.3,828.6 L992.8,828.5 L993.1,828.3 L993.3,828.2 L993.5,828.0 L993.6,827.8 L993.7,827.5 L993.8,827.3 L993.8,827.1 L993.8,826.8 L993.7,826.5 L993.4,826.1 L993.0,825.7 L992.3,825.1 L991.4,824.5 L990.4,823.8 L989.6,823.2 L989.1,822.7 L988.9,822.3 L988.8,822.0 L988.8,821.7 L988.8,821.4 L988.9,821.2 L989.0,820.9 L989.1,820.7 L989.2,820.4 L989.4,820.2 L989.5,820.0 L989.6,819.7 L989.7,819.5 L989.8,819.3 L989.9,819.1 L990.1,818.8 L990.2,818.6 L990.3,818.4 L990.4,818.1 L990.6,817.9 L990.7,817.7 L990.9,817.5 L991.1,817.3 L991.3,817.2 L991.7,817.1 L992.3,817.2 L993.2,817.4 L994.3,817.8 L995.4,818.2 L996.5,818.6 L997.2,818.8 L997.8,818.9 L998.2,818.9 L998.5,818.8 L998.7,818.7 L998.9,818.6 L999.0,818.4 L999.1,818.2 L999.2,818.0 L999.2,817.8 L999.2,817.5 L999.0,817.1 L998.7,816.6 L998.2,816.0 L997.4,815.2 L996.6,814.3 L995.8,813.4 L995.3,812.7 L995.0,812.2 L994.9,811.8 L994.9,811.5 L995.0,811.3 L995.1,811.1 L995.3,810.9 L995.4,810.7 L995.6,810.5 L995.7,810.3 L995.9,810.1 L996.0,809.9 L996.2,809.7 L996.3,809.5 L996.5,809.4 L996.7,809.2 L996.8,809.0 L997.0,808.8 L997.1,808.7 L997.3,808.5 L997.5,808.3 L997.7,808.2 L997.9,808.0 L998.2,808.0 L998.5,808.0 L999.0,808.1 L999.7,808.5 L1000.7,809.2 L1001.7,809.9 L1002.7,810.7 L1003.5,811.2 L1004.1,811.5 L1004.6,811.7 L1004.9,811.8 L1005.1,811.8 L1005.3,811.7 L1005.5,811.6 L1005.7,811.5 L1005.8,811.3 L1005.8,811.1 L1005.9,810.9 L1005.8,810.5 L1005.7,810.0 L1005.3,809.3 L1004.8,808.3 L1004.2,807.2 L1003.6,806.1 L1003.1,805.1 L1002.9,804.5 L1002.8,804.0 L1002.9,803.7 L1003.0,803.5 L1003.2,803.3 L1003.3,803.1 L1003.5,803.0 L1003.7,802.8 L1003.9,802.7 L1004.1,802.6 L1004.3,802.4 L1004.5,802.3 L1004.7,802.2 L1004.9,802.0 L1005.1,801.9 L1005.3,801.8 L1005.5,801.7 L1005.7,801.5 L1005.9,801.4 L1006.1,801.3 L1006.3,801.2 L1006.5,801.2 L1006.8,801.1 L1007.1,801.2 L1007.5,801.4 L1008.0,801.9 L1008.7,802.7 L1009.5,803.7 L1010.3,804.8 L1011.0,805.7 L1011.6,806.3 L1012.0,806.6 L1012.3,806.8 L1012.6,806.9 L1012.8,806.9 L1013.0,806.9 L1013.1,806.8 L1013.3,806.7 L1013.4,806.6 L1013.5,806.4 L1013.6,806.0 L1013.6,805.6 L1013.5,804.9 L1013.3,803.9 L1013.0,802.7 L1012.7,801.3 L1012.4,800.2 L1012.3,799.3 L1012.4,798.8 L1012.5,798.4 L1012.7,798.2 L1012.8,798.1 L1013.1,798.0 L1013.3,797.9 L1013.5,797.8 L1013.7,797.7 L1013.9,797.6 L1014.2,797.5 L1014.4,797.4 L1014.6,797.4 L1014.8,797.3 L1015.1,797.2 L1015.3,797.2 L1015.5,797.1 L1015.8,797.0 L1016.0,797.0 L1016.2,796.9 L1016.5,796.9 L1016.7,796.8 L1017.0,796.9 L1017.2,797.0 L1017.5,797.2 L1017.9,797.7 L1018.4,798.6 L1018.9,799.7 L1019.4,801.0 L1019.9,802.1 L1020.3,802.9 L1020.6,803.5 L1020.9,803.8 L1021.1,804.0 L1021.3,804.1 L1021.5,804.1 L1021.7,804.1 L1021.9,804.1 L1022.1,804.0 L1022.3,803.8 L1022.5,803.6 L1022.6,803.2 L1022.7,802.6 L1022.8,801.7 L1022.8,800.5 L1022.9,799.1 L1022.9,797.8 L1023.1,796.8 L1023.2,796.2 L1023.4,795.8 L1023.7,795.6 L1023.9,795.5 L1024.1,795.4 L1024.4,795.4 L1024.6,795.4 L1024.9,795.3 L1025.1,795.3 L1025.4,795.3 L1025.6,795.3 L1025.9,795.3 L1026.1,795.2 L1026.4,795.2 L1026.6,795.2 L1026.9,795.2 L1027.1,795.2 L1027.4,795.2 L1027.7,795.2 L1027.9,795.2 L1028.2,795.2 L1028.4,795.3 L1028.7,795.4 L1028.9,795.7 L1029.2,796.1 L1029.4,796.9 L1029.7,798.1 L1029.9,799.4 L1030.1,800.7 L1030.3,801.7 L1030.5,802.5 L1030.7,802.9 L1031.0,803.2 L1031.2,803.4 L1031.4,803.5 L1031.6,803.5 L1031.8,803.5 L1032.1,803.5 L1032.3,803.4 L1032.5,803.3 L1032.8,803.0 L1033.1,802.5 L1033.3,801.8 L1033.7,800.7 L1034.0,799.4 L1034.4,798.1 L1034.8,797.1 L1035.1,796.4 L1035.4,796.0 L1035.7,795.8 L1036.0,795.7 L1036.3,795.7 L1036.6,795.7 L1036.8,795.7 L1037.1,795.7 L1037.4,795.8 L1037.6,795.8 L1037.9,795.8 L1038.2,795.9 L1038.5,795.9 L1038.7,796.0 L1039.0,796.0 L1039.3,796.1 L1039.5,796.1 L1039.8,796.2 L1040.1,796.2 L1040.3,796.3 L1040.6,796.4 L1040.9,796.5 L1041.1,796.6 L1041.4,796.9 L1041.6,797.3 L1041.7,798.0 L1041.7,799.1 L1041.7,800.4 L1041.7,801.8 L1041.7,802.9 L1041.7,803.8 L1041.8,804.4 L1042.0,804.7 L1042.2,805.0 L1042.4,805.2 L1042.7,805.3 L1042.9,805.4 L1043.2,805.4 L1043.4,805.4 L1043.7,805.3 L1044.0,805.2 L1044.4,804.8 L1044.8,804.3 L1045.3,803.4 L1046.0,802.3 L1046.6,801.1 L1047.2,800.0 L1047.8,799.3 L1048.2,798.9 L1048.6,798.7 L1048.9,798.6 L1049.2,798.7 L1049.5,798.7 L1049.8,798.8 L1050.1,798.9 L1050.3,799.0 L1050.6,799.1 L1050.9,799.1 L1051.2,799.2 L1051.5,799.3 L1051.7,799.4 L1052.0,799.6 L1052.3,799.7 L1052.6,799.8 L1052.9,799.9 L1053.1,800.0 L1053.4,800.1 L1053.7,800.2 L1054.0,800.4 L1054.2,800.6 L1054.4,800.8 L1054.6,801.2 L1054.7,801.8 L1054.6,802.8 L1054.4,804.0 L1054.2,805.4 L1054.0,806.6 L1053.9,807.6 L1053.9,808.3 L1054.0,808.8 L1054.1,809.1 L1054.3,809.4 L1054.6,809.5 L1054.8,809.7 L1055.1,809.8 L1055.4,809.9 L1055.7,809.9 L1056.0,809.8 L1056.4,809.6 L1056.9,809.2 L1057.6,808.6 L1058.3,807.7 L1059.2,806.6 L1060.0,805.6 L1060.8,804.9 L1061.3,804.4 L1061.8,804.3 L1062.2,804.2 L1062.5,804.3 L1062.8,804.4 L1063.1,804.5 L1063.4,804.7 L1063.7,804.8 L1064.0,804.9 L1064.2,805.1 L1064.5,805.3 L1064.8,805.4 L1065.1,805.6 L1065.4,805.7 L1065.7,805.9 L1066.0,806.0 L1066.2,806.2 L1066.5,806.4 L1066.8,806.5 L1067.1,806.7 L1067.3,806.9 L1067.6,807.1 L1067.8,807.4 L1068.0,807.8 L1068.0,808.3 L1067.9,809.1 L1067.6,810.3 L1067.2,811.6 L1066.8,812.8 L1066.5,813.9 L1066.4,814.7 L1066.4,815.3 L1066.5,815.7 L1066.7,816.0 L1066.9,816.3 L1067.2,816.5 L1067.4,816.6 L1067.7,816.8 L1068.0,816.9 L1068.4,816.9 L1068.8,816.8 L1069.3,816.6 L1070.0,816.2 L1070.8,815.5 L1071.8,814.6 L1072.9,813.7 L1073.8,813.0 L1074.5,812.5 L1075.0,812.3 L1075.5,812.3 L1075.8,812.4 L1076.1,812.6 L1076.4,812.8 L1076.7,812.9 L1077.0,813.1 L1077.3,813.3 L1077.6,813.5 L1077.9,813.7 L1078.1,813.9 L1078.4,814.1 L1078.7,814.4 L1079.0,814.6 L1079.3,814.8 L1079.5,815.0 L1079.8,815.2 L1080.1,815.4 L1080.4,815.6 L1080.6,815.9 L1080.9,816.1 L1081.1,816.4 L1081.3,816.8 L1081.3,817.3 L1081.2,818.0 L1080.9,819.0 L1080.4,820.2 L1079.8,821.5 L1079.3,822.6 L1079.0,823.5 L1079.0,824.1 L1079.0,824.6 L1079.1,825.0 L1079.3,825.3 L1079.5,825.6 L1079.8,825.8 L1080.0,826.0 L1080.4,826.2 L1080.7,826.3 L1081.1,826.3 L1081.6,826.2 L1082.3,826.0 L1083.2,825.5 L1084.2,824.8 L1085.4,824.0 L1086.5,823.4 L1087.3,822.9 L1088.0,822.7 L1088.4,822.7 L1088.8,822.9 L1089.2,823.1 L1089.5,823.3 L1089.7,823.5 L1090.0,823.7 L1090.3,824.0 L1090.6,824.2 L1090.8,824.5 L1091.1,824.7 L1091.4,825.0 L1091.6,825.2 L1091.9,825.5 L1092.2,825.7 L1092.4,826.0 L1092.7,826.3 L1093.0,826.5 L1093.2,826.8 L1093.5,827.1 L1093.7,827.3 L1093.9,827.7 L1094.1,828.0 L1094.2,828.5 L1094.1,829.1 L1093.7,830.0 L1093.2,831.1 L1092.5,832.3 L1091.8,833.4 L1091.4,834.4 L1091.1,835.1 L1091.1,835.6 L1091.2,836.1 L1091.3,836.4 L1091.5,836.7 L1091.7,837.0 L1092.0,837.3 L1092.3,837.5 L1092.6,837.7 L1093.0,837.8 L1093.5,837.8 L1094.1,837.8 L1094.9,837.5 L1096.0,837.0 L1097.2,836.4 L1098.4,835.7 L1099.5,835.3 L1100.2,835.2 L1100.8,835.2 L1101.2,835.3 L1101.5,835.5 L1101.8,835.8 L1102.1,836.0 L1102.3,836.3 L1102.6,836.6 L1102.8,836.9 L1103.1,837.2 L1103.3,837.5 L1103.6,837.8 L1103.8,838.0 L1104.1,838.3 L1104.3,838.6 L1104.6,838.9 L1104.8,839.2 L1105.1,839.5 L1105.3,839.8 L1105.6,840.1 L1105.8,840.4 L1106.0,840.8 L1106.1,841.1 L1106.2,841.6 L1106.1,842.1 L1105.8,842.9 L1105.2,843.9 L1104.4,845.0 L1103.6,846.1 L1103.0,847.1 L1102.6,847.8 L1102.5,848.4 L1102.5,848.9 L1102.5,849.3 L1102.7,849.7 L1102.9,850.0 L1103.1,850.3 L1103.4,850.6 L1103.6,850.8 L1104.0,851.0 L1104.4,851.1 L1105.0,851.2 L1105.8,851.1 L1106.8,850.8 L1108.1,850.3 L1109.4,849.8 L1110.5,849.4 L1111.4,849.3 L1112.0,849.3 L1112.5,849.4 L1112.8,849.7 L1113.1,850.0 L1113.4,850.2 L1113.6,850.6 L1113.8,850.9 L1114.1,851.2 L1114.3,851.5 L1114.5,851.8 L1114.8,852.1 L1115.0,852.5 L1115.2,852.8 L1115.4,853.1 L1115.6,853.4 L1115.9,853.7 L1116.1,854.1 L1116.3,854.4 L1116.5,854.7 L1116.7,855.1 L1116.9,855.4 L1117.0,855.8 L1117.1,856.2 L1117.0,856.7 L1116.8,857.4 L1116.2,858.2 L1115.3,859.2 L1114.4,860.3 L1113.6,861.3 L1113.1,862.1 L1112.8,862.7 L1112.7,863.2 L1112.7,863.6 L1112.8,864.0 L1112.9,864.4 L1113.1,864.7 L1113.3,865.0 L1113.6,865.3 L1113.9,865.6 L1114.3,865.8 L1114.8,865.9 L1115.5,865.9 L1116.4,865.8 L1117.7,865.5 L1119.0,865.1 L1120.3,864.8 L1121.3,864.7 L1122.0,864.7 L1122.5,864.9 L1122.8,865.1 L1123.1,865.4 L1123.3,865.7 L1123.6,866.1 L1123.8,866.4 L1124.0,866.7 L1124.2,867.1 L1124.4,867.4 L1124.6,867.7 L1124.8,868.1 L1124.9,868.4 L1125.1,868.8 L1125.3,869.1 L1125.5,869.5 L1125.7,869.8 L1125.9,870.2 L1126.1,870.5 L1126.2,870.9 L1126.4,871.2 L1126.5,871.6 L1126.6,872.0 L1126.5,872.5 L1126.3,873.0 L1125.7,873.8 L1124.9,874.6 L1123.9,875.6 L1122.9,876.5 L1122.2,877.3 L1121.7,878.0 L1121.5,878.5 L1121.4,879.0 L1121.5,879.4 L1121.5,879.7 L1121.7,880.1 L1121.8,880.4 L1122.1,880.7 L1122.3,881.0 L1122.6,881.3 L1123.1,881.5 L1123.7,881.6 L1124.6,881.6 L1125.7,881.5 L1127.1,881.3 L1128.4,881.0 L1129.5,880.9 L1130.4,881.0 L1130.9,881.2 L1131.3,881.4 L1131.5,881.7 L1131.7,882.1 L1131.9,882.4 L1132.1,882.7 L1132.3,883.1 L1132.4,883.4 L1132.6,883.8 L1132.7,884.2 L1132.9,884.5 L1133.0,884.9 L1133.2,885.2 L1133.4,885.6 L1133.5,885.9 L1133.7,886.3 L1133.8,886.6 L1133.9,887.0 L1134.1,887.4 L1134.2,887.7 L1134.3,888.1 L1134.3,888.5 L1134.3,888.9 L1134.1,889.4 L1133.6,890.0 L1132.8,890.8 L1131.7,891.6 L1130.6,892.4 L1129.7,893.2 L1129.1,893.8 L1128.7,894.4 L1128.5,894.8 L1128.5,895.2 L1128.5,895.6 L1128.6,896.0 L1128.7,896.3 L1128.8,896.6 L1129.1,897.0 L1129.3,897.2 L1129.7,897.5 L1130.2,897.7 L1131.0,897.8 L1132.0,897.8 L1133.3,897.8 L1134.7,897.7 L1135.9,897.6 L1136.9,897.7 L1137.5,897.9 L1137.9,898.2 L1138.1,898.5 L1138.3,898.8 L1138.5,899.1 L1138.6,899.5 L1138.7,899.9 L1138.8,900.2 L1139.0,900.6 L1139.1,900.9 L1139.2,901.3 L1139.3,901.6 L1139.4,902.0 L1139.5,902.3 L1139.6,902.7 L1139.7,903.1 L1139.9,903.4 L1140.0,903.8 L1140.0,904.1 L1140.1,904.5 L1140.2,904.9 L1140.2,905.3 L1140.2,905.7 L1140.0,906.1 L1139.5,906.6 L1138.8,907.2 L1137.7,907.9 L1136.5,908.6 L1135.4,909.2 L1134.6,909.8 L1134.1,910.3 L1133.8,910.8 L1133.6,911.2 L1133.6,911.5 L1133.6,911.9 L1133.7,912.2 L1133.8,912.6 L1133.9,912.9 L1134.1,913.2 L1134.4,913.5 L1134.8,913.7 L1135.5,913.9 L1136.4,914.1 L1137.6,914.1 L1139.0,914.2 L1140.3,914.2 L1141.3,914.4 L1142.0,914.6 L1142.4,914.9 L1142.7,915.2 L1142.9,915.5 L1143.0,915.9 L1143.1,916.2 L1143.2,916.5 L1143.3,916.9 L1143.3,917.2 L1143.4,917.6 L1143.5,918.0 L1143.5,918.3 L1143.6,918.7 L1143.7,919.0 L1143.7,919.4 L1143.8,919.7 L1143.9,920.0 L1143.9,920.4 L1144.0,920.7 L1144.0,921.1 L1144.1,921.5 L1144.0,921.8 L1144.0,922.2 L1143.8,922.6 L1143.4,923.0 L1142.7,923.4 L1141.6,924.0 L1140.4,924.5 L1139.1,925.0 L1138.2,925.5 L1137.5,925.9 L1137.1,926.3 L1136.8,926.7 L1136.7,927.0 L1136.7,927.4 L1136.7,927.7 L1136.7,928.0 L1136.8,928.3 L1136.9,928.6 L1137.1,928.9 L1137.5,929.2 L1138.0,929.5 L1138.7,929.7 L1139.8,929.9 L1141.2,930.1 L1142.5,930.3 L1143.7,930.5 L1144.4,930.8 L1144.9,931.1 L1145.2,931.4 L1145.3,931.7 L1145.4,932.1 L1145.5,932.4 L1145.5,932.7 L1145.6,933.1 L1145.6,933.4 L1145.6,933.7 L1145.6,934.1 L1145.7,934.4 L1145.7,934.7 L1145.7,935.1 L1145.7,935.4 L1145.7,935.7 L1145.8,936.1 L1145.8,936.4 L1145.8,936.7 L1145.8,937.1 L1145.8,937.4 L1145.7,937.7 L1145.6,938.1 L1145.4,938.4 L1145.1,938.7 L1144.5,939.1 L1143.5,939.4 L1142.2,939.8 L1140.9,940.1 L1139.7,940.4 L1138.9,940.7 L1138.3,941.0 L1138.0,941.3 L1137.8,941.6 L1137.7,941.9 L1137.6,942.2 L1137.6,942.5 L1137.6,942.8 L1137.7,943.1 L1137.8,943.4 L1138.0,943.7 L1138.4,944.0 L1139.1,944.3 L1140.0,944.7 L1141.2,945.0 L1142.6,945.3 L1143.8,945.7 L1144.6,946.1 L1145.2,946.4 L1145.4,946.7 L1145.6,947.0 L1145.6,947.4 L1145.7,947.7 L1145.7,948.0 L1145.7,948.3 L1145.6,948.6 L1145.6,948.9 L1145.6,949.2 L1145.6,949.5 L1145.6,949.8 L1145.5,950.1 L1145.5,950.5 L1145.5,950.8 L1145.4,951.1 L1145.4,951.4 L1145.4,951.7 L1145.3,952.0 L1145.3,952.3 L1145.2,952.6 L1145.1,952.9 L1144.9,953.1 L1144.6,953.4 L1144.0,953.6 L1143.1,953.8 L1141.9,953.9 L1140.5,954.0 L1139.2,954.1 L1138.3,954.3 L1137.6,954.5 L1137.1,954.7 L1136.8,954.9 L1136.6,955.1 L1136.5,955.4 L1136.4,955.6 L1136.4,955.9 L1136.4,956.2 L1136.5,956.4 L1136.6,956.7 L1136.9,957.1 L1137.4,957.4 L1138.2,957.8 L1139.2,958.3 L1140.5,958.9 L1141.7,959.4 L1142.6,959.9 L1143.2,960.3 L1143.5,960.7 L1143.6,961.0 L1143.7,961.3 L1143.7,961.6 L1143.6,961.9 L1143.6,962.1 L1143.5,962.4 L1143.5,962.7 L1143.4,963.0 L1143.3,963.3 L1143.2,963.5 L1143.2,963.8 L1143.1,964.1 L1143.0,964.3 L1142.9,964.6 L1142.9,964.9 L1142.8,965.2 L1142.7,965.4 L1142.6,965.7 L1142.5,965.9 L1142.4,966.2 L1142.2,966.4 L1141.9,966.6 L1141.4,966.7 L1140.6,966.8 L1139.5,966.7 L1138.1,966.5 L1136.8,966.3 L1135.7,966.2 L1134.9,966.2 L1134.4,966.3 L1134.0,966.4 L1133.8,966.6 L1133.6,966.7 L1133.5,966.9 L1133.4,967.2 L1133.3,967.4 L1133.3,967.6 L1133.4,967.9 L1133.6,968.2 L1133.9,968.6 L1134.5,969.1 L1135.3,969.7 L1136.4,970.5 L1137.6,971.2 L1138.5,971.9 L1139.1,972.4 L1139.4,972.9 L1139.6,973.2 L1139.6,973.5 L1139.5,973.8 L1139.5,974.0 L1139.4,974.3 L1139.3,974.5 L1139.2,974.7 L1139.0,975.0 L1138.9,975.2 L1138.8,975.5 L1138.7,975.7 L1138.6,975.9 L1138.5,976.1 L1138.3,976.4 L1138.2,976.6 L1138.1,976.8 L1138.0,977.1 L1137.8,977.3 L1137.7,977.5 L1137.5,977.7 L1137.3,977.9 L1137.0,978.0 L1136.6,978.0 L1136.0,977.9 L1135.0,977.7 L1133.8,977.2 L1132.5,976.7 L1131.4,976.3 L1130.5,976.0 L1129.9,975.9 L1129.5,975.9 L1129.2,975.9 L1129.0,976.1 L1128.8,976.2 L1128.7,976.4 L1128.6,976.5 L1128.6,976.7 L1128.6,977.0 L1128.6,977.3 L1128.8,977.7 L1129.2,978.2 L1129.8,978.9 L1130.7,979.8 L1131.6,980.8 L1132.5,981.7 L1133.1,982.4 L1133.4,983.0 L1133.5,983.4 L1133.5,983.7 L1133.4,983.9 L1133.3,984.1 L1133.1,984.3 L1133.0,984.5 L1132.8,984.7 L1132.7,984.9 L1132.5,985.1 L1132.4,985.3 L1132.2,985.5 L1132.1,985.7 L1131.9,985.8 L1131.7,986.0 L1131.6,986.2 L1131.4,986.4 L1131.3,986.5 L1131.1,986.7 L1130.9,986.9 L1130.7,987.0 L1130.5,987.1 L1130.2,987.2 L1129.9,987.2 L1129.3,987.0 L1128.6,986.6 L1127.6,985.9 L1126.5,985.1 L1125.5,984.4 L1124.7,983.8 L1124.0,983.4 L1123.6,983.2 L1123.3,983.2 L1123.0,983.2 L1122.8,983.3 L1122.7,983.4 L1122.5,983.5 L1122.4,983.6 L1122.4,983.9 L1122.3,984.1 L1122.4,984.5 L1122.6,985.0 L1122.9,985.7 L1123.5,986.7 L1124.1,987.9 L1124.8,989.1 L1125.3,990.0 L1125.5,990.7 L1125.6,991.2 L1125.5,991.5 L1125.4,991.7 L1125.2,991.9 L1125.1,992.1 L1124.9,992.2 L1124.7,992.4 L1124.5,992.5 L1124.3,992.6 L1124.1,992.8 L1123.9,992.9 L1123.7,993.0 L1123.5,993.2 L1123.3,993.3 L1123.1,993.4 L1122.9,993.5 L1122.7,993.7 L1122.5,993.8 L1122.3,993.9Z"/>
<ellipse class="t" cx="1018.6" cy="851.5" rx="24.6" ry="14.2" transform="rotate(70 1018.6 851.5)"/>
<ellipse class="of" style="stroke-width:1.9" cx="1024.1" cy="850.3" rx="24.3" ry="13.7" transform="rotate(70 1024.1 850.3)"/>
<ellipse class="t" cx="1059.1" cy="847.9" rx="24.6" ry="14.2" transform="rotate(70 1059.1 847.9)"/>
<ellipse class="of" style="stroke-width:1.9" cx="1064.6" cy="846.7" rx="24.3" ry="13.7" transform="rotate(70 1064.6 846.7)"/>
<ellipse class="t" cx="1099.0" cy="898.3" rx="24.6" ry="14.2" transform="rotate(70 1099.0 898.3)"/>
<ellipse class="of" style="stroke-width:1.9" cx="1104.5" cy="897.1" rx="24.3" ry="13.7" transform="rotate(70 1104.5 897.1)"/>
<ellipse class="t" cx="1099.0" cy="952.0" rx="24.6" ry="14.2" transform="rotate(70 1099.0 952.0)"/>
<ellipse class="of" style="stroke-width:1.9" cx="1104.5" cy="950.8" rx="24.3" ry="13.7" transform="rotate(70 1104.5 950.8)"/>
<ellipse class="t" cx="1059.1" cy="956.5" rx="24.6" ry="14.2" transform="rotate(70 1059.1 956.5)"/>
<ellipse class="of" style="stroke-width:1.9" cx="1064.6" cy="955.3" rx="24.3" ry="13.7" transform="rotate(70 1064.6 955.3)"/>
<ellipse class="t" cx="1018.9" cy="904.0" rx="24.6" ry="14.2" transform="rotate(70 1018.9 904.0)"/>
<ellipse class="of" style="stroke-width:1.9" cx="1024.4" cy="902.8" rx="24.3" ry="13.7" transform="rotate(70 1024.4 902.8)"/>
<path class="tf" d="M1048.6,891.2 C1048.6,886.8 1051.7,884.6 1055.2,885.4 L1069.5,895.3 C1073.0,898.3 1074.3,902.8 1073.9,908.1 L1073.2,917.0 L1066.8,915.6 L1052.5,904.6 C1049.9,902.4 1048.6,898.3 1048.6,891.2Z"/>
<path class="o" style="stroke-width:1.9" d="M1055.2,885.4 L1069.5,895.3 C1073.0,898.3 1074.3,902.8 1073.9,908.1 L1073.2,917.0 M1055.2,885.4 C1052.9,890.3 1053.4,895.7 1057.0,899.6 M1057.0,904.6 L1067.7,912.6 L1073.2,917.0"/>
</g>

<!-- washer 11 : zoom W (860,880) 13.32x -->
<g transform="translate(860,880) scale(0.07508)">
<ellipse class="of" cx="1435" cy="1012" rx="235" ry="345" transform="rotate(-25 1435 1012)" style="stroke-width:2.2"/>
<path class="t" d="M1350,715 C1480,760 1600,900 1650,1080 C1670,1160 1670,1240 1650,1300"/>
<ellipse class="of" cx="1412" cy="1020" rx="85" ry="138" transform="rotate(-25 1412 1020)" style="stroke-width:2.2"/>
<path class="o" d="M1350,920 C1340,1000 1370,1080 1440,1120"/>
<path class="t" d="M1380,1100 C1420,1140 1460,1150 1490,1140"/>
</g>
<!-- bolt 7 : zoom (860,945) 16.64x -->
<g transform="translate(860,945) scale(0.06009)">
<!-- shaft -->
<path class="of" d="M730,590 L1150,360 C1250,345 1345,480 1330,640 L900,880Z" style="stroke-width:2.2"/>
<path class="t" d="M830,590 C920,640 965,740 960,840 M925,535 C1015,585 1060,690 1050,790 M1020,485 C1110,535 1150,640 1145,740 M1110,435 C1200,485 1245,585 1240,690"/>
<!-- flange -->
<ellipse class="of" cx="635" cy="850" rx="205" ry="330" transform="rotate(-32 635 850)" style="stroke-width:2.2"/>
<path class="m" d="M600,570 C720,620 830,780 850,960 C855,1010 850,1050 840,1080"/>
<path class="t" d="M580,590 C700,640 800,790 825,960"/>
<!-- hex head -->
<path class="of" d="M300,840 L390,700 L505,640 L695,745 L780,960 L740,1010 L570,1170 L350,1050Z" style="stroke-width:2.2"/>
<path class="m" d="M505,640 L400,745 L300,840 M400,745 C480,770 560,830 610,960 L570,1170 M610,960 L780,960 M695,745 L600,790"/>
<ellipse class="o" cx="478" cy="945" rx="115" ry="160" transform="rotate(-28 478 945)" style="stroke-width:2"/>
<path class="t" d="M330,880 L350,1040 M560,1100 L740,1010"/>
</g>

<!-- pump Q1 : zoom (1320,340) 6.66x -->
<clipPath id="cq1"><rect x="0" y="0" width="1998" height="1205"/></clipPath>
<g transform="translate(1320,340) scale(0.15015)" clip-path="url(#cq1)">
<!-- lug2 + hole -->
<path class="o" d="M1520,700 L1525,510 C1540,470 1590,440 1660,435 M1700,432 C1730,430 1760,440 1790,455"/>
<path class="o" d="M1510,530 C1470,550 1445,590 1448,640 C1450,670 1465,695 1480,705 L1510,700"/>
<path class="o" d="M1425,725 L1510,705 M1520,640 C1540,650 1560,620 1562,590"/>
<path class="t" d="M1490,630 L1495,690 M1470,640 L1475,690"/>
<path class="t" d="M1575,515 C1585,475 1630,462 1665,462 M1700,465 C1730,470 1750,490 1752,520"/>
<path class="o" d="M1572,520 C1580,555 1620,575 1665,575 M1700,572 C1730,565 1750,545 1752,520"/>
<path class="o" d="M1710,410 C1730,398 1765,410 1785,432 L1790,455"/>
<path class="t" d="M1740,420 L1790,460 L1998,350 M1790,432 L1880,385"/>
<path class="o" d="M1800,430 L1880,380 C1920,370 1960,380 1998,362"/>
<!-- port A -->
<path class="of" d="M1018,760 L1020,870 C1025,900 1035,930 1050,948 L1090,950 C1150,930 1230,925 1285,930 C1295,950 1310,965 1335,968 C1380,970 1430,940 1445,895 C1455,860 1450,820 1425,790 L1410,760Z" style="stroke:none"/>
<path class="o" d="M1018,760 L1020,870 C1025,900 1035,930 1050,948"/>
<path class="t" d="M1040,900 C1100,925 1200,928 1285,928 C1295,950 1310,965 1335,968 C1380,970 1430,940 1445,895 C1455,860 1450,820 1425,790"/>
<path class="o" d="M1030,948 L1085,950 M1040,880 L1075,920"/>
<ellipse class="of" cx="1215" cy="755" rx="200" ry="118"/>
<ellipse class="t" cx="1218" cy="765" rx="152" ry="88"/>
<ellipse class="t" cx="1218" cy="772" rx="142" ry="80"/>
<ellipse cx="1222" cy="790" rx="130" ry="63" fill="#3a3a3a" stroke="#111" stroke-width="1"/>
<!-- frame1 -->
<path class="o" d="M350,1345 L450,1270 L640,1150"/>
<path class="o" d="M630,1140 L630,1030 C640,980 700,945 770,940 C820,940 860,960 880,975 C910,985 950,965 990,955 C1040,945 1100,950 1150,970 L1660,1260"/>
<path class="o" d="M630,1140 C650,1150 680,1125 690,1100"/>
<path class="o" d="M650,1150 L770,1215 C770,1250 780,1290 800,1310 L850,1345"/>
<ellipse class="o" cx="775" cy="1030" rx="70" ry="40"/>
<path class="t" d="M540,1345 L1050,1055 C1065,1048 1080,1048 1095,1056 L1500,1290"/>
<path class="o" d="M1200,1160 L1520,1300 L1500,1345"/>
<path class="o" d="M1250,1345 C1300,1320 1400,1325 1460,1345"/>
<!-- frame2 lower-left edges -->
<path class="t" d="M1540,700 C1560,740 1600,770 1660,795 M1700,820 L1998,990"/>
<path class="o" d="M1710,672 L1998,850"/>
<path class="t" d="M1710,668 L1998,500"/>
</g>

<!-- pump Q3 : zoom (1320,520) 6.66x -->
<clipPath id="cq3"><rect x="0" y="0" width="1900" height="1200"/></clipPath>
<g transform="translate(1320,520) scale(0.15015)" clip-path="url(#cq3)">
<path class="o" d="M560,0 L420,75 C380,95 355,130 355,170 C355,210 370,240 390,260 C405,275 408,300 400,320 L300,385"/>
<path class="t" d="M360,200 C400,240 500,290 860,500 C920,530 1000,530 1090,500 L1660,180"/>
<path class="o" d="M535,170 L935,410 C960,425 990,425 1015,412 L1510,125 C1525,115 1525,100 1510,90"/>
<path class="o" d="M1270,0 L1480,110"/>
<path class="t" d="M1350,0 L1520,95"/>
<path class="t" d="M535,170 C530,155 540,142 560,132 L760,20"/>
<path class="o" d="M770,0 C770,40 790,80 830,120 C880,170 915,230 918,300 C918,320 910,335 900,345"/>
<path class="t" d="M930,330 L1390,85"/>
<path class="o" d="M1075,245 L1290,130 C1330,115 1400,125 1460,135"/>
<path class="t" d="M920,335 C960,320 1040,320 1100,345"/>
<!-- body under frame -->
<path class="o" d="M1250,290 L1355,350 C1375,400 1400,440 1475,490"/>
<path class="t" d="M1140,485 C1160,540 1200,590 1250,610 M1185,620 L1210,638"/>
<path class="o" d="M965,775 L1540,465 L1650,400"/>
<path class="o" d="M1465,370 L1545,460"/>
<path class="o" d="M1550,465 C1600,500 1640,560 1660,640"/>
<path class="o" d="M1710,400 C1760,420 1800,470 1810,540 L1815,600"/>
<path class="t" d="M1700,690 L1830,630 L1835,600 M1700,740 L1850,660 M1830,530 L1880,570 L1860,640 L1870,830"/>
<path class="o" d="M1870,480 L1950,430"/>
<path class="o" d="M1710,130 C1720,160 1740,180 1770,185 L1998,215"/>
<path class="o" d="M1550,-8 L1665,58"/>
<path class="k" d="M1698,120 L1745,178 L1700,160Z"/>
<path class="t" d="M1705,345 L1765,370"/>
<!-- cover left -->
<path class="o" d="M300,385 C250,395 180,440 130,480"/>
<ellipse class="of" cx="215" cy="600" rx="92" ry="118" transform="rotate(-28 215 600)" style="stroke-width:2.2"/>
<ellipse class="t" cx="198" cy="610" rx="68" ry="90" transform="rotate(-28 198 610)"/>
<path class="o" d="M150,580 C165,570 180,575 185,590 C200,590 210,600 205,615 C215,625 210,640 195,645 C190,660 175,660 168,650 C155,650 145,640 150,625 C140,610 140,590 150,580Z" style="stroke-width:1.5"/>
<path class="o" d="M320,400 C340,420 350,438 380,430 C420,420 470,425 500,450 C530,475 540,510 580,535 C600,548 630,550 650,560 C760,610 880,700 960,780"/>
<path class="o" d="M330,640 C450,630 600,650 720,730 C800,780 860,840 890,880"/>
<path class="o" d="M535,365 C580,385 620,420 625,450 L610,470"/>
<path class="o" d="M125,630 C95,640 80,670 85,710 C95,770 150,810 210,815 C240,815 260,805 270,795"/>
<path class="o" d="M320,690 L330,720 C330,760 310,830 280,890"/>
<path class="o" d="M130,800 C115,900 120,1000 160,1150 L195,1240"/>
<path class="t" d="M155,900 C150,1000 170,1120 210,1230 M175,910 C172,1000 190,1100 215,1200"/>
<path class="o" d="M330,780 C320,850 320,950 310,1050 C300,1100 290,1140 280,1180"/>
<path class="o" d="M600,720 C570,760 565,820 575,870 L595,950"/>
<path class="o" d="M585,1165 L820,1000"/>
<path class="o" d="M200,1232 L370,1140 M400,1135 L412,1135 M440,1145 C500,1180 540,1260 555,1345"/>
<path class="o" d="M125,1235 C115,1270 130,1310 150,1345 M180,1290 C230,1270 300,1280 350,1310 L380,1345"/>
<path class="t" d="M510,930 L515,945 M512,960 L518,975"/>
<!-- bolt 2 -->
<path class="o" d="M1040,750 C1100,760 1150,820 1170,890 L1175,940 C1200,980 1200,1000 1230,1020 C1260,1040 1270,1080 1275,1120 L1280,1230 C1300,1260 1350,1290 1400,1310 L1470,1345"/>
<ellipse class="of" cx="985" cy="935" rx="96" ry="128" transform="rotate(-28 985 935)" style="stroke-width:2.2"/>
<ellipse class="t" cx="968" cy="946" rx="70" ry="95" transform="rotate(-28 968 946)"/>
<path class="o" d="M925,920 C940,910 955,915 960,930 C975,930 985,940 980,955 C990,965 985,980 970,985 C965,1000 950,1000 943,990 C930,990 920,980 925,965 C915,950 915,930 925,920Z" style="stroke-width:1.5"/>
<path class="o" d="M990,1065 C950,1100 930,1200 925,1345"/>
<path class="o" d="M1050,1060 C1080,1100 1090,1160 1100,1200 C1120,1260 1150,1300 1160,1345"/>
<path class="t" d="M1110,1190 L1145,1240"/>
<!-- relief valve boss -->
<path class="of" d="M1490,990 C1500,920 1580,880 1660,880 C1740,880 1820,920 1830,990 L1835,1100 L1885,1040 L1895,1345 L1450,1345 L1445,1075 L1495,1080Z" style="stroke:none"/>
<path class="o" d="M1490,990 C1500,920 1580,880 1650,880 M1700,882 C1760,890 1820,930 1830,990"/>
<path class="o" d="M1530,990 C1560,1040 1620,1060 1680,1060 C1740,1055 1790,1030 1810,990"/>
<path class="o" d="M1490,990 L1495,1080 M1830,990 L1835,1100"/>
<path class="t" d="M1445,1070 C1440,1130 1500,1190 1660,1200 C1780,1200 1850,1160 1870,1100 M1450,1150 C1480,1230 1560,1270 1670,1275 C1770,1275 1850,1240 1880,1180 M1500,1075 C1540,1140 1620,1160 1700,1155 C1760,1150 1810,1130 1835,1095"/>
<path class="o" d="M1445,1075 L1450,1160 M1885,1040 L1895,1345"/>
<path class="o" d="M1780,890 L1880,835 C1920,825 1960,840 1998,870"/>
<path class="o" d="M1700,780 L1725,870"/>
<path class="t" d="M1410,790 C1410,830 1420,870 1450,920 L1530,900 M1440,920 L1460,1020"/>
</g>

<!-- pump Q2 : zoom (1560,340) 6.66x -->
<clipPath id="cq2"><rect x="0" y="0" width="1998" height="1200"/></clipPath>
<g transform="translate(1560,340) scale(0.15015)" clip-path="url(#cq2)">
<path class="o" d="M200,430 L280,380 C300,372 330,380 350,385 C400,370 440,340 480,310 C540,275 600,265 660,270 C700,275 740,290 780,310 L1200,560 C1250,590 1265,630 1260,670 C1255,700 1240,720 1210,740 L1080,820 C1050,840 1050,870 1070,890 L1100,920"/>
<path class="o" d="M290,410 L405,490"/>
<path class="t" d="M110,690 C105,680 110,670 125,660 L610,380 C630,372 650,372 670,382 L1080,615 C1095,625 1095,640 1080,650"/>
<path class="o" d="M110,695 L520,935 C545,948 565,945 590,932 L1085,648"/>
<path class="o" d="M405,490 C400,530 410,560 440,590 C490,640 525,720 525,800 L520,840"/>
<path class="o" d="M445,890 L525,840 C570,815 640,815 700,835 L735,848"/>
<path class="o" d="M640,800 L700,830" style="stroke-width:4"/>
<path class="o" d="M885,770 L1000,835 C990,870 1000,910 1040,950"/>
<path class="t" d="M100,825 L470,1030 C520,1050 620,1050 680,1020 L1240,690"/>
<path class="o" d="M1100,930 L940,1015 C920,1030 910,1060 905,1085"/>
<path class="t" d="M875,1030 L905,1050"/>
<path class="o" d="M1100,930 C1130,900 1170,880 1210,878 C1250,880 1290,930 1320,990 L1345,1050"/>
<path class="o" d="M1130,935 C1170,960 1210,1010 1240,1060 C1270,1090 1310,1080 1345,1055 C1400,1090 1450,1180 1480,1280 L1485,1345"/>
<path class="o" d="M1180,900 C1230,920 1280,980 1310,1040"/>
<path class="o" d="M1250,1070 C1300,1100 1380,1200 1410,1345"/>
<path class="t" d="M1325,1225 L1345,1270"/>
<ellipse class="o" cx="985" cy="1155" rx="30" ry="50" transform="rotate(-25 985 1155)"/>
<ellipse class="t" cx="978" cy="1158" rx="18" ry="36" transform="rotate(-25 978 1158)"/>
<path class="o" d="M655,1110 L770,1345"/>
<path class="o" d="M830,1345 L990,1255"/>
<path class="t" d="M460,1232 L510,1245 M412,1300 L420,1305 M35,848 L45,843 M608,1062 L614,1070"/>
<path class="o" d="M100,1270 L130,1290"/>
</g>

<!-- pump Q4 : zoom (1560,520) 6.66x -->
<g transform="translate(1560,520) scale(0.15015)">
<path class="o" d="M295,202 L398,215 C480,225 560,230 620,200 C650,185 670,170 680,155"/>
<path class="o" d="M690,0 L780,168 L990,62"/>
<path class="o" d="M945,250 L950,600 C940,640 900,665 850,668"/>
<ellipse class="of" cx="805" cy="252" rx="140" ry="77"/>
<ellipse class="o" cx="805" cy="258" rx="95" ry="50"/>
<path class="t" d="M680,290 C720,330 850,345 920,310"/>
<path class="o" d="M955,410 L1230,255"/>
<path class="o" d="M1295,270 L1400,215"/>
<path class="t" d="M1260,185 L1350,175 M1300,150 L1310,190"/>
<path class="o" d="M1380,0 C1400,50 1420,100 1420,150 L1400,215"/>
<path class="o" d="M1440,0 C1470,50 1485,100 1480,150 L1460,210 C1470,280 1480,340 1485,380 L1440,425 L1390,400"/>
<path class="t" d="M1400,215 L1440,400 M1420,210 L1450,330"/>
<path class="o" d="M1340,270 L1360,400"/>
<path class="o" d="M1400,420 C1400,480 1380,560 1340,620 L1290,700"/>
<path class="o" d="M1340,270 C1330,400 1310,550 1275,690 L1268,945"/>
<path class="o" d="M1295,720 C1340,760 1365,820 1360,870 C1355,900 1340,920 1320,935"/>
<path class="t" d="M1300,740 C1330,790 1345,840 1335,900"/>
<path class="o" d="M1330,930 L1100,1060 C1060,1075 1020,1065 990,1040 C950,1000 940,950 910,900"/>
<ellipse class="o" cx="995" cy="965" rx="28" ry="48" transform="rotate(-30 995 965)"/>
<ellipse class="t" cx="990" cy="968" rx="16" ry="34" transform="rotate(-30 990 968)"/>
<!-- port B -->
<path class="t" d="M320,530 C350,480 420,450 500,450 C540,450 560,470 600,490 L700,530 C740,555 780,570 820,575 L850,600"/>
<path class="o" d="M305,625 L310,560"/>
<ellipse class="of" cx="505" cy="600" rx="195" ry="106"/>
<ellipse class="t" cx="507" cy="606" rx="152" ry="82"/>
<ellipse class="t" cx="507" cy="612" rx="142" ry="74"/>
<ellipse cx="508" cy="622" rx="130" ry="62" fill="#3a3a3a" stroke="#111" stroke-width="1"/>
<path class="o" d="M850,600 C830,595 810,600 800,615 C790,630 800,650 820,660 L870,690 C880,720 875,760 860,800 C840,870 790,930 720,960"/>
<path class="t" d="M850,600 L855,670"/>
<ellipse class="o" cx="765" cy="825" rx="45" ry="72" transform="rotate(20 765 825)"/>
<ellipse class="o" cx="765" cy="828" rx="22" ry="38" transform="rotate(20 765 828)" style="stroke-width:1.5"/>
<path class="o" d="M195,895 L300,840 C320,835 330,850 345,865 C380,900 450,920 560,915 L600,935 C640,960 700,975 750,960 L940,870"/>
<path class="t" d="M380,900 C420,940 520,945 600,935 M650,990 C700,1000 740,985 770,965"/>
<path class="t" d="M240,580 L265,820 M230,520 L290,560 L300,620 M235,545 L280,580"/>
<path class="o" d="M260,490 L350,430"/>
<path class="o" d="M440,945 C430,1050 400,1150 300,1240"/>
<path class="o" d="M420,1100 L450,1080"/>
<path class="o" d="M640,985 L630,1345 M380,1190 L385,1345"/>
<path class="t" d="M650,690 L670,710"/>
</g>

<!-- pump Q5 : zoom (1320,700) 6.66x -->
<g transform="translate(1320,700) scale(0.15015)">
<path class="o" d="M120,20 C115,60 130,130 170,215"/>
<path class="o" d="M200,0 L165,90"/>
<path class="t" d="M185,60 L250,30 L400,150 L395,170"/>
<path class="o" d="M300,70 C350,100 400,170 405,240 C405,270 395,295 380,310"/>
<ellipse class="of" cx="290" cy="200" rx="55" ry="88" transform="rotate(-22 290 200)"/>
<path class="o" d="M330,140 C360,180 365,240 350,290"/>
<ellipse class="of" cx="238" cy="192" rx="38" ry="60" transform="rotate(-22 238 192)" style="stroke-width:2.2"/>
<path class="o" d="M205,270 C230,310 290,330 340,325 C360,322 375,315 385,305"/>
<path class="o" d="M490,0 C540,50 565,110 570,170"/>
<path class="o" d="M545,205 L565,195"/>
<path class="o" d="M205,275 C215,320 250,380 300,440 C350,500 420,580 470,640 C490,670 520,690 570,695 C600,700 620,705 640,710"/>
<path class="o" d="M430,290 C470,285 520,280 560,265 L700,195 L725,195 L905,320 C940,340 975,390 1010,415 L1300,610"/>
<path class="o" d="M440,300 C480,360 540,420 600,460 L625,490 L650,585"/>
<path class="o" d="M580,290 L615,450"/>
<path class="t" d="M270,340 L320,420 M445,575 L500,615"/>
<path class="t" d="M650,385 C670,345 690,322 720,310" style="stroke-dasharray:9 5"/>
<path class="o" d="M670,510 C700,525 730,525 755,515"/>
<path class="o" d="M930,0 C915,80 915,200 920,290"/>
<path class="o" d="M1100,0 C1120,40 1140,70 1150,100 L1330,580"/>
<path class="o" d="M1215,145 L1385,240 L1300,325"/>
<path class="o" d="M1410,315 L1435,320 L1430,480 C1425,520 1415,560 1400,585"/>
<path class="o" d="M1270,0 C1280,30 1300,50 1330,70 C1400,110 1480,150 1520,190 C1550,230 1560,300 1550,400 C1545,480 1530,540 1525,580 C1540,620 1570,660 1590,700 L1590,730"/>
<path class="o" d="M1880,0 L1890,200 C1870,280 1820,330 1760,400 C1770,440 1820,480 1840,540 C1850,580 1840,610 1820,630 L1740,690"/>
<path class="o" d="M1980,0 L1985,270 L1998,290"/>
<path class="t" d="M1452,0 C1500,50 1580,75 1670,75 C1770,75 1850,40 1880,0 M1540,0 C1600,20 1740,20 1815,0"/>
<path class="o" d="M1820,270 C1800,320 1780,360 1760,400"/>
<!-- hex fitting -->
<path class="of" d="M1330,860 C1320,900 1325,950 1340,985 C1345,1010 1350,1040 1345,1060 L1380,1110 L1600,1140 L1765,1060 L1755,1000 L1745,700 L1740,690 L1490,830Z"/>
<path class="o" d="M1350,990 C1380,1000 1430,1005 1470,1000 L1720,880"/>
<path class="o" d="M1545,810 C1560,850 1565,900 1550,950 M1555,955 L1720,870"/>
<path class="t" d="M1710,700 L1725,880 M1380,1075 L1600,1100 L1760,1020 M1600,1100 L1600,1140"/>
<!-- bolts -->
<path class="o" d="M600,700 C680,700 760,780 790,880"/>
<ellipse class="of" cx="670" cy="850" rx="96" ry="130" transform="rotate(-28 670 850)" style="stroke-width:2.2"/>
<ellipse class="t" cx="655" cy="860" rx="70" ry="98" transform="rotate(-28 655 860)"/>
<path class="o" d="M610,840 C625,830 640,835 645,850 C660,850 670,860 665,875 C675,885 670,900 655,905 C650,920 635,920 628,910 C615,910 605,900 610,885 C600,870 600,850 610,840Z" style="stroke-width:1.5"/>
<ellipse class="of" cx="1395" cy="722" rx="98" ry="130" transform="rotate(-28 1395 722)" style="stroke-width:2.2"/>
<ellipse class="t" cx="1380" cy="732" rx="70" ry="98" transform="rotate(-28 1380 732)"/>
<path class="o" d="M1330,712 C1345,702 1360,707 1365,722 C1380,722 1390,732 1385,747 C1395,757 1390,772 1375,777 C1370,792 1355,792 1348,782 C1335,782 1325,772 1330,757 C1320,742 1320,722 1330,712Z" style="stroke-width:1.5"/>
<path class="o" d="M790,880 L850,890 C950,900 1050,890 1130,860 L1200,840 L1265,880"/>
<path class="o" d="M780,950 L850,890"/>
<path class="o" d="M1010,900 L1280,1050 L1340,1020"/>
</g>

<!-- pump Q6 + bolt 9 : zoom (1560,700) 6.66x -->
<g transform="translate(1560,700) scale(0.15015)">
<path class="o" d="M375,0 L385,260 C390,310 440,335 510,335 C580,335 630,300 635,250 L640,0"/>
<!-- bolt 9 -->
<path class="of" d="M715,825 L725,870 L795,907 L880,892 L915,850 L920,820Z"/>
<path class="t" d="M795,872 L795,907"/>
<ellipse class="of" cx="818" cy="782" rx="130" ry="70"/>
<ellipse class="of" cx="818" cy="772" rx="130" ry="68"/>
<ellipse class="t" cx="818" cy="775" rx="105" ry="52"/>
<path class="of" d="M755,185 C755,150 790,138 820,138 C850,138 885,150 885,185 L885,770 C870,800 770,800 755,770Z"/>
<ellipse class="t" cx="820" cy="180" rx="45" ry="22"/>
<path class="t" d="M757,215 C780,240 860,240 883,210 M757,260 C780,285 860,285 883,255 M757,305 C780,330 860,330 883,300 M757,350 C780,375 860,375 883,345 M757,395 C780,420 860,420 883,390 M757,440 C780,465 860,465 883,435 M757,485 C780,510 860,510 883,480 M757,530 C780,555 860,555 883,525 M757,575 C780,600 860,600 883,570 M757,615 C780,640 860,640 883,610"/>
<path class="t" d="M770,775 C790,790 850,790 870,775"/>
</g>

<!-- O-ring 13 + strainer 14 : zoom T (1330,900) 5x -->
<g transform="translate(1330,900) scale(0.2003)">
<ellipse class="o" cx="478" cy="293" rx="230" ry="146" style="stroke-width:2.2"/>
<ellipse class="o" cx="478" cy="291" rx="193" ry="99"/>
<path class="t" d="M262,305 C275,375 370,412 480,412 C590,412 680,375 694,305"/>
<!-- body top -->
<path class="o" d="M690,655 L1260,330 C1300,305 1350,295 1400,295 C1500,300 1620,370 1720,460 C1780,520 1810,570 1815,610 C1820,660 1800,700 1770,720 L1660,790"/>
<path class="o" d="M720,690 L1230,680 L1280,650 C1350,645 1420,630 1500,615 C1560,605 1620,620 1650,650 C1665,670 1665,720 1660,790 L1465,910 C1450,920 1445,940 1450,960 L1460,1040"/>
<path class="o" d="M1240,680 L1255,690 L1195,725"/>
<path class="t" d="M1740,470 C1760,500 1765,540 1750,570 M1355,900 C1370,920 1380,950 1382,970"/>
<ellipse class="o" cx="1545" cy="678" rx="80" ry="48"/>
<ellipse class="o" cx="1548" cy="682" rx="55" ry="32" style="stroke-width:1.6"/>
<ellipse class="m" cx="1190" cy="852" rx="40" ry="24"/>
<!-- lug -->
<path class="o" d="M100,680 C100,640 130,610 180,605 C230,600 270,615 290,640"/>
<path class="o" d="M100,680 L105,780 C110,800 130,820 150,830 L215,885"/>
<path class="t" d="M125,740 L240,890"/>
<path class="o" d="M105,755 L125,740"/>
<ellipse class="o" cx="215" cy="670" rx="58" ry="35"/>
<path class="o" d="M173,672 C180,695 250,698 258,672" style="stroke-width:1.6"/>
<!-- neck -->
<path class="of" d="M230,880 C260,950 350,990 480,995 C600,995 720,950 745,860 C750,830 740,800 715,775 L705,720 L258,720Z" style="stroke:none"/>
<path class="o" d="M230,880 C260,950 350,990 480,995 C600,995 720,950 745,860 C750,830 740,800 715,775"/>
<path class="o" d="M265,790 C275,880 400,925 520,915 C630,905 705,850 712,790"/>
<path class="t" d="M262,760 C270,850 400,900 520,890 C620,880 700,830 708,770"/>
<ellipse class="of" cx="481" cy="725" rx="225" ry="141" style="stroke-width:2.2"/>
<ellipse class="o" cx="483" cy="710" rx="168" ry="96"/>
<path class="t" d="M330,800 C380,830 450,840 520,835 C580,830 620,815 650,790" style="stroke-dasharray:22 10"/>
<path class="o" d="M490,800 C520,792 560,782 600,768" style="stroke-width:3"/>
<path class="t" d="M540,735 C580,745 600,760 610,775"/>
<!-- front-left -->
<path class="o" d="M245,960 C232,990 228,1020 232,1050 M290,950 L285,1020 M290,1145 C300,1125 320,1110 340,1100"/>
<path class="t" d="M365,1045 C360,1080 345,1100 320,1115"/>
<path class="o" d="M1770,720 L1750,750 L1790,1080"/>
<path class="t" d="M1465,1010 L1470,1050"/>
</g>
<!-- lower part : zoom T2 (1330,1078) 5x -->
<g transform="translate(1330,1078) scale(0.2003)">
<path class="o" d="M232,-40 C228,120 228,180 235,210 C240,240 260,260 290,280 L640,500 C700,540 760,560 850,565 C950,565 1020,540 1080,505 L1420,290 C1460,260 1480,220 1480,170 L1460,40"/>
<path class="o" d="M250,250 L660,520 C720,560 780,585 850,585 C930,585 990,565 1040,535 L1430,300"/>
<path class="o" d="M240,225 L650,480 C720,515 780,525 850,525 C950,525 1020,500 1070,470 L1400,270"/>
<path class="o" d="M1790,190 C1790,215 1780,230 1760,240 L1490,400 C1430,430 1340,420 1290,385"/>
<text transform="translate(1058,378) rotate(-31)" font-size="46" font-weight="bold" font-style="italic" fill="#111" style="filter:grayscale(1)">PA66 GF30</text>
<!-- bolt 8 -->
<path class="of" d="M140,1005 L145,1045 L195,1072 L270,1057 L300,1010Z"/>
<path class="t" d="M195,1040 L195,1072"/>
<ellipse class="of" cx="215" cy="975" rx="100" ry="52"/>
<ellipse class="of" cx="215" cy="966" rx="100" ry="52"/>
<ellipse class="t" cx="215" cy="968" rx="82" ry="40"/>
<path class="of" d="M162,745 C162,720 190,712 215,712 C240,712 268,720 268,745 L268,960 C255,985 175,985 162,960Z"/>
<path class="t" d="M185,742 C195,752 235,752 245,742"/>
<path class="m" d="M164,775 C185,795 245,795 266,770 M164,815 C185,835 245,835 266,810 M164,855 C185,875 245,875 266,850 M164,895 C185,915 245,915 266,890 M164,935 C185,955 245,955 266,930"/>
<path class="t" d="M175,965 C195,978 240,978 258,965"/>
</g>
<!-- O-ring 12 -->
<ellipse class="o" cx="1572.5" cy="313.6" rx="35" ry="22.7" style="stroke-width:2.2"/>
<ellipse class="o" cx="1572.5" cy="314.2" rx="28.3" ry="13.6"/>
<path class="t" d="M1541,317 C1546,328 1558,332 1572.5,332 C1587,332 1599,328 1604,317"/>

<!-- watermark G : zoom (900,590) 7.93x -->
<g transform="translate(900,590) scale(0.1261)">
<path d="M1322,352 C1290,240 1130,140 920,140 C640,140 380,300 270,560 C200,730 200,900 240,1030 C270,1130 330,1200 420,1200 L1190,1200 C1250,1200 1280,1160 1290,1100 L1362,640 C1370,590 1345,560 1300,560 L770,560 C740,560 730,575 725,600 L710,690 C705,730 720,750 750,750 L1132,750 L1108,890 C1098,945 1075,970 1030,970 L600,970 C530,970 495,930 490,850 C480,700 530,560 620,460 C690,390 780,366 880,366 L1310,366 C1322,366 1325,360 1322,352 Z" fill="rgba(205,90,110,0.10)" stroke="rgba(90,80,85,0.65)" stroke-width="1"/>
</g>

<!-- axis lines -->
<path class="dd" style="stroke-dasharray:52 4.5 4 4.5;stroke-dashoffset:28" d="M465.5,47 L1438,550"/>
<path class="dd" style="stroke-dasharray:11 4 3 4 200" d="M465.5,49 L467,103"/>
<path class="dd" style="stroke-dasharray:41 3.5 3 3.5" d="M470.5,249 L477.5,452"/>
<path class="dd" style="stroke-dasharray:28 3.5 3 3.5 31 3.5 3 3.5 200" d="M478.5,492 L484,617"/>
<path class="dd" style="stroke-dasharray:30 4 3 4" d="M572,537 L620,561"/>
<path class="dd" style="stroke-dasharray:40 4 3 4;stroke-dashoffset:0" d="M620,561 L965,364"/>
<path class="dd" style="stroke-dasharray:40 4 3 4;stroke-dashoffset:0" d="M965,364 L1374,563"/>
<path class="ld" d="M944,969.5 L967.5,956"/>
<path class="dd" style="stroke-dasharray:5 4.5 19 4.5 6 4.5 22 4.5 6 4.5 40 4.5 5 4.5 200" d="M984.5,946 L1069,898.5"/>
<path class="dd" style="stroke-dasharray:12 4 5 4 48 4 5 4 52 4 5 4 60 4 5 4 60" d="M1137,851 L1362,738"/>
<path class="ld" d="M918,563 L1024,504.5" style="stroke-dasharray:24 5 6 5 36 5 6 5 200"/>
<path class="dd" style="stroke-dasharray:28 4 3 4 40 4 3 4" d="M1572.5,350 L1572.5,667"/>
<path class="ld" d="M1435,471 L1435.5,492"/>
<path class="dd" style="stroke-dasharray:7 4" d="M1435.5,497 L1437.5,550"/>
<path class="dd" style="stroke-dasharray:40 4 3 4" d="M1683,664 L1683,717"/>
<path class="dd" style="stroke-dasharray:40 4 3 4" d="M1374.3,786 L1373,1032"/>
<path class="dd" style="stroke-dasharray:40 4 3 4" d="M1373,1075 L1372.8,1222"/>
<path class="dd" style="stroke-dasharray:40 4 3 4" d="M1425.8,849 L1425.8,960"/>
<path class="dd" style="stroke-dasharray:40 4 3 4" d="M1425.8,993 L1425.8,1052"/>

<g id="lbl" style="filter:grayscale(1)">
<!-- leaders + labels -->
<path class="ld" d="M341,151 L459,166"/>
<text class="lb" x="302.4" y="159.4">10</text>
<path class="ld" d="M105,387 L205,350"/>
<text class="lb" x="75.4" y="407.4">5</text>
<path class="ld" d="M107,486 L299.5,442"/>
<text class="lb" x="75.4" y="502.4">3</text>
<path class="ld" d="M339,731 L471,668"/>
<text class="lb" x="309.4" y="751.4">6</text>
<path class="ld" d="M830,880 L949.5,936"/>
<text class="lb" x="793.4" y="882.4">11</text>
<path class="ld" d="M830,954 L887.8,977.6"/>
<text class="lb" x="800.4" y="956.4">7</text>
<path class="ld" d="M937,800 L988,823"/>
<text class="lb" x="906.4" y="803.4">2</text>
<path class="ld" d="M937,711 L1033,679"/>
<text class="lb" x="906.4" y="731.4">4</text>
<path class="ld" d="M1726.7,680 L1786.7,737"/>
<text class="lb" x="1795.4" y="763.4">1</text>
<path class="ld" d="M1702.5,814 L1780.5,824.5"/>
<text class="lb" x="1794.9" y="838.4">9</text>
<path class="ld" d="M1479,307.3 L1537.6,312.5"/>
<text class="lb" x="1439.4" y="315.9">12</text>
<path class="ld" d="M1471,949 L1561,927.4"/>
<text class="lb" x="1567.9" y="932.4">13</text>
<path class="ld" d="M1276,1083.7 L1350,1052.5"/>
<text class="lb" x="1237.9" y="1104.9">14</text>
<path class="ld" d="M1276.7,1271.8 L1353.8,1271"/>
<text class="lb" x="1244.4" y="1283.9">8</text>
<text class="lb" x="1861.4" y="1341.4" textLength="136.5" lengthAdjust="spacingAndGlyphs">RAF00717</text>
</g>

</svg>
</body></html>
